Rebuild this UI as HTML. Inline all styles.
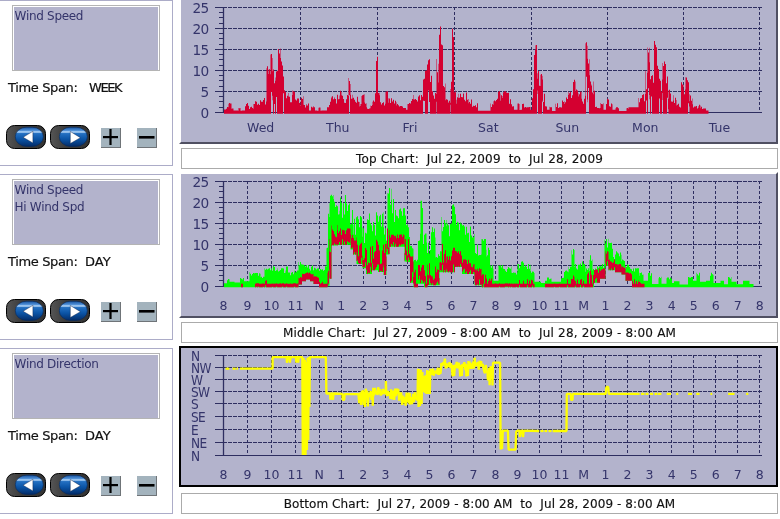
<!DOCTYPE html><html><head><meta charset="utf-8"><style>
html,body{margin:0;padding:0;background:#fff;}
body{width:780px;height:519px;position:relative;overflow:hidden;font-family:'DejaVu Sans', 'Liberation Sans', sans-serif;}
.bt{position:absolute;left:14.6px;font-size:12px;letter-spacing:-0.3px;color:#34346a;line-height:14px;white-space:pre;}
.ts{position:absolute;left:8px;font-size:13px;letter-spacing:-0.35px;color:#111;-webkit-text-stroke:0.2px #111;line-height:16px;white-space:pre;}
.tt{position:absolute;left:181px;width:595px;height:19px;border:1px solid #ababab;background:#fff;text-align:center;font-size:12px;line-height:20px;color:#111;white-space:pre;letter-spacing:0.18px;-webkit-text-stroke:0.15px #111;}
svg text{font-family:'DejaVu Sans', 'Liberation Sans', sans-serif;}
</style></head><body>
<div style="position:absolute;left:0;top:0px;width:172px;height:164px;border-top:1px solid #acacc8;border-right:1px solid #acacc8;border-bottom:1px solid #acacc8;"></div>
<div style="position:absolute;left:12px;top:5px;width:146px;height:64px;border:1px solid #b4b4b4;background:#b3b3cc;box-shadow:inset 1px 1px 0 #fff, inset -1px 0 0 #fff;"></div>
<div class="bt" style="top:9.2px">Wind Speed</div>
<div class="ts" style="top:80.3px">Time Span:</div>
<div class="ts" style="top:80.3px;left:89px;letter-spacing:-1.4px">WEEK</div>
<svg style="position:absolute;left:6px;top:125px" width="40" height="24" viewBox="0 0 40 24"><defs><linearGradient id="bg6125" x1="0" y1="0" x2="0" y2="1"><stop offset="0" stop-color="#1552a0"/><stop offset="0.17" stop-color="#4f8fd6"/><stop offset="0.25" stop-color="#bcdcfb"/><stop offset="0.33" stop-color="#2470c2"/><stop offset="0.62" stop-color="#0b54a6"/><stop offset="1" stop-color="#032c68"/></linearGradient><linearGradient id="obg6125" x1="0" y1="0" x2="1" y2="0"><stop offset="0" stop-color="#555"/><stop offset="0.4" stop-color="#3a3a3a"/><stop offset="1" stop-color="#333"/></linearGradient></defs><rect x="0.5" y="0.5" width="39" height="23" rx="8" ry="8" fill="url(#obg6125)" stroke="#000" stroke-width="1"/><rect x="9.3" y="2.2" width="28" height="19.2" rx="11" ry="9.6" fill="url(#bg6125)" stroke="#06285a" stroke-width="0.6"/><polygon points="17.1,12.3 26.9,6.3 26.9,17.9" fill="#fff" stroke="#0a1a40" stroke-width="0.4"/></svg>
<svg style="position:absolute;left:50px;top:125px" width="40" height="24" viewBox="0 0 40 24"><defs><linearGradient id="bg50125" x1="0" y1="0" x2="0" y2="1"><stop offset="0" stop-color="#1552a0"/><stop offset="0.17" stop-color="#4f8fd6"/><stop offset="0.25" stop-color="#bcdcfb"/><stop offset="0.33" stop-color="#2470c2"/><stop offset="0.62" stop-color="#0b54a6"/><stop offset="1" stop-color="#032c68"/></linearGradient><linearGradient id="obg50125" x1="0" y1="0" x2="1" y2="0"><stop offset="0" stop-color="#555"/><stop offset="0.4" stop-color="#3a3a3a"/><stop offset="1" stop-color="#333"/></linearGradient></defs><rect x="0.5" y="0.5" width="39" height="23" rx="8" ry="8" fill="url(#obg50125)" stroke="#000" stroke-width="1"/><rect x="9.3" y="2.2" width="28" height="19.2" rx="11" ry="9.6" fill="url(#bg50125)" stroke="#06285a" stroke-width="0.6"/><polygon points="20.3,6.5 20.3,18.5 30.4,12.7" fill="#fff" stroke="#0a1a40" stroke-width="0.4"/></svg>
<svg style="position:absolute;left:101px;top:128px" width="21" height="21" viewBox="0 0 21 21"><rect x="0" y="0" width="20" height="20" fill="#6f7478"/><rect x="0" y="0" width="19" height="19" fill="#a3b3bd"/><rect x="2" y="8" width="15" height="2.2" fill="#000"/><rect x="8.4" y="1" width="2.2" height="16" fill="#000"/></svg>
<svg style="position:absolute;left:137px;top:128px" width="21" height="21" viewBox="0 0 21 21"><rect x="0" y="0" width="20" height="20" fill="#6f7478"/><rect x="0" y="0" width="19" height="19" fill="#a3b3bd"/><rect x="2" y="8" width="15.5" height="2.6" fill="#000"/></svg>
<div style="position:absolute;left:0;top:174px;width:172px;height:164px;border-top:1px solid #acacc8;border-right:1px solid #acacc8;border-bottom:1px solid #acacc8;"></div>
<div style="position:absolute;left:12px;top:179px;width:146px;height:64px;border:1px solid #b4b4b4;background:#b3b3cc;box-shadow:inset 1px 1px 0 #fff, inset -1px 0 0 #fff;"></div>
<div class="bt" style="top:183.2px">Wind Speed</div>
<div class="bt" style="top:200.2px">Hi Wind Spd</div>
<div class="ts" style="top:254.3px">Time Span:</div>
<div class="ts" style="top:254.3px;left:85px;letter-spacing:0px">DAY</div>
<svg style="position:absolute;left:6px;top:299px" width="40" height="24" viewBox="0 0 40 24"><defs><linearGradient id="bg6299" x1="0" y1="0" x2="0" y2="1"><stop offset="0" stop-color="#1552a0"/><stop offset="0.17" stop-color="#4f8fd6"/><stop offset="0.25" stop-color="#bcdcfb"/><stop offset="0.33" stop-color="#2470c2"/><stop offset="0.62" stop-color="#0b54a6"/><stop offset="1" stop-color="#032c68"/></linearGradient><linearGradient id="obg6299" x1="0" y1="0" x2="1" y2="0"><stop offset="0" stop-color="#555"/><stop offset="0.4" stop-color="#3a3a3a"/><stop offset="1" stop-color="#333"/></linearGradient></defs><rect x="0.5" y="0.5" width="39" height="23" rx="8" ry="8" fill="url(#obg6299)" stroke="#000" stroke-width="1"/><rect x="9.3" y="2.2" width="28" height="19.2" rx="11" ry="9.6" fill="url(#bg6299)" stroke="#06285a" stroke-width="0.6"/><polygon points="17.1,12.3 26.9,6.3 26.9,17.9" fill="#fff" stroke="#0a1a40" stroke-width="0.4"/></svg>
<svg style="position:absolute;left:50px;top:299px" width="40" height="24" viewBox="0 0 40 24"><defs><linearGradient id="bg50299" x1="0" y1="0" x2="0" y2="1"><stop offset="0" stop-color="#1552a0"/><stop offset="0.17" stop-color="#4f8fd6"/><stop offset="0.25" stop-color="#bcdcfb"/><stop offset="0.33" stop-color="#2470c2"/><stop offset="0.62" stop-color="#0b54a6"/><stop offset="1" stop-color="#032c68"/></linearGradient><linearGradient id="obg50299" x1="0" y1="0" x2="1" y2="0"><stop offset="0" stop-color="#555"/><stop offset="0.4" stop-color="#3a3a3a"/><stop offset="1" stop-color="#333"/></linearGradient></defs><rect x="0.5" y="0.5" width="39" height="23" rx="8" ry="8" fill="url(#obg50299)" stroke="#000" stroke-width="1"/><rect x="9.3" y="2.2" width="28" height="19.2" rx="11" ry="9.6" fill="url(#bg50299)" stroke="#06285a" stroke-width="0.6"/><polygon points="20.3,6.5 20.3,18.5 30.4,12.7" fill="#fff" stroke="#0a1a40" stroke-width="0.4"/></svg>
<svg style="position:absolute;left:101px;top:302px" width="21" height="21" viewBox="0 0 21 21"><rect x="0" y="0" width="20" height="20" fill="#6f7478"/><rect x="0" y="0" width="19" height="19" fill="#a3b3bd"/><rect x="2" y="8" width="15" height="2.2" fill="#000"/><rect x="8.4" y="1" width="2.2" height="16" fill="#000"/></svg>
<svg style="position:absolute;left:137px;top:302px" width="21" height="21" viewBox="0 0 21 21"><rect x="0" y="0" width="20" height="20" fill="#6f7478"/><rect x="0" y="0" width="19" height="19" fill="#a3b3bd"/><rect x="2" y="8" width="15.5" height="2.6" fill="#000"/></svg>
<div style="position:absolute;left:0;top:348px;width:172px;height:164px;border-top:1px solid #acacc8;border-right:1px solid #acacc8;border-bottom:1px solid #acacc8;"></div>
<div style="position:absolute;left:12px;top:353px;width:146px;height:64px;border:1px solid #b4b4b4;background:#b3b3cc;box-shadow:inset 1px 1px 0 #fff, inset -1px 0 0 #fff;"></div>
<div class="bt" style="top:357.2px">Wind Direction</div>
<div class="ts" style="top:428.3px">Time Span:</div>
<div class="ts" style="top:428.3px;left:85px;letter-spacing:0px">DAY</div>
<svg style="position:absolute;left:6px;top:473px" width="40" height="24" viewBox="0 0 40 24"><defs><linearGradient id="bg6473" x1="0" y1="0" x2="0" y2="1"><stop offset="0" stop-color="#1552a0"/><stop offset="0.17" stop-color="#4f8fd6"/><stop offset="0.25" stop-color="#bcdcfb"/><stop offset="0.33" stop-color="#2470c2"/><stop offset="0.62" stop-color="#0b54a6"/><stop offset="1" stop-color="#032c68"/></linearGradient><linearGradient id="obg6473" x1="0" y1="0" x2="1" y2="0"><stop offset="0" stop-color="#555"/><stop offset="0.4" stop-color="#3a3a3a"/><stop offset="1" stop-color="#333"/></linearGradient></defs><rect x="0.5" y="0.5" width="39" height="23" rx="8" ry="8" fill="url(#obg6473)" stroke="#000" stroke-width="1"/><rect x="9.3" y="2.2" width="28" height="19.2" rx="11" ry="9.6" fill="url(#bg6473)" stroke="#06285a" stroke-width="0.6"/><polygon points="17.1,12.3 26.9,6.3 26.9,17.9" fill="#fff" stroke="#0a1a40" stroke-width="0.4"/></svg>
<svg style="position:absolute;left:50px;top:473px" width="40" height="24" viewBox="0 0 40 24"><defs><linearGradient id="bg50473" x1="0" y1="0" x2="0" y2="1"><stop offset="0" stop-color="#1552a0"/><stop offset="0.17" stop-color="#4f8fd6"/><stop offset="0.25" stop-color="#bcdcfb"/><stop offset="0.33" stop-color="#2470c2"/><stop offset="0.62" stop-color="#0b54a6"/><stop offset="1" stop-color="#032c68"/></linearGradient><linearGradient id="obg50473" x1="0" y1="0" x2="1" y2="0"><stop offset="0" stop-color="#555"/><stop offset="0.4" stop-color="#3a3a3a"/><stop offset="1" stop-color="#333"/></linearGradient></defs><rect x="0.5" y="0.5" width="39" height="23" rx="8" ry="8" fill="url(#obg50473)" stroke="#000" stroke-width="1"/><rect x="9.3" y="2.2" width="28" height="19.2" rx="11" ry="9.6" fill="url(#bg50473)" stroke="#06285a" stroke-width="0.6"/><polygon points="20.3,6.5 20.3,18.5 30.4,12.7" fill="#fff" stroke="#0a1a40" stroke-width="0.4"/></svg>
<svg style="position:absolute;left:101px;top:476px" width="21" height="21" viewBox="0 0 21 21"><rect x="0" y="0" width="20" height="20" fill="#6f7478"/><rect x="0" y="0" width="19" height="19" fill="#a3b3bd"/><rect x="2" y="8" width="15" height="2.2" fill="#000"/><rect x="8.4" y="1" width="2.2" height="16" fill="#000"/></svg>
<svg style="position:absolute;left:137px;top:476px" width="21" height="21" viewBox="0 0 21 21"><rect x="0" y="0" width="20" height="20" fill="#6f7478"/><rect x="0" y="0" width="19" height="19" fill="#a3b3bd"/><rect x="2" y="8" width="15.5" height="2.6" fill="#000"/></svg>
<svg style="position:absolute;left:0;top:0" width="780" height="519" viewBox="0 0 780 519">
<polygon points="181,142 776,142 776,0 778,-2 778,144 179,144" fill="#505062"/>
<rect x="181" y="0" width="595" height="142" fill="#b3b3cc"/>
<line x1="223" y1="91.5" x2="762" y2="91.5" stroke="#2e2e60" stroke-width="1" stroke-dasharray="4 1"/>
<line x1="223" y1="70.5" x2="762" y2="70.5" stroke="#2e2e60" stroke-width="1" stroke-dasharray="4 1"/>
<line x1="223" y1="49.5" x2="762" y2="49.5" stroke="#2e2e60" stroke-width="1" stroke-dasharray="4 1"/>
<line x1="223" y1="28.5" x2="762" y2="28.5" stroke="#2e2e60" stroke-width="1" stroke-dasharray="4 1"/>
<line x1="223" y1="7.5" x2="762" y2="7.5" stroke="#2e2e60" stroke-width="1" stroke-dasharray="4 1"/>
<line x1="300.5" y1="7" x2="300.5" y2="112.4" stroke="#2e2e60" stroke-width="1" stroke-dasharray="3 2"/>
<line x1="377.5" y1="7" x2="377.5" y2="112.4" stroke="#2e2e60" stroke-width="1" stroke-dasharray="3 2"/>
<line x1="454.5" y1="7" x2="454.5" y2="112.4" stroke="#2e2e60" stroke-width="1" stroke-dasharray="3 2"/>
<line x1="531.5" y1="7" x2="531.5" y2="112.4" stroke="#2e2e60" stroke-width="1" stroke-dasharray="3 2"/>
<line x1="607.5" y1="7" x2="607.5" y2="112.4" stroke="#2e2e60" stroke-width="1" stroke-dasharray="3 2"/>
<line x1="683.5" y1="7" x2="683.5" y2="112.4" stroke="#2e2e60" stroke-width="1" stroke-dasharray="3 2"/>
<line x1="759.5" y1="7" x2="759.5" y2="112.4" stroke="#2e2e60" stroke-width="1" stroke-dasharray="3 2"/>
<line x1="223" y1="112.5" x2="762" y2="112.5" stroke="#2e2e60" stroke-width="1.2"/>
<line x1="223.5" y1="7" x2="223.5" y2="113" stroke="#2e2e60" stroke-width="1.3"/>
<polygon points="224,109.51 224.5,109.51 224.5,109.51 225,109.51 225,109.51 225.5,109.51 225.5,109.51 226,109.51 226,108.65 226.5,108.65 226.5,108.65 227,108.65 227,107.02 227.5,107.02 227.5,106.89 228,106.89 228,107.15 228.5,107.15 228.5,103.67 229,103.67 229,103.09 229.5,103.09 229.5,103.09 230,103.09 230,103.39 230.5,103.39 230.5,103.39 231,103.39 231,103.6 231.5,103.6 231.5,108.67 232,108.67 232,108.46 232.5,108.46 232.5,108.46 233,108.46 233,108.46 233.5,108.46 233.5,110.56 234,110.56 234,110.56 234.5,110.56 234.5,110.56 235,110.56 235,110.56 235.5,110.56 235.5,110.56 236,110.56 236,110.56 236.5,110.56 236.5,110.56 237,110.56 237,110.56 237.5,110.56 237.5,110.61 238,110.61 238,110.63 238.5,110.63 238.5,107.95 239,107.95 239,108.15 239.5,108.15 239.5,108.15 240,108.15 240,108 240.5,108 240.5,110.65 241,110.65 241,110.68 241.5,110.68 241.5,110.68 242,110.68 242,110.56 242.5,110.56 242.5,110.56 243,110.56 243,110.56 243.5,110.56 243.5,110.56 244,110.56 244,110.56 244.5,110.56 244.5,110.56 245,110.56 245,106.22 245.5,106.22 245.5,106.22 246,106.22 246,103.97 246.5,103.97 246.5,103.97 247,103.97 247,103.11 247.5,103.11 247.5,103.11 248,103.11 248,105.83 248.5,105.83 248.5,105.83 249,105.83 249,109.04 249.5,109.04 249.5,109.04 250,109.04 250,107.35 250.5,107.35 250.5,107.35 251,107.35 251,106.82 251.5,106.82 251.5,106.82 252,106.82 252,108.06 252.5,108.06 252.5,108.06 253,108.06 253,108.73 253.5,108.73 253.5,103.88 254,103.88 254,104.1 254.5,104.1 254.5,104.1 255,104.1 255,101.36 255.5,101.36 255.5,101.36 256,101.36 256,101.63 256.5,101.63 256.5,101.63 257,101.63 257,104.87 257.5,104.87 257.5,104.87 258,104.87 258,103.76 258.5,103.76 258.5,103.76 259,103.76 259,104.93 259.5,104.93 259.5,104.93 260,104.93 260,100.31 260.5,100.31 260.5,100.31 261,100.31 261,101.72 261.5,101.72 261.5,101.72 262,101.72 262,101.81 262.5,101.81 262.5,101.81 263,101.81 263,99.89 263.5,99.89 263.5,99.89 264,99.89 264,98.04 264.5,98.04 264.5,98.04 265,98.04 265,104.39 265.5,104.39 265.5,104.39 266,104.39 266,101.56 266.5,101.56 266.5,68.2 267,68.2 267,66.21 267.5,66.21 267.5,66.21 268,66.21 268,69.58 268.5,69.58 268.5,74.03 269,74.03 269,69.3 269.5,69.3 269.5,69.3 270,69.3 270,74.22 270.5,74.22 270.5,54.59 271,54.59 271,53.95 271.5,53.95 271.5,53.95 272,53.95 272,58.06 272.5,58.06 272.5,71.17 273,71.17 273,69.61 273.5,69.61 273.5,69.61 274,69.61 274,83.15 274.5,83.15 274.5,83.15 275,83.15 275,77.54 275.5,77.54 275.5,80.78 276,80.78 276,71.41 276.5,71.41 276.5,71.41 277,71.41 277,70.75 277.5,70.75 277.5,70.75 278,70.75 278,48.97 278.5,48.97 278.5,48.97 279,48.97 279,53.38 279.5,53.38 279.5,53.38 280,53.38 280,48.45 280.5,48.45 280.5,58 281,58 281,61.42 281.5,61.42 281.5,61.42 282,61.42 282,65.44 282.5,65.44 282.5,65.44 283,65.44 283,76.46 283.5,76.46 283.5,76.46 284,76.46 284,90.31 284.5,90.31 284.5,90.31 285,90.31 285,91.84 285.5,91.84 285.5,91.84 286,91.84 286,98.34 286.5,98.34 286.5,98.34 287,98.34 287,95.84 287.5,95.84 287.5,95.84 288,95.84 288,92.96 288.5,92.96 288.5,96.42 289,96.42 289,96.87 289.5,96.87 289.5,96.87 290,96.87 290,102.28 290.5,102.28 290.5,102.28 291,102.28 291,102.21 291.5,102.21 291.5,102.21 292,102.21 292,95.07 292.5,95.07 292.5,90.46 293,90.46 293,91.36 293.5,91.36 293.5,91.36 294,91.36 294,91.72 294.5,91.72 294.5,91.72 295,91.72 295,99.46 295.5,99.46 295.5,99.46 296,99.46 296,100.4 296.5,100.4 296.5,100.4 297,100.4 297,98.54 297.5,98.54 297.5,98.54 298,98.54 298,98.39 298.5,98.39 298.5,98.39 299,98.39 299,102.9 299.5,102.9 299.5,102.9 300,102.9 300,101.52 300.5,101.52 300.5,105.41 301,105.41 301,97.87 301.5,97.87 301.5,97.87 302,97.87 302,98.98 302.5,98.98 302.5,98.98 303,98.98 303,96.3 303.5,96.3 303.5,104.69 304,104.69 304,104.96 304.5,104.96 304.5,104.96 305,104.96 305,107.47 305.5,107.47 305.5,107.47 306,107.47 306,105.53 306.5,105.53 306.5,104.06 307,104.06 307,105.5 307.5,105.5 307.5,105.5 308,105.5 308,103.58 308.5,103.58 308.5,103.58 309,103.58 309,110.56 309.5,110.56 309.5,110.56 310,110.56 310,110.56 310.5,110.56 310.5,110.56 311,110.56 311,106.83 311.5,106.83 311.5,106.83 312,106.83 312,107.52 312.5,107.52 312.5,107.52 313,107.52 313,106.07 313.5,106.07 313.5,107.13 314,107.13 314,107.26 314.5,107.26 314.5,107.26 315,107.26 315,110.56 315.5,110.56 315.5,110.56 316,110.56 316,110.56 316.5,110.56 316.5,110.56 317,110.56 317,110.67 317.5,110.67 317.5,110.67 318,110.67 318,110.67 318.5,110.67 318.5,107.77 319,107.77 319,107.5 319.5,107.5 319.5,107.5 320,107.5 320,107.62 320.5,107.62 320.5,110.64 321,110.64 321,110.64 321.5,110.64 321.5,110.56 322,110.56 322,110.56 322.5,110.56 322.5,110.56 323,110.56 323,110.56 323.5,110.56 323.5,110.56 324,110.56 324,110.56 324.5,110.56 324.5,110.56 325,110.56 325,110.56 325.5,110.56 325.5,110.56 326,110.56 326,110.56 326.5,110.56 326.5,110.56 327,110.56 327,107.2 327.5,107.2 327.5,107.2 328,107.2 328,107.2 328.5,107.2 328.5,107.2 329,107.2 329,104.88 329.5,104.88 329.5,104.88 330,104.88 330,101.63 330.5,101.63 330.5,101.63 331,101.63 331,98.25 331.5,98.25 331.5,96.79 332,96.79 332,96.15 332.5,96.15 332.5,96.15 333,96.15 333,99.31 333.5,99.31 333.5,99.31 334,99.31 334,97.14 334.5,97.14 334.5,98.57 335,98.57 335,98.95 335.5,98.95 335.5,98.95 336,98.95 336,103.6 336.5,103.6 336.5,103.6 337,103.6 337,94.76 337.5,94.76 337.5,94.76 338,94.76 338,99.26 338.5,99.26 338.5,99.26 339,99.26 339,98.96 339.5,98.96 339.5,95.48 340,95.48 340,90.72 340.5,90.72 340.5,90.72 341,90.72 341,92.05 341.5,92.05 341.5,95.18 342,95.18 342,95.73 342.5,95.73 342.5,95.73 343,95.73 343,99.03 343.5,99.03 343.5,99.03 344,99.03 344,102.85 344.5,102.85 344.5,102.85 345,102.85 345,102.95 345.5,102.95 345.5,102.95 346,102.95 346,99.33 346.5,99.33 346.5,99.33 347,99.33 347,95.12 347.5,95.12 347.5,95.12 348,95.12 348,96.03 348.5,96.03 348.5,77.88 349,77.88 349,80.99 349.5,80.99 349.5,80.99 350,80.99 350,84.12 350.5,84.12 350.5,94.76 351,94.76 351,98.86 351.5,98.86 351.5,98.86 352,98.86 352,94.78 352.5,94.78 352.5,98.44 353,98.44 353,97.76 353.5,97.76 353.5,97.76 354,97.76 354,99.66 354.5,99.66 354.5,99.66 355,99.66 355,101.65 355.5,101.65 355.5,101.65 356,101.65 356,102.79 356.5,102.79 356.5,102.79 357,102.79 357,96.65 357.5,96.65 357.5,96.65 358,96.65 358,101.85 358.5,101.85 358.5,101.85 359,101.85 359,101.91 359.5,101.91 359.5,106.53 360,106.53 360,105.88 360.5,105.88 360.5,103.93 361,103.93 361,104.06 361.5,104.06 361.5,95.98 362,95.98 362,95.31 362.5,95.31 362.5,95.31 363,95.31 363,94.66 363.5,94.66 363.5,94.66 364,94.66 364,94.33 364.5,94.33 364.5,102.46 365,102.46 365,103.66 365.5,103.66 365.5,103.66 366,103.66 366,103.15 366.5,103.15 366.5,107.27 367,107.27 367,108.78 367.5,108.78 367.5,108.78 368,108.78 368,108.93 368.5,108.93 368.5,108.93 369,108.93 369,108.44 369.5,108.44 369.5,108.44 370,108.44 370,108.17 370.5,108.17 370.5,105.53 371,105.53 371,106 371.5,106 371.5,106 372,106 372,104.99 372.5,104.99 372.5,101.63 373,101.63 373,100.43 373.5,100.43 373.5,100.43 374,100.43 374,101.84 374.5,101.84 374.5,101.84 375,101.84 375,93.17 375.5,93.17 375.5,93.17 376,93.17 376,61.08 376.5,61.08 376.5,61.08 377,61.08 377,56.78 377.5,56.78 377.5,56.78 378,56.78 378,93.06 378.5,93.06 378.5,93.06 379,93.06 379,92.64 379.5,92.64 379.5,95.2 380,95.2 380,102.35 380.5,102.35 380.5,102.35 381,102.35 381,104.39 381.5,104.39 381.5,104.39 382,104.39 382,103.11 382.5,103.11 382.5,103.11 383,103.11 383,102.27 383.5,102.27 383.5,102.27 384,102.27 384,105.54 384.5,105.54 384.5,105.54 385,105.54 385,103.72 385.5,103.72 385.5,91.69 386,91.69 386,91.53 386.5,91.53 386.5,91.53 387,91.53 387,91.27 387.5,91.27 387.5,91.27 388,91.27 388,98.19 388.5,98.19 388.5,102.68 389,102.68 389,98.49 389.5,98.49 389.5,98.49 390,98.49 390,102.98 390.5,102.98 390.5,102.98 391,102.98 391,98.24 391.5,98.24 391.5,98.24 392,98.24 392,101.57 392.5,101.57 392.5,101.57 393,101.57 393,99.82 393.5,99.82 393.5,99.82 394,99.82 394,103.52 394.5,103.52 394.5,103.52 395,103.52 395,100.63 395.5,100.63 395.5,100.63 396,100.63 396,102.3 396.5,102.3 396.5,105.43 397,105.43 397,104 397.5,104 397.5,104 398,104 398,105.29 398.5,105.29 398.5,105.29 399,105.29 399,106.08 399.5,106.08 399.5,106.88 400,106.88 400,105.91 400.5,105.91 400.5,105.91 401,105.91 401,105.93 401.5,105.93 401.5,105.93 402,105.93 402,106.38 402.5,106.38 402.5,106.38 403,106.38 403,108.04 403.5,108.04 403.5,108.04 404,108.04 404,108.04 404.5,108.04 404.5,108.04 405,108.04 405,108.04 405.5,108.04 405.5,108.04 406,108.04 406,109.72 406.5,109.72 406.5,109.72 407,109.72 407,109.72 407.5,109.72 407.5,104.02 408,104.02 408,103.93 408.5,103.93 408.5,103.93 409,103.93 409,102.89 409.5,102.89 409.5,102.89 410,102.89 410,103.55 410.5,103.55 410.5,103.55 411,103.55 411,100.97 411.5,100.97 411.5,100.97 412,100.97 412,99.05 412.5,99.05 412.5,99.05 413,99.05 413,99.53 413.5,99.53 413.5,95.06 414,95.06 414,99.51 414.5,99.51 414.5,99.51 415,99.51 415,99.02 415.5,99.02 415.5,99.02 416,99.02 416,100.09 416.5,100.09 416.5,100.09 417,100.09 417,101.54 417.5,101.54 417.5,101.54 418,101.54 418,96.46 418.5,96.46 418.5,96.46 419,96.46 419,95.24 419.5,95.24 419.5,95.24 420,95.24 420,100.35 420.5,100.35 420.5,100.35 421,100.35 421,95.02 421.5,95.02 421.5,95.02 422,95.02 422,96.74 422.5,96.74 422.5,96.74 423,96.74 423,79.42 423.5,79.42 423.5,79.42 424,79.42 424,78.81 424.5,78.81 424.5,78.81 425,78.81 425,70.67 425.5,70.67 425.5,70.67 426,70.67 426,70.56 426.5,70.56 426.5,70.56 427,70.56 427,64.39 427.5,64.39 427.5,64.39 428,64.39 428,60.35 428.5,60.35 428.5,60.35 429,60.35 429,59.29 429.5,59.29 429.5,59.29 430,59.29 430,82.11 430.5,82.11 430.5,82.11 431,82.11 431,75.8 431.5,75.8 431.5,75.8 432,75.8 432,91.27 432.5,91.27 432.5,91.27 433,91.27 433,95.54 433.5,95.54 433.5,95.54 434,95.54 434,98.77 434.5,98.77 434.5,98.77 435,98.77 435,92.95 435.5,92.95 435.5,92.95 436,92.95 436,94.04 436.5,94.04 436.5,58.93 437,58.93 437,72.37 437.5,72.37 437.5,72.37 438,72.37 438,82.62 438.5,82.62 438.5,63.75 439,63.75 439,34.69 439.5,34.69 439.5,34.69 440,34.69 440,26.51 440.5,26.51 440.5,26.51 441,26.51 441,44.44 441.5,44.44 441.5,44.44 442,44.44 442,45.14 442.5,45.14 442.5,45.14 443,45.14 443,86.1 443.5,86.1 443.5,86.1 444,86.1 444,87.33 444.5,87.33 444.5,87.33 445,87.33 445,83.55 445.5,83.55 445.5,100.32 446,100.32 446,99.27 446.5,99.27 446.5,99.27 447,99.27 447,99.76 447.5,99.76 447.5,99.76 448,99.76 448,101.67 448.5,101.67 448.5,102.92 449,102.92 449,100.65 449.5,100.65 449.5,100.65 450,100.65 450,102.85 450.5,102.85 450.5,88.97 451,88.97 451,81.65 451.5,81.65 451.5,81.65 452,81.65 452,28.85 452.5,28.85 452.5,28.85 453,28.85 453,37.08 453.5,37.08 453.5,37.08 454,37.08 454,92.15 454.5,92.15 454.5,92.15 455,92.15 455,90.4 455.5,90.4 455.5,92.53 456,92.53 456,99.69 456.5,99.69 456.5,103.67 457,103.67 457,97.23 457.5,97.23 457.5,97.23 458,97.23 458,98.04 458.5,98.04 458.5,93.85 459,93.85 459,97.8 459.5,97.8 459.5,97.8 460,97.8 460,93.75 460.5,93.75 460.5,93.75 461,93.75 461,96.94 461.5,96.94 461.5,96.94 462,96.94 462,97.37 462.5,97.37 462.5,97.37 463,97.37 463,93.4 463.5,93.4 463.5,93.4 464,93.4 464,99.77 464.5,99.77 464.5,99.77 465,99.77 465,101.36 465.5,101.36 465.5,101.36 466,101.36 466,92.6 466.5,92.6 466.5,92.6 467,92.6 467,99.81 467.5,99.81 467.5,99.81 468,99.81 468,99.06 468.5,99.06 468.5,103.22 469,103.22 469,102.09 469.5,102.09 469.5,102.09 470,102.09 470,103.76 470.5,103.76 470.5,103.76 471,103.76 471,99.56 471.5,99.56 471.5,99.56 472,99.56 472,106.7 472.5,106.7 472.5,106.7 473,106.7 473,105.76 473.5,105.76 473.5,105.76 474,105.76 474,105.91 474.5,105.91 474.5,105.91 475,105.91 475,105.31 475.5,105.31 475.5,105.31 476,105.31 476,107.18 476.5,107.18 476.5,107.18 477,107.18 477,103.22 477.5,103.22 477.5,103.22 478,103.22 478,110.77 478.5,110.77 478.5,110.77 479,110.77 479,110.77 479.5,110.77 479.5,110.77 480,110.77 480,110.77 480.5,110.77 480.5,110.77 481,110.77 481,110.77 481.5,110.77 481.5,110.77 482,110.77 482,110.77 482.5,110.77 482.5,110.77 483,110.77 483,110.77 483.5,110.77 483.5,110.77 484,110.77 484,110.77 484.5,110.77 484.5,110.77 485,110.77 485,110.77 485.5,110.77 485.5,110.77 486,110.77 486,110.77 486.5,110.77 486.5,110.77 487,110.77 487,110.77 487.5,110.77 487.5,110.77 488,110.77 488,110.77 488.5,110.77 488.5,110.77 489,110.77 489,110.77 489.5,110.77 489.5,110.77 490,110.77 490,110.77 490.5,110.77 490.5,103.45 491,103.45 491,107.09 491.5,107.09 491.5,107.09 492,107.09 492,104.29 492.5,104.29 492.5,104.29 493,104.29 493,104.67 493.5,104.67 493.5,101.14 494,101.14 494,100.48 494.5,100.48 494.5,100.48 495,100.48 495,101.14 495.5,101.14 495.5,101.14 496,101.14 496,100.1 496.5,100.1 496.5,100.1 497,100.1 497,98.63 497.5,98.63 497.5,98.63 498,98.63 498,92.11 498.5,92.11 498.5,92.11 499,92.11 499,91.06 499.5,91.06 499.5,91.06 500,91.06 500,93.5 500.5,93.5 500.5,100.65 501,100.65 501,95.18 501.5,95.18 501.5,95.18 502,95.18 502,98.03 502.5,98.03 502.5,96.1 503,96.1 503,92.14 503.5,92.14 503.5,92.14 504,92.14 504,91.2 504.5,91.2 504.5,91.2 505,91.2 505,91.24 505.5,91.24 505.5,91.24 506,91.24 506,92.39 506.5,92.39 506.5,92.39 507,92.39 507,92.96 507.5,92.96 507.5,92.96 508,92.96 508,92.81 508.5,92.81 508.5,92.81 509,92.81 509,103.73 509.5,103.73 509.5,103.73 510,103.73 510,99.36 510.5,99.36 510.5,99.36 511,99.36 511,104.22 511.5,104.22 511.5,104.22 512,104.22 512,106.45 512.5,106.45 512.5,106.45 513,106.45 513,106.21 513.5,106.21 513.5,106.21 514,106.21 514,109.72 514.5,109.72 514.5,109.72 515,109.72 515,109.72 515.5,109.72 515.5,109.72 516,109.72 516,109.81 516.5,109.81 516.5,109.81 517,109.81 517,109.84 517.5,109.84 517.5,103.58 518,103.58 518,103.4 518.5,103.4 518.5,103.4 519,103.4 519,104.08 519.5,104.08 519.5,109.94 520,109.94 520,109.88 520.5,109.88 520.5,109.72 521,109.72 521,109.86 521.5,109.86 521.5,109.86 522,109.86 522,103.9 522.5,103.9 522.5,103.9 523,103.9 523,103.85 523.5,103.85 523.5,103.85 524,103.85 524,107.4 524.5,107.4 524.5,107.4 525,107.4 525,106.92 525.5,106.92 525.5,107.11 526,107.11 526,107.51 526.5,107.51 526.5,107.51 527,107.51 527,107.27 527.5,107.27 527.5,107.27 528,107.27 528,107.37 528.5,107.37 528.5,107.37 529,107.37 529,106.99 529.5,106.99 529.5,106.99 530,106.99 530,106.89 530.5,106.89 530.5,109.72 531,109.72 531,109.72 531.5,109.72 531.5,109.72 532,109.72 532,98.16 532.5,98.16 532.5,98.16 533,98.16 533,89.18 533.5,89.18 533.5,89.18 534,89.18 534,55.08 534.5,55.08 534.5,55.08 535,55.08 535,49.67 535.5,49.67 535.5,45.35 536,45.35 536,45.02 536.5,45.02 536.5,45.02 537,45.02 537,73.13 537.5,73.13 537.5,78.73 538,78.73 538,70.97 538.5,70.97 538.5,70.97 539,70.97 539,85.78 539.5,85.78 539.5,85.78 540,85.78 540,86.12 540.5,86.12 540.5,74.71 541,74.71 541,73.91 541.5,73.91 541.5,73.91 542,73.91 542,75.8 542.5,75.8 542.5,79.59 543,79.59 543,102.03 543.5,102.03 543.5,102.03 544,102.03 544,93.85 544.5,93.85 544.5,93.85 545,93.85 545,106.32 545.5,106.32 545.5,106.32 546,106.32 546,106.45 546.5,106.45 546.5,106.45 547,106.45 547,109.72 547.5,109.72 547.5,109.72 548,109.72 548,109.72 548.5,109.72 548.5,109.84 549,109.84 549,109.73 549.5,109.73 549.5,106.8 550,106.8 550,107.33 550.5,107.33 550.5,107.33 551,107.33 551,107.16 551.5,107.16 551.5,107.16 552,107.16 552,111.03 552.5,111.03 552.5,111.03 553,111.03 553,110.98 553.5,110.98 553.5,110.98 554,110.98 554,110.98 554.5,110.98 554.5,110.98 555,110.98 555,110.98 555.5,110.98 555.5,103.86 556,103.86 556,107.1 556.5,107.1 556.5,107.1 557,107.1 557,103.32 557.5,103.32 557.5,103.32 558,103.32 558,108.01 558.5,108.01 558.5,108.01 559,108.01 559,107.2 559.5,107.2 559.5,107.2 560,107.2 560,107.25 560.5,107.25 560.5,107.25 561,107.25 561,107.42 561.5,107.42 561.5,107.42 562,107.42 562,100.56 562.5,100.56 562.5,100.56 563,100.56 563,102.08 563.5,102.08 563.5,102.08 564,102.08 564,103.96 564.5,103.96 564.5,101.15 565,101.15 565,102.34 565.5,102.34 565.5,102.34 566,102.34 566,97.62 566.5,97.62 566.5,97.62 567,97.62 567,98.99 567.5,98.99 567.5,98.99 568,98.99 568,94.97 568.5,94.97 568.5,91.85 569,91.85 569,93.17 569.5,93.17 569.5,93.17 570,93.17 570,91.81 570.5,91.81 570.5,91.81 571,91.81 571,97.97 571.5,97.97 571.5,97.97 572,97.97 572,95.31 572.5,95.31 572.5,95.31 573,95.31 573,82.06 573.5,82.06 573.5,82.06 574,82.06 574,79.82 574.5,79.82 574.5,79.82 575,79.82 575,81.47 575.5,81.47 575.5,91.5 576,91.5 576,89.57 576.5,89.57 576.5,89.57 577,89.57 577,90.43 577.5,90.43 577.5,90.43 578,90.43 578,93.14 578.5,93.14 578.5,96.55 579,96.55 579,94.32 579.5,94.32 579.5,94.32 580,94.32 580,91.76 580.5,91.76 580.5,91.76 581,91.76 581,91.41 581.5,91.41 581.5,98.7 582,98.7 582,101.62 582.5,101.62 582.5,101.62 583,101.62 583,103.78 583.5,103.78 583.5,103.78 584,103.78 584,98.77 584.5,98.77 584.5,98.77 585,98.77 585,95.81 585.5,95.81 585.5,43.32 586,43.32 586,42.33 586.5,42.33 586.5,42.33 587,42.33 587,45.71 587.5,45.71 587.5,58.73 588,58.73 588,63.54 588.5,63.54 588.5,63.54 589,63.54 589,59.24 589.5,59.24 589.5,75.32 590,75.32 590,81.44 590.5,81.44 590.5,81.44 591,81.44 591,84.52 591.5,84.52 591.5,85.69 592,85.69 592,92.48 592.5,92.48 592.5,92.48 593,92.48 593,81.4 593.5,81.4 593.5,94.35 594,94.35 594,90.82 594.5,90.82 594.5,90.82 595,90.82 595,106.91 595.5,106.91 595.5,106.91 596,106.91 596,106.67 596.5,106.67 596.5,106.67 597,106.67 597,108.04 597.5,108.04 597.5,108.04 598,108.04 598,108.04 598.5,108.04 598.5,108.04 599,108.04 599,108.04 599.5,108.04 599.5,108.51 600,108.51 600,108.09 600.5,108.09 600.5,103.12 601,103.12 601,104.09 601.5,104.09 601.5,104.09 602,104.09 602,104.24 602.5,104.24 602.5,104.24 603,104.24 603,103.26 603.5,103.26 603.5,109.77 604,109.77 604,109.72 604.5,109.72 604.5,109.72 605,109.72 605,109.72 605.5,109.72 605.5,109.72 606,109.72 606,103.92 606.5,103.92 606.5,103.92 607,103.92 607,98.82 607.5,98.82 607.5,98.82 608,98.82 608,99.5 608.5,99.5 608.5,99.5 609,99.5 609,106.33 609.5,106.33 609.5,106.33 610,106.33 610,106.77 610.5,106.77 610.5,106.77 611,106.77 611,103.57 611.5,103.57 611.5,103.57 612,103.57 612,104.34 612.5,104.34 612.5,109.72 613,109.72 613,109.72 613.5,109.72 613.5,109.72 614,109.72 614,109.72 614.5,109.72 614.5,109.72 615,109.72 615,109.72 615.5,109.72 615.5,108.27 616,108.27 616,107.16 616.5,107.16 616.5,107.16 617,107.16 617,107.21 617.5,107.21 617.5,107.21 618,107.21 618,108.21 618.5,108.21 618.5,108.21 619,108.21 619,110.98 619.5,110.98 619.5,110.98 620,110.98 620,110.98 620.5,110.98 620.5,110.98 621,110.98 621,110.98 621.5,110.98 621.5,110.98 622,110.98 622,110.98 622.5,110.98 622.5,110.98 623,110.98 623,110.98 623.5,110.98 623.5,110.98 624,110.98 624,110.98 624.5,110.98 624.5,110.98 625,110.98 625,110.98 625.5,110.98 625.5,110.98 626,110.98 626,110.98 626.5,110.98 626.5,108.33 627,108.33 627,107.99 627.5,107.99 627.5,107.99 628,107.99 628,108.69 628.5,108.69 628.5,107.2 629,107.2 629,107.2 629.5,107.2 629.5,107.2 630,107.2 630,107.2 630.5,107.2 630.5,107.2 631,107.2 631,107.2 631.5,107.2 631.5,107.2 632,107.2 632,107.2 632.5,107.2 632.5,107.2 633,107.2 633,107.2 633.5,107.2 633.5,107.2 634,107.2 634,107.2 634.5,107.2 634.5,107.2 635,107.2 635,107.2 635.5,107.2 635.5,107.2 636,107.2 636,107.2 636.5,107.2 636.5,107.2 637,107.2 637,107.2 637.5,107.2 637.5,107.2 638,107.2 638,107.2 638.5,107.2 638.5,98.04 639,98.04 639,102.26 639.5,102.26 639.5,102.26 640,102.26 640,98.53 640.5,98.53 640.5,98.53 641,98.53 641,98.03 641.5,98.03 641.5,98.03 642,98.03 642,95.07 642.5,95.07 642.5,95.07 643,95.07 643,94.34 643.5,94.34 643.5,94.34 644,94.34 644,101.22 644.5,101.22 644.5,101.22 645,101.22 645,94.11 645.5,94.11 645.5,70.66 646,70.66 646,89.18 646.5,89.18 646.5,89.18 647,89.18 647,72.83 647.5,72.83 647.5,47.51 648,47.51 648,52.52 648.5,52.52 648.5,52.52 649,52.52 649,47.86 649.5,47.86 649.5,62.19 650,62.19 650,79.17 650.5,79.17 650.5,79.17 651,79.17 651,76.07 651.5,76.07 651.5,76.07 652,76.07 652,75.37 652.5,75.37 652.5,75.37 653,75.37 653,82.64 653.5,82.64 653.5,82.64 654,82.64 654,41.02 654.5,41.02 654.5,41.02 655,41.02 655,44.74 655.5,44.74 655.5,44.74 656,44.74 656,47.29 656.5,47.29 656.5,47.29 657,47.29 657,65.66 657.5,65.66 657.5,65.66 658,65.66 658,69.04 658.5,69.04 658.5,69.04 659,69.04 659,78.67 659.5,78.67 659.5,78.67 660,78.67 660,80.82 660.5,80.82 660.5,80.82 661,80.82 661,91.46 661.5,91.46 661.5,91.46 662,91.46 662,79.41 662.5,79.41 662.5,63.07 663,63.07 663,65.93 663.5,65.93 663.5,65.93 664,65.93 664,61.43 664.5,61.43 664.5,61.43 665,61.43 665,63.93 665.5,63.93 665.5,63.93 666,63.93 666,83.37 666.5,83.37 666.5,83.37 667,83.37 667,76.54 667.5,76.54 667.5,76.54 668,76.54 668,90.41 668.5,90.41 668.5,98.76 669,98.76 669,89.72 669.5,89.72 669.5,89.72 670,89.72 670,93.49 670.5,93.49 670.5,93.49 671,93.49 671,101.59 671.5,101.59 671.5,101.59 672,101.59 672,101.68 672.5,101.68 672.5,101.68 673,101.68 673,100.58 673.5,100.58 673.5,95.17 674,95.17 674,102.94 674.5,102.94 674.5,102.94 675,102.94 675,97.67 675.5,97.67 675.5,97.67 676,97.67 676,100.07 676.5,100.07 676.5,105.59 677,105.59 677,104.63 677.5,104.63 677.5,104.63 678,104.63 678,103.73 678.5,103.73 678.5,103.73 679,103.73 679,106.63 679.5,106.63 679.5,106.63 680,106.63 680,107.42 680.5,107.42 680.5,107.42 681,107.42 681,82.14 681.5,82.14 681.5,82.14 682,82.14 682,84.53 682.5,84.53 682.5,84.53 683,84.53 683,84.68 683.5,84.68 683.5,90.01 684,90.01 684,94.25 684.5,94.25 684.5,94.25 685,94.25 685,89.56 685.5,89.56 685.5,77.32 686,77.32 686,77.51 686.5,77.51 686.5,77.51 687,77.51 687,80.21 687.5,80.21 687.5,80.21 688,80.21 688,82.15 688.5,82.15 688.5,82.15 689,82.15 689,94.18 689.5,94.18 689.5,101.32 690,101.32 690,95.43 690.5,95.43 690.5,95.43 691,95.43 691,100.82 691.5,100.82 691.5,100.82 692,100.82 692,98.61 692.5,98.61 692.5,104.27 693,104.27 693,107.43 693.5,107.43 693.5,107.43 694,107.43 694,106.6 694.5,106.6 694.5,106.6 695,106.6 695,106.6 695.5,106.6 695.5,106.6 696,106.6 696,106.09 696.5,106.09 696.5,106.09 697,106.09 697,108.56 697.5,108.56 697.5,108.56 698,108.56 698,107.86 698.5,107.86 698.5,105.95 699,105.95 699,104.87 699.5,104.87 699.5,104.87 700,104.87 700,105.62 700.5,105.62 700.5,108.22 701,108.22 701,106.79 701.5,106.79 701.5,106.79 702,106.79 702,108.89 702.5,108.89 702.5,108.89 703,108.89 703,108.46 703.5,108.46 703.5,108.46 704,108.46 704,108.46 704.5,108.46 704.5,108.46 705,108.46 705,108.46 705.5,108.46 705.5,108.46 706,108.46 706,110.56 706.5,110.56 706.5,110.56 707,110.56 707,110.56 707.5,110.56 707.5,110.56 708,110.56 708,110.56 708.5,110.56 708.5,113.7 708,113.7 708,113.7 707.5,113.7 707.5,113.7 707,113.7 707,113.7 706.5,113.7 706.5,113.7 706,113.7 706,113.7 705.5,113.7 705.5,113.7 705,113.7 705,113.7 704.5,113.7 704.5,113.7 704,113.7 704,113.7 703.5,113.7 703.5,113.7 703,113.7 703,113.7 702.5,113.7 702.5,113.7 702,113.7 702,113.7 701.5,113.7 701.5,113.7 701,113.7 701,113.7 700.5,113.7 700.5,113.7 700,113.7 700,113.7 699.5,113.7 699.5,113.7 699,113.7 699,113.7 698.5,113.7 698.5,113.7 698,113.7 698,113.7 697.5,113.7 697.5,113.7 697,113.7 697,113.7 696.5,113.7 696.5,113.7 696,113.7 696,113.7 695.5,113.7 695.5,113.7 695,113.7 695,113.7 694.5,113.7 694.5,113.7 694,113.7 694,113.7 693.5,113.7 693.5,113.7 693,113.7 693,113.7 692.5,113.7 692.5,113.7 692,113.7 692,113.7 691.5,113.7 691.5,113.7 691,113.7 691,113.7 690.5,113.7 690.5,113.7 690,113.7 690,113.7 689.5,113.7 689.5,106.52 689,106.52 689,103.27 688.5,103.27 688.5,103.27 688,103.27 688,113.7 687.5,113.7 687.5,113.7 687,113.7 687,113.7 686.5,113.7 686.5,113.7 686,113.7 686,113.7 685.5,113.7 685.5,113.7 685,113.7 685,113.7 684.5,113.7 684.5,113.7 684,113.7 684,113.7 683.5,113.7 683.5,113.7 683,113.7 683,113.7 682.5,113.7 682.5,113.7 682,113.7 682,113.7 681.5,113.7 681.5,113.7 681,113.7 681,113.7 680.5,113.7 680.5,113.7 680,113.7 680,113.7 679.5,113.7 679.5,113.7 679,113.7 679,113.7 678.5,113.7 678.5,113.7 678,113.7 678,113.7 677.5,113.7 677.5,113.7 677,113.7 677,113.7 676.5,113.7 676.5,113.7 676,113.7 676,113.7 675.5,113.7 675.5,113.7 675,113.7 675,113.7 674.5,113.7 674.5,113.7 674,113.7 674,113.7 673.5,113.7 673.5,113.7 673,113.7 673,113.7 672.5,113.7 672.5,113.7 672,113.7 672,113.7 671.5,113.7 671.5,113.7 671,113.7 671,113.7 670.5,113.7 670.5,113.7 670,113.7 670,113.7 669.5,113.7 669.5,113.7 669,113.7 669,113.7 668.5,113.7 668.5,109.14 668,109.14 668,97.72 667.5,97.72 667.5,97.72 667,97.72 667,113.7 666.5,113.7 666.5,113.7 666,113.7 666,113.7 665.5,113.7 665.5,113.7 665,113.7 665,113.7 664.5,113.7 664.5,113.7 664,113.7 664,113.7 663.5,113.7 663.5,113.7 663,113.7 663,92.97 662.5,92.97 662.5,99.88 662,99.88 662,113.7 661.5,113.7 661.5,113.7 661,113.7 661,113.7 660.5,113.7 660.5,113.7 660,113.7 660,98.47 659.5,98.47 659.5,98.47 659,98.47 659,113.7 658.5,113.7 658.5,113.7 658,113.7 658,113.7 657.5,113.7 657.5,113.7 657,113.7 657,113.7 656.5,113.7 656.5,113.7 656,113.7 656,113.7 655.5,113.7 655.5,113.7 655,113.7 655,113.7 654.5,113.7 654.5,113.7 654,113.7 654,113.7 653.5,113.7 653.5,113.7 653,113.7 653,113.7 652.5,113.7 652.5,113.7 652,113.7 652,96.39 651.5,96.39 651.5,96.39 651,96.39 651,113.7 650.5,113.7 650.5,113.7 650,113.7 650,99.17 649.5,99.17 649.5,95.02 649,95.02 649,88.17 648.5,88.17 648.5,88.17 648,88.17 648,113.7 647.5,113.7 647.5,113.7 647,113.7 647,100.53 646.5,100.53 646.5,100.53 646,100.53 646,113.7 645.5,113.7 645.5,113.7 645,113.7 645,113.7 644.5,113.7 644.5,113.7 644,113.7 644,113.7 643.5,113.7 643.5,113.7 643,113.7 643,113.7 642.5,113.7 642.5,113.7 642,113.7 642,113.7 641.5,113.7 641.5,113.7 641,113.7 641,113.7 640.5,113.7 640.5,113.7 640,113.7 640,113.7 639.5,113.7 639.5,113.7 639,113.7 639,113.7 638.5,113.7 638.5,113.7 638,113.7 638,113.7 637.5,113.7 637.5,113.7 637,113.7 637,113.7 636.5,113.7 636.5,113.7 636,113.7 636,113.7 635.5,113.7 635.5,113.7 635,113.7 635,113.7 634.5,113.7 634.5,113.7 634,113.7 634,113.7 633.5,113.7 633.5,113.7 633,113.7 633,113.7 632.5,113.7 632.5,113.7 632,113.7 632,113.7 631.5,113.7 631.5,113.7 631,113.7 631,113.7 630.5,113.7 630.5,113.7 630,113.7 630,113.7 629.5,113.7 629.5,113.7 629,113.7 629,113.7 628.5,113.7 628.5,113.7 628,113.7 628,113.7 627.5,113.7 627.5,113.7 627,113.7 627,113.7 626.5,113.7 626.5,113.7 626,113.7 626,113.7 625.5,113.7 625.5,113.7 625,113.7 625,113.7 624.5,113.7 624.5,113.7 624,113.7 624,113.7 623.5,113.7 623.5,113.7 623,113.7 623,113.7 622.5,113.7 622.5,113.7 622,113.7 622,113.7 621.5,113.7 621.5,113.7 621,113.7 621,113.7 620.5,113.7 620.5,113.7 620,113.7 620,113.7 619.5,113.7 619.5,113.7 619,113.7 619,113.7 618.5,113.7 618.5,113.7 618,113.7 618,113.7 617.5,113.7 617.5,113.7 617,113.7 617,113.7 616.5,113.7 616.5,113.7 616,113.7 616,113.7 615.5,113.7 615.5,113.7 615,113.7 615,113.7 614.5,113.7 614.5,113.7 614,113.7 614,113.7 613.5,113.7 613.5,113.7 613,113.7 613,113.7 612.5,113.7 612.5,113.7 612,113.7 612,113.7 611.5,113.7 611.5,113.7 611,113.7 611,113.7 610.5,113.7 610.5,113.7 610,113.7 610,113.7 609.5,113.7 609.5,113.7 609,113.7 609,113.7 608.5,113.7 608.5,113.7 608,113.7 608,113.7 607.5,113.7 607.5,113.7 607,113.7 607,113.7 606.5,113.7 606.5,113.7 606,113.7 606,113.7 605.5,113.7 605.5,113.7 605,113.7 605,113.7 604.5,113.7 604.5,113.7 604,113.7 604,113.7 603.5,113.7 603.5,113.7 603,113.7 603,113.7 602.5,113.7 602.5,113.7 602,113.7 602,113.7 601.5,113.7 601.5,113.7 601,113.7 601,113.7 600.5,113.7 600.5,113.7 600,113.7 600,113.7 599.5,113.7 599.5,113.7 599,113.7 599,113.7 598.5,113.7 598.5,113.7 598,113.7 598,113.7 597.5,113.7 597.5,113.7 597,113.7 597,113.7 596.5,113.7 596.5,113.7 596,113.7 596,113.7 595.5,113.7 595.5,113.7 595,113.7 595,113.7 594.5,113.7 594.5,113.7 594,113.7 594,113.7 593.5,113.7 593.5,113.7 593,113.7 593,113.7 592.5,113.7 592.5,113.7 592,113.7 592,113.7 591.5,113.7 591.5,113.7 591,113.7 591,113.7 590.5,113.7 590.5,113.7 590,113.7 590,113.7 589.5,113.7 589.5,113.7 589,113.7 589,87.89 588.5,87.89 588.5,87.89 588,87.89 588,102.28 587.5,102.28 587.5,99.53 587,99.53 587,76.83 586.5,76.83 586.5,76.83 586,76.83 586,113.7 585.5,113.7 585.5,113.7 585,113.7 585,113.7 584.5,113.7 584.5,113.7 584,113.7 584,113.7 583.5,113.7 583.5,113.7 583,113.7 583,113.7 582.5,113.7 582.5,113.7 582,113.7 582,113.7 581.5,113.7 581.5,113.7 581,113.7 581,113.7 580.5,113.7 580.5,113.7 580,113.7 580,113.7 579.5,113.7 579.5,113.7 579,113.7 579,113.7 578.5,113.7 578.5,113.7 578,113.7 578,113.7 577.5,113.7 577.5,113.7 577,113.7 577,113.7 576.5,113.7 576.5,113.7 576,113.7 576,113.7 575.5,113.7 575.5,113.7 575,113.7 575,113.7 574.5,113.7 574.5,113.7 574,113.7 574,113.7 573.5,113.7 573.5,113.7 573,113.7 573,113.7 572.5,113.7 572.5,113.7 572,113.7 572,113.7 571.5,113.7 571.5,113.7 571,113.7 571,113.7 570.5,113.7 570.5,113.7 570,113.7 570,113.7 569.5,113.7 569.5,113.7 569,113.7 569,113.7 568.5,113.7 568.5,113.7 568,113.7 568,113.7 567.5,113.7 567.5,113.7 567,113.7 567,113.7 566.5,113.7 566.5,113.7 566,113.7 566,113.7 565.5,113.7 565.5,113.7 565,113.7 565,113.7 564.5,113.7 564.5,113.7 564,113.7 564,113.7 563.5,113.7 563.5,113.7 563,113.7 563,113.7 562.5,113.7 562.5,113.7 562,113.7 562,113.7 561.5,113.7 561.5,113.7 561,113.7 561,113.7 560.5,113.7 560.5,113.7 560,113.7 560,113.7 559.5,113.7 559.5,113.7 559,113.7 559,113.7 558.5,113.7 558.5,113.7 558,113.7 558,113.7 557.5,113.7 557.5,113.7 557,113.7 557,113.7 556.5,113.7 556.5,113.7 556,113.7 556,113.7 555.5,113.7 555.5,113.7 555,113.7 555,113.7 554.5,113.7 554.5,113.7 554,113.7 554,113.7 553.5,113.7 553.5,113.7 553,113.7 553,113.7 552.5,113.7 552.5,113.7 552,113.7 552,113.7 551.5,113.7 551.5,113.7 551,113.7 551,113.7 550.5,113.7 550.5,113.7 550,113.7 550,113.7 549.5,113.7 549.5,113.7 549,113.7 549,113.7 548.5,113.7 548.5,113.7 548,113.7 548,113.7 547.5,113.7 547.5,113.7 547,113.7 547,113.7 546.5,113.7 546.5,113.7 546,113.7 546,113.7 545.5,113.7 545.5,113.7 545,113.7 545,113.7 544.5,113.7 544.5,113.7 544,113.7 544,113.7 543.5,113.7 543.5,113.7 543,113.7 543,102.08 542.5,102.08 542.5,100.73 542,100.73 542,113.7 541.5,113.7 541.5,113.7 541,113.7 541,113.7 540.5,113.7 540.5,113.7 540,113.7 540,113.7 539.5,113.7 539.5,113.7 539,113.7 539,113.7 538.5,113.7 538.5,113.7 538,113.7 538,93.89 537.5,93.89 537.5,90.55 537,90.55 537,113.7 536.5,113.7 536.5,113.7 536,113.7 536,113.7 535.5,113.7 535.5,113.7 535,113.7 535,113.7 534.5,113.7 534.5,113.7 534,113.7 534,113.7 533.5,113.7 533.5,113.7 533,113.7 533,113.7 532.5,113.7 532.5,113.7 532,113.7 532,113.7 531.5,113.7 531.5,113.7 531,113.7 531,113.7 530.5,113.7 530.5,113.7 530,113.7 530,113.7 529.5,113.7 529.5,113.7 529,113.7 529,113.7 528.5,113.7 528.5,113.7 528,113.7 528,113.7 527.5,113.7 527.5,113.7 527,113.7 527,113.7 526.5,113.7 526.5,113.7 526,113.7 526,113.7 525.5,113.7 525.5,113.7 525,113.7 525,113.7 524.5,113.7 524.5,113.7 524,113.7 524,113.7 523.5,113.7 523.5,113.7 523,113.7 523,113.7 522.5,113.7 522.5,113.7 522,113.7 522,113.7 521.5,113.7 521.5,113.7 521,113.7 521,113.7 520.5,113.7 520.5,113.7 520,113.7 520,113.7 519.5,113.7 519.5,113.7 519,113.7 519,113.7 518.5,113.7 518.5,113.7 518,113.7 518,113.7 517.5,113.7 517.5,113.7 517,113.7 517,113.7 516.5,113.7 516.5,113.7 516,113.7 516,113.7 515.5,113.7 515.5,113.7 515,113.7 515,113.7 514.5,113.7 514.5,113.7 514,113.7 514,113.7 513.5,113.7 513.5,113.7 513,113.7 513,113.7 512.5,113.7 512.5,113.7 512,113.7 512,113.7 511.5,113.7 511.5,113.7 511,113.7 511,113.7 510.5,113.7 510.5,113.7 510,113.7 510,113.7 509.5,113.7 509.5,113.7 509,113.7 509,113.7 508.5,113.7 508.5,113.7 508,113.7 508,113.7 507.5,113.7 507.5,113.7 507,113.7 507,113.7 506.5,113.7 506.5,113.7 506,113.7 506,113.7 505.5,113.7 505.5,113.7 505,113.7 505,113.7 504.5,113.7 504.5,113.7 504,113.7 504,113.7 503.5,113.7 503.5,113.7 503,113.7 503,113.7 502.5,113.7 502.5,113.7 502,113.7 502,113.7 501.5,113.7 501.5,113.7 501,113.7 501,113.7 500.5,113.7 500.5,113.7 500,113.7 500,113.7 499.5,113.7 499.5,113.7 499,113.7 499,113.7 498.5,113.7 498.5,113.7 498,113.7 498,113.7 497.5,113.7 497.5,113.7 497,113.7 497,113.7 496.5,113.7 496.5,113.7 496,113.7 496,113.7 495.5,113.7 495.5,113.7 495,113.7 495,113.7 494.5,113.7 494.5,113.7 494,113.7 494,113.7 493.5,113.7 493.5,113.7 493,113.7 493,113.7 492.5,113.7 492.5,113.7 492,113.7 492,113.7 491.5,113.7 491.5,113.7 491,113.7 491,113.7 490.5,113.7 490.5,113.7 490,113.7 490,113.7 489.5,113.7 489.5,113.7 489,113.7 489,113.7 488.5,113.7 488.5,113.7 488,113.7 488,113.7 487.5,113.7 487.5,113.7 487,113.7 487,113.7 486.5,113.7 486.5,113.7 486,113.7 486,113.7 485.5,113.7 485.5,113.7 485,113.7 485,113.7 484.5,113.7 484.5,113.7 484,113.7 484,113.7 483.5,113.7 483.5,113.7 483,113.7 483,113.7 482.5,113.7 482.5,113.7 482,113.7 482,113.7 481.5,113.7 481.5,113.7 481,113.7 481,113.7 480.5,113.7 480.5,113.7 480,113.7 480,113.7 479.5,113.7 479.5,113.7 479,113.7 479,113.7 478.5,113.7 478.5,113.7 478,113.7 478,113.7 477.5,113.7 477.5,113.7 477,113.7 477,113.7 476.5,113.7 476.5,113.7 476,113.7 476,113.7 475.5,113.7 475.5,113.7 475,113.7 475,113.7 474.5,113.7 474.5,113.7 474,113.7 474,113.7 473.5,113.7 473.5,113.7 473,113.7 473,113.7 472.5,113.7 472.5,113.7 472,113.7 472,113.7 471.5,113.7 471.5,113.7 471,113.7 471,113.7 470.5,113.7 470.5,113.7 470,113.7 470,113.7 469.5,113.7 469.5,113.7 469,113.7 469,113.7 468.5,113.7 468.5,113.7 468,113.7 468,113.7 467.5,113.7 467.5,113.7 467,113.7 467,113.7 466.5,113.7 466.5,113.7 466,113.7 466,113.7 465.5,113.7 465.5,113.7 465,113.7 465,113.7 464.5,113.7 464.5,113.7 464,113.7 464,113.7 463.5,113.7 463.5,113.7 463,113.7 463,113.7 462.5,113.7 462.5,113.7 462,113.7 462,113.7 461.5,113.7 461.5,113.7 461,113.7 461,113.7 460.5,113.7 460.5,113.7 460,113.7 460,113.7 459.5,113.7 459.5,113.7 459,113.7 459,113.7 458.5,113.7 458.5,113.7 458,113.7 458,113.7 457.5,113.7 457.5,113.7 457,113.7 457,113.7 456.5,113.7 456.5,113.7 456,113.7 456,113.7 455.5,113.7 455.5,113.7 455,113.7 455,113.7 454.5,113.7 454.5,113.7 454,113.7 454,113.7 453.5,113.7 453.5,113.7 453,113.7 453,113.7 452.5,113.7 452.5,113.7 452,113.7 452,113.7 451.5,113.7 451.5,113.7 451,113.7 451,104.73 450.5,104.73 450.5,113.7 450,113.7 450,113.7 449.5,113.7 449.5,113.7 449,113.7 449,113.7 448.5,113.7 448.5,113.7 448,113.7 448,113.7 447.5,113.7 447.5,113.7 447,113.7 447,113.7 446.5,113.7 446.5,113.7 446,113.7 446,113.7 445.5,113.7 445.5,113.7 445,113.7 445,113.7 444.5,113.7 444.5,113.7 444,113.7 444,113.7 443.5,113.7 443.5,113.7 443,113.7 443,113.7 442.5,113.7 442.5,113.7 442,113.7 442,113.7 441.5,113.7 441.5,113.7 441,113.7 441,113.7 440.5,113.7 440.5,113.7 440,113.7 440,113.7 439.5,113.7 439.5,113.7 439,113.7 439,113.7 438.5,113.7 438.5,113.7 438,113.7 438,113.7 437.5,113.7 437.5,113.7 437,113.7 437,101.77 436.5,101.77 436.5,113.7 436,113.7 436,113.7 435.5,113.7 435.5,113.7 435,113.7 435,113.7 434.5,113.7 434.5,113.7 434,113.7 434,113.7 433.5,113.7 433.5,113.7 433,113.7 433,113.7 432.5,113.7 432.5,113.7 432,113.7 432,113.7 431.5,113.7 431.5,113.7 431,113.7 431,113.7 430.5,113.7 430.5,113.7 430,113.7 430,101.9 429.5,101.9 429.5,101.9 429,101.9 429,90.48 428.5,90.48 428.5,90.48 428,90.48 428,113.7 427.5,113.7 427.5,113.7 427,113.7 427,113.7 426.5,113.7 426.5,113.7 426,113.7 426,113.7 425.5,113.7 425.5,113.7 425,113.7 425,101.04 424.5,101.04 424.5,101.04 424,101.04 424,100.73 423.5,100.73 423.5,100.73 423,100.73 423,113.7 422.5,113.7 422.5,113.7 422,113.7 422,113.7 421.5,113.7 421.5,113.7 421,113.7 421,113.7 420.5,113.7 420.5,113.7 420,113.7 420,113.7 419.5,113.7 419.5,113.7 419,113.7 419,113.7 418.5,113.7 418.5,113.7 418,113.7 418,113.7 417.5,113.7 417.5,113.7 417,113.7 417,113.7 416.5,113.7 416.5,113.7 416,113.7 416,113.7 415.5,113.7 415.5,113.7 415,113.7 415,113.7 414.5,113.7 414.5,113.7 414,113.7 414,113.7 413.5,113.7 413.5,113.7 413,113.7 413,113.7 412.5,113.7 412.5,113.7 412,113.7 412,113.7 411.5,113.7 411.5,113.7 411,113.7 411,113.7 410.5,113.7 410.5,113.7 410,113.7 410,113.7 409.5,113.7 409.5,113.7 409,113.7 409,113.7 408.5,113.7 408.5,113.7 408,113.7 408,113.7 407.5,113.7 407.5,113.7 407,113.7 407,113.7 406.5,113.7 406.5,113.7 406,113.7 406,113.7 405.5,113.7 405.5,113.7 405,113.7 405,113.7 404.5,113.7 404.5,113.7 404,113.7 404,113.7 403.5,113.7 403.5,113.7 403,113.7 403,113.7 402.5,113.7 402.5,113.7 402,113.7 402,113.7 401.5,113.7 401.5,113.7 401,113.7 401,113.7 400.5,113.7 400.5,113.7 400,113.7 400,113.7 399.5,113.7 399.5,113.7 399,113.7 399,113.7 398.5,113.7 398.5,113.7 398,113.7 398,113.7 397.5,113.7 397.5,113.7 397,113.7 397,113.7 396.5,113.7 396.5,113.7 396,113.7 396,113.7 395.5,113.7 395.5,113.7 395,113.7 395,113.7 394.5,113.7 394.5,113.7 394,113.7 394,113.7 393.5,113.7 393.5,113.7 393,113.7 393,113.7 392.5,113.7 392.5,113.7 392,113.7 392,113.7 391.5,113.7 391.5,113.7 391,113.7 391,113.7 390.5,113.7 390.5,113.7 390,113.7 390,113.7 389.5,113.7 389.5,113.7 389,113.7 389,113.7 388.5,113.7 388.5,113.7 388,113.7 388,113.7 387.5,113.7 387.5,113.7 387,113.7 387,113.7 386.5,113.7 386.5,113.7 386,113.7 386,113.7 385.5,113.7 385.5,113.7 385,113.7 385,113.7 384.5,113.7 384.5,113.7 384,113.7 384,113.7 383.5,113.7 383.5,113.7 383,113.7 383,113.7 382.5,113.7 382.5,113.7 382,113.7 382,113.7 381.5,113.7 381.5,113.7 381,113.7 381,113.7 380.5,113.7 380.5,113.7 380,113.7 380,113.7 379.5,113.7 379.5,113.7 379,113.7 379,113.7 378.5,113.7 378.5,113.7 378,113.7 378,113.7 377.5,113.7 377.5,113.7 377,113.7 377,113.7 376.5,113.7 376.5,113.7 376,113.7 376,113.7 375.5,113.7 375.5,113.7 375,113.7 375,113.7 374.5,113.7 374.5,113.7 374,113.7 374,113.7 373.5,113.7 373.5,113.7 373,113.7 373,113.7 372.5,113.7 372.5,113.7 372,113.7 372,113.7 371.5,113.7 371.5,113.7 371,113.7 371,113.7 370.5,113.7 370.5,113.7 370,113.7 370,113.7 369.5,113.7 369.5,113.7 369,113.7 369,113.7 368.5,113.7 368.5,113.7 368,113.7 368,113.7 367.5,113.7 367.5,113.7 367,113.7 367,113.7 366.5,113.7 366.5,113.7 366,113.7 366,113.7 365.5,113.7 365.5,113.7 365,113.7 365,113.7 364.5,113.7 364.5,113.7 364,113.7 364,113.7 363.5,113.7 363.5,113.7 363,113.7 363,113.7 362.5,113.7 362.5,113.7 362,113.7 362,113.7 361.5,113.7 361.5,113.7 361,113.7 361,113.7 360.5,113.7 360.5,113.7 360,113.7 360,113.7 359.5,113.7 359.5,113.7 359,113.7 359,113.7 358.5,113.7 358.5,113.7 358,113.7 358,113.7 357.5,113.7 357.5,113.7 357,113.7 357,113.7 356.5,113.7 356.5,113.7 356,113.7 356,113.7 355.5,113.7 355.5,113.7 355,113.7 355,113.7 354.5,113.7 354.5,113.7 354,113.7 354,113.7 353.5,113.7 353.5,113.7 353,113.7 353,113.7 352.5,113.7 352.5,113.7 352,113.7 352,113.7 351.5,113.7 351.5,113.7 351,113.7 351,113.7 350.5,113.7 350.5,113.7 350,113.7 350,95.26 349.5,95.26 349.5,95.26 349,95.26 349,113.7 348.5,113.7 348.5,113.7 348,113.7 348,113.7 347.5,113.7 347.5,113.7 347,113.7 347,113.7 346.5,113.7 346.5,113.7 346,113.7 346,113.7 345.5,113.7 345.5,113.7 345,113.7 345,113.7 344.5,113.7 344.5,113.7 344,113.7 344,113.7 343.5,113.7 343.5,113.7 343,113.7 343,113.7 342.5,113.7 342.5,113.7 342,113.7 342,113.7 341.5,113.7 341.5,113.7 341,113.7 341,113.7 340.5,113.7 340.5,113.7 340,113.7 340,113.7 339.5,113.7 339.5,113.7 339,113.7 339,113.7 338.5,113.7 338.5,113.7 338,113.7 338,113.7 337.5,113.7 337.5,113.7 337,113.7 337,113.7 336.5,113.7 336.5,113.7 336,113.7 336,113.7 335.5,113.7 335.5,113.7 335,113.7 335,113.7 334.5,113.7 334.5,113.7 334,113.7 334,113.7 333.5,113.7 333.5,113.7 333,113.7 333,113.7 332.5,113.7 332.5,113.7 332,113.7 332,113.7 331.5,113.7 331.5,113.7 331,113.7 331,113.7 330.5,113.7 330.5,113.7 330,113.7 330,113.7 329.5,113.7 329.5,113.7 329,113.7 329,113.7 328.5,113.7 328.5,113.7 328,113.7 328,113.7 327.5,113.7 327.5,113.7 327,113.7 327,113.7 326.5,113.7 326.5,113.7 326,113.7 326,113.7 325.5,113.7 325.5,113.7 325,113.7 325,113.7 324.5,113.7 324.5,113.7 324,113.7 324,113.7 323.5,113.7 323.5,113.7 323,113.7 323,113.7 322.5,113.7 322.5,113.7 322,113.7 322,113.7 321.5,113.7 321.5,113.7 321,113.7 321,113.7 320.5,113.7 320.5,113.7 320,113.7 320,113.7 319.5,113.7 319.5,113.7 319,113.7 319,113.7 318.5,113.7 318.5,113.7 318,113.7 318,113.7 317.5,113.7 317.5,113.7 317,113.7 317,113.7 316.5,113.7 316.5,113.7 316,113.7 316,113.7 315.5,113.7 315.5,113.7 315,113.7 315,113.7 314.5,113.7 314.5,113.7 314,113.7 314,113.7 313.5,113.7 313.5,113.7 313,113.7 313,113.7 312.5,113.7 312.5,113.7 312,113.7 312,113.7 311.5,113.7 311.5,113.7 311,113.7 311,113.7 310.5,113.7 310.5,113.7 310,113.7 310,113.7 309.5,113.7 309.5,113.7 309,113.7 309,113.7 308.5,113.7 308.5,113.7 308,113.7 308,113.7 307.5,113.7 307.5,113.7 307,113.7 307,113.7 306.5,113.7 306.5,113.7 306,113.7 306,113.7 305.5,113.7 305.5,113.7 305,113.7 305,113.7 304.5,113.7 304.5,113.7 304,113.7 304,113.7 303.5,113.7 303.5,113.7 303,113.7 303,113.7 302.5,113.7 302.5,113.7 302,113.7 302,113.7 301.5,113.7 301.5,113.7 301,113.7 301,113.7 300.5,113.7 300.5,113.7 300,113.7 300,113.7 299.5,113.7 299.5,113.7 299,113.7 299,113.7 298.5,113.7 298.5,113.7 298,113.7 298,113.7 297.5,113.7 297.5,113.7 297,113.7 297,113.7 296.5,113.7 296.5,113.7 296,113.7 296,113.7 295.5,113.7 295.5,113.7 295,113.7 295,113.7 294.5,113.7 294.5,113.7 294,113.7 294,113.7 293.5,113.7 293.5,113.7 293,113.7 293,113.7 292.5,113.7 292.5,113.7 292,113.7 292,113.7 291.5,113.7 291.5,113.7 291,113.7 291,113.7 290.5,113.7 290.5,113.7 290,113.7 290,113.7 289.5,113.7 289.5,113.7 289,113.7 289,113.7 288.5,113.7 288.5,113.7 288,113.7 288,113.7 287.5,113.7 287.5,113.7 287,113.7 287,113.7 286.5,113.7 286.5,113.7 286,113.7 286,113.7 285.5,113.7 285.5,113.7 285,113.7 285,113.7 284.5,113.7 284.5,113.7 284,113.7 284,93.23 283.5,93.23 283.5,93.23 283,93.23 283,113.7 282.5,113.7 282.5,113.7 282,113.7 282,113.7 281.5,113.7 281.5,113.7 281,113.7 281,113.7 280.5,113.7 280.5,113.7 280,113.7 280,113.7 279.5,113.7 279.5,113.7 279,113.7 279,113.7 278.5,113.7 278.5,113.7 278,113.7 278,113.7 277.5,113.7 277.5,113.7 277,113.7 277,96.93 276.5,96.93 276.5,96.93 276,96.93 276,113.7 275.5,113.7 275.5,113.7 275,113.7 275,103.95 274.5,103.95 274.5,103.95 274,103.95 274,113.7 273.5,113.7 273.5,113.7 273,113.7 273,100.17 272.5,100.17 272.5,95.86 272,95.86 272,91.91 271.5,91.91 271.5,91.91 271,91.91 271,113.7 270.5,113.7 270.5,113.7 270,113.7 270,113.7 269.5,113.7 269.5,113.7 269,113.7 269,113.7 268.5,113.7 268.5,113.7 268,113.7 268,113.7 267.5,113.7 267.5,113.7 267,113.7 267,113.7 266.5,113.7 266.5,113.7 266,113.7 266,113.7 265.5,113.7 265.5,113.7 265,113.7 265,113.7 264.5,113.7 264.5,113.7 264,113.7 264,113.7 263.5,113.7 263.5,113.7 263,113.7 263,113.7 262.5,113.7 262.5,113.7 262,113.7 262,113.7 261.5,113.7 261.5,113.7 261,113.7 261,113.7 260.5,113.7 260.5,113.7 260,113.7 260,113.7 259.5,113.7 259.5,113.7 259,113.7 259,113.7 258.5,113.7 258.5,113.7 258,113.7 258,113.7 257.5,113.7 257.5,113.7 257,113.7 257,113.7 256.5,113.7 256.5,113.7 256,113.7 256,113.7 255.5,113.7 255.5,113.7 255,113.7 255,113.7 254.5,113.7 254.5,113.7 254,113.7 254,113.7 253.5,113.7 253.5,113.7 253,113.7 253,113.7 252.5,113.7 252.5,113.7 252,113.7 252,113.7 251.5,113.7 251.5,113.7 251,113.7 251,113.7 250.5,113.7 250.5,113.7 250,113.7 250,113.7 249.5,113.7 249.5,113.7 249,113.7 249,113.7 248.5,113.7 248.5,113.7 248,113.7 248,113.7 247.5,113.7 247.5,113.7 247,113.7 247,113.7 246.5,113.7 246.5,113.7 246,113.7 246,113.7 245.5,113.7 245.5,113.7 245,113.7 245,113.7 244.5,113.7 244.5,113.7 244,113.7 244,113.7 243.5,113.7 243.5,113.7 243,113.7 243,113.7 242.5,113.7 242.5,113.7 242,113.7 242,113.7 241.5,113.7 241.5,113.7 241,113.7 241,113.7 240.5,113.7 240.5,113.7 240,113.7 240,113.7 239.5,113.7 239.5,113.7 239,113.7 239,113.7 238.5,113.7 238.5,113.7 238,113.7 238,113.7 237.5,113.7 237.5,113.7 237,113.7 237,113.7 236.5,113.7 236.5,113.7 236,113.7 236,113.7 235.5,113.7 235.5,113.7 235,113.7 235,113.7 234.5,113.7 234.5,113.7 234,113.7 234,113.7 233.5,113.7 233.5,113.7 233,113.7 233,113.7 232.5,113.7 232.5,113.7 232,113.7 232,113.7 231.5,113.7 231.5,113.7 231,113.7 231,113.7 230.5,113.7 230.5,113.7 230,113.7 230,113.7 229.5,113.7 229.5,113.7 229,113.7 229,113.7 228.5,113.7 228.5,113.7 228,113.7 228,113.7 227.5,113.7 227.5,113.7 227,113.7 227,113.7 226.5,113.7 226.5,113.7 226,113.7 226,113.7 225.5,113.7 225.5,113.7 225,113.7 225,113.7 224.5,113.7 224.5,113.7 224,113.7" fill="#d40030"/>
<line x1="215" y1="112.5" x2="223.5" y2="112.5" stroke="#2e2e60" stroke-width="1"/>
<line x1="219" y1="107.5" x2="223.5" y2="107.5" stroke="#2e2e60" stroke-width="1"/>
<line x1="219" y1="101.5" x2="223.5" y2="101.5" stroke="#2e2e60" stroke-width="1"/>
<line x1="219" y1="96.5" x2="223.5" y2="96.5" stroke="#2e2e60" stroke-width="1"/>
<text x="208.5" y="117.7" text-anchor="end" font-size="13.7" fill="#34346a" letter-spacing="-0.75">0</text>
<line x1="215" y1="91.5" x2="223.5" y2="91.5" stroke="#2e2e60" stroke-width="1"/>
<line x1="219" y1="86.5" x2="223.5" y2="86.5" stroke="#2e2e60" stroke-width="1"/>
<line x1="219" y1="80.5" x2="223.5" y2="80.5" stroke="#2e2e60" stroke-width="1"/>
<line x1="219" y1="75.5" x2="223.5" y2="75.5" stroke="#2e2e60" stroke-width="1"/>
<text x="208.5" y="96.7" text-anchor="end" font-size="13.7" fill="#34346a" letter-spacing="-0.75">5</text>
<line x1="215" y1="70.5" x2="223.5" y2="70.5" stroke="#2e2e60" stroke-width="1"/>
<line x1="219" y1="65.5" x2="223.5" y2="65.5" stroke="#2e2e60" stroke-width="1"/>
<line x1="219" y1="59.5" x2="223.5" y2="59.5" stroke="#2e2e60" stroke-width="1"/>
<line x1="219" y1="54.5" x2="223.5" y2="54.5" stroke="#2e2e60" stroke-width="1"/>
<text x="208.5" y="75.7" text-anchor="end" font-size="13.7" fill="#34346a" letter-spacing="-0.75">10</text>
<line x1="215" y1="49.5" x2="223.5" y2="49.5" stroke="#2e2e60" stroke-width="1"/>
<line x1="219" y1="44.5" x2="223.5" y2="44.5" stroke="#2e2e60" stroke-width="1"/>
<line x1="219" y1="38.5" x2="223.5" y2="38.5" stroke="#2e2e60" stroke-width="1"/>
<line x1="219" y1="33.5" x2="223.5" y2="33.5" stroke="#2e2e60" stroke-width="1"/>
<text x="208.5" y="54.7" text-anchor="end" font-size="13.7" fill="#34346a" letter-spacing="-0.75">15</text>
<line x1="215" y1="28.5" x2="223.5" y2="28.5" stroke="#2e2e60" stroke-width="1"/>
<line x1="219" y1="23.5" x2="223.5" y2="23.5" stroke="#2e2e60" stroke-width="1"/>
<line x1="219" y1="17.5" x2="223.5" y2="17.5" stroke="#2e2e60" stroke-width="1"/>
<line x1="219" y1="12.5" x2="223.5" y2="12.5" stroke="#2e2e60" stroke-width="1"/>
<text x="208.5" y="33.7" text-anchor="end" font-size="13.7" fill="#34346a" letter-spacing="-0.75">20</text>
<line x1="215" y1="7.5" x2="223.5" y2="7.5" stroke="#2e2e60" stroke-width="1"/>
<text x="208.5" y="12.7" text-anchor="end" font-size="13.7" fill="#34346a" letter-spacing="-0.75">25</text>
<text x="260.65" y="132" text-anchor="middle" font-size="12.5" fill="#34346a">Wed</text>
<text x="337.75" y="132" text-anchor="middle" font-size="12.5" fill="#34346a">Thu</text>
<text x="410" y="132" text-anchor="middle" font-size="12.5" fill="#34346a">Fri</text>
<text x="488.3" y="132" text-anchor="middle" font-size="12.5" fill="#34346a">Sat</text>
<text x="567.3" y="132" text-anchor="middle" font-size="12.5" fill="#34346a">Sun</text>
<text x="645.3" y="132" text-anchor="middle" font-size="12.5" fill="#34346a">Mon</text>
<text x="719.5" y="132" text-anchor="middle" font-size="12.5" fill="#34346a">Tue</text>
<polygon points="181,316 776,316 776,174 778,172 778,318 179,318" fill="#505062"/>
<rect x="181" y="174" width="595" height="142" fill="#b3b3cc"/>
<line x1="223" y1="265.5" x2="762" y2="265.5" stroke="#2e2e60" stroke-width="1" stroke-dasharray="4 1"/>
<line x1="223" y1="244.5" x2="762" y2="244.5" stroke="#2e2e60" stroke-width="1" stroke-dasharray="4 1"/>
<line x1="223" y1="223.5" x2="762" y2="223.5" stroke="#2e2e60" stroke-width="1" stroke-dasharray="4 1"/>
<line x1="223" y1="202.5" x2="762" y2="202.5" stroke="#2e2e60" stroke-width="1" stroke-dasharray="4 1"/>
<line x1="223" y1="181.5" x2="762" y2="181.5" stroke="#2e2e60" stroke-width="1" stroke-dasharray="4 1"/>
<line x1="247.5" y1="181" x2="247.5" y2="286" stroke="#2e2e60" stroke-width="1" stroke-dasharray="3 2"/>
<line x1="271.5" y1="181" x2="271.5" y2="286" stroke="#2e2e60" stroke-width="1" stroke-dasharray="3 2"/>
<line x1="295.5" y1="181" x2="295.5" y2="286" stroke="#2e2e60" stroke-width="1" stroke-dasharray="3 2"/>
<line x1="319.5" y1="181" x2="319.5" y2="286" stroke="#2e2e60" stroke-width="1" stroke-dasharray="3 2"/>
<line x1="341.5" y1="181" x2="341.5" y2="286" stroke="#2e2e60" stroke-width="1" stroke-dasharray="3 2"/>
<line x1="363.5" y1="181" x2="363.5" y2="286" stroke="#2e2e60" stroke-width="1" stroke-dasharray="3 2"/>
<line x1="385.5" y1="181" x2="385.5" y2="286" stroke="#2e2e60" stroke-width="1" stroke-dasharray="3 2"/>
<line x1="407.5" y1="181" x2="407.5" y2="286" stroke="#2e2e60" stroke-width="1" stroke-dasharray="3 2"/>
<line x1="429.5" y1="181" x2="429.5" y2="286" stroke="#2e2e60" stroke-width="1" stroke-dasharray="3 2"/>
<line x1="451.5" y1="181" x2="451.5" y2="286" stroke="#2e2e60" stroke-width="1" stroke-dasharray="3 2"/>
<line x1="473.5" y1="181" x2="473.5" y2="286" stroke="#2e2e60" stroke-width="1" stroke-dasharray="3 2"/>
<line x1="495.5" y1="181" x2="495.5" y2="286" stroke="#2e2e60" stroke-width="1" stroke-dasharray="3 2"/>
<line x1="517.5" y1="181" x2="517.5" y2="286" stroke="#2e2e60" stroke-width="1" stroke-dasharray="3 2"/>
<line x1="539.5" y1="181" x2="539.5" y2="286" stroke="#2e2e60" stroke-width="1" stroke-dasharray="3 2"/>
<line x1="561.5" y1="181" x2="561.5" y2="286" stroke="#2e2e60" stroke-width="1" stroke-dasharray="3 2"/>
<line x1="583.5" y1="181" x2="583.5" y2="286" stroke="#2e2e60" stroke-width="1" stroke-dasharray="3 2"/>
<line x1="605.5" y1="181" x2="605.5" y2="286" stroke="#2e2e60" stroke-width="1" stroke-dasharray="3 2"/>
<line x1="627.5" y1="181" x2="627.5" y2="286" stroke="#2e2e60" stroke-width="1" stroke-dasharray="3 2"/>
<line x1="649.5" y1="181" x2="649.5" y2="286" stroke="#2e2e60" stroke-width="1" stroke-dasharray="3 2"/>
<line x1="671.5" y1="181" x2="671.5" y2="286" stroke="#2e2e60" stroke-width="1" stroke-dasharray="3 2"/>
<line x1="693.5" y1="181" x2="693.5" y2="286" stroke="#2e2e60" stroke-width="1" stroke-dasharray="3 2"/>
<line x1="715.5" y1="181" x2="715.5" y2="286" stroke="#2e2e60" stroke-width="1" stroke-dasharray="3 2"/>
<line x1="737.5" y1="181" x2="737.5" y2="286" stroke="#2e2e60" stroke-width="1" stroke-dasharray="3 2"/>
<line x1="759.5" y1="181" x2="759.5" y2="286" stroke="#2e2e60" stroke-width="1" stroke-dasharray="3 2"/>
<line x1="223" y1="286.5" x2="762" y2="286.5" stroke="#2e2e60" stroke-width="1.2"/>
<line x1="223.5" y1="181" x2="223.5" y2="287" stroke="#2e2e60" stroke-width="1.3"/>
<polygon points="224,283.33 224.5,283.33 224.5,283.33 225,283.33 225,283.33 225.5,283.33 225.5,283.33 226,283.33 226,283.33 226.5,283.33 226.5,283.33 227,283.33 227,280.13 227.5,280.13 227.5,280.13 228,280.13 228,279.06 228.5,279.06 228.5,279.06 229,279.06 229,279.19 229.5,279.19 229.5,281.66 230,281.66 230,281.66 230.5,281.66 230.5,281.66 231,281.66 231,281.66 231.5,281.66 231.5,281.66 232,281.66 232,281.66 232.5,281.66 232.5,281.66 233,281.66 233,281.66 233.5,281.66 233.5,281.66 234,281.66 234,281.66 234.5,281.66 234.5,282.49 235,282.49 235,282.49 235.5,282.49 235.5,282.49 236,282.49 236,282.49 236.5,282.49 236.5,282.49 237,282.49 237,282.49 237.5,282.49 237.5,282.49 238,282.49 238,282.49 238.5,282.49 238.5,282.49 239,282.49 239,282.49 239.5,282.49 239.5,282.49 240,282.49 240,277.95 240.5,277.95 240.5,277.95 241,277.95 241,278.78 241.5,278.78 241.5,278.78 242,278.78 242,279.45 242.5,279.45 242.5,279.45 243,279.45 243,278.11 243.5,278.11 243.5,278.11 244,278.11 244,281.24 244.5,281.24 244.5,281.24 245,281.24 245,281.24 245.5,281.24 245.5,281.24 246,281.24 246,281.24 246.5,281.24 246.5,281.24 247,281.24 247,281.24 247.5,281.24 247.5,281.24 248,281.24 248,281.24 248.5,281.24 248.5,281.24 249,281.24 249,281.24 249.5,281.24 249.5,272.33 250,272.33 250,273.72 250.5,273.72 250.5,273.72 251,273.72 251,275.47 251.5,275.47 251.5,275.47 252,275.47 252,273.97 252.5,273.97 252.5,273.97 253,273.97 253,272.88 253.5,272.88 253.5,272.88 254,272.88 254,273.25 254.5,273.25 254.5,273.25 255,273.25 255,272.88 255.5,272.88 255.5,272.88 256,272.88 256,272.96 256.5,272.96 256.5,272.96 257,272.96 257,272.97 257.5,272.97 257.5,272.97 258,272.97 258,275.77 258.5,275.77 258.5,275.77 259,275.77 259,273.2 259.5,273.2 259.5,273.2 260,273.2 260,273.7 260.5,273.7 260.5,277.21 261,277.21 261,276.66 261.5,276.66 261.5,276.66 262,276.66 262,278.06 262.5,278.06 262.5,278.06 263,278.06 263,276.64 263.5,276.64 263.5,276.64 264,276.64 264,276.65 264.5,276.65 264.5,268.3 265,268.3 265,269.86 265.5,269.86 265.5,269.86 266,269.86 266,268.72 266.5,268.72 266.5,268.72 267,268.72 267,269.51 267.5,269.51 267.5,269.51 268,269.51 268,268.65 268.5,268.65 268.5,268.65 269,268.65 269,268.3 269.5,268.3 269.5,268.3 270,268.3 270,270.34 270.5,270.34 270.5,270.34 271,270.34 271,268.36 271.5,268.36 271.5,268.36 272,268.36 272,270.7 272.5,270.7 272.5,270.7 273,270.7 273,266.11 273.5,266.11 273.5,266.11 274,266.11 274,267.1 274.5,267.1 274.5,267.1 275,267.1 275,270.9 275.5,270.9 275.5,270.9 276,270.9 276,270.17 276.5,270.17 276.5,270.17 277,270.17 277,270.16 277.5,270.16 277.5,268.28 278,268.28 278,271.46 278.5,271.46 278.5,271.46 279,271.46 279,270.63 279.5,270.63 279.5,270.63 280,270.63 280,269.98 280.5,269.98 280.5,269.98 281,269.98 281,268.31 281.5,268.31 281.5,268.31 282,268.31 282,268.35 282.5,268.35 282.5,268.35 283,268.35 283,268.6 283.5,268.6 283.5,268.6 284,268.6 284,272.95 284.5,272.95 284.5,272.95 285,272.95 285,272.72 285.5,272.72 285.5,270.57 286,270.57 286,266.49 286.5,266.49 286.5,266.49 287,266.49 287,266.44 287.5,266.44 287.5,266.44 288,266.44 288,272.54 288.5,272.54 288.5,272.54 289,272.54 289,272.47 289.5,272.47 289.5,272.47 290,272.47 290,275.36 290.5,275.36 290.5,275.36 291,275.36 291,272.83 291.5,272.83 291.5,272.83 292,272.83 292,272.06 292.5,272.06 292.5,272.06 293,272.06 293,274.15 293.5,274.15 293.5,274.15 294,274.15 294,272.43 294.5,272.43 294.5,270.6 295,270.6 295,272.53 295.5,272.53 295.5,272.53 296,272.53 296,271.85 296.5,271.85 296.5,271.85 297,271.85 297,270.61 297.5,270.61 297.5,270.61 298,270.61 298,270.42 298.5,270.42 298.5,261.99 299,261.99 299,265.28 299.5,265.28 299.5,265.28 300,265.28 300,262.04 300.5,262.04 300.5,262.04 301,262.04 301,264.13 301.5,264.13 301.5,264.13 302,264.13 302,264.52 302.5,264.52 302.5,264.52 303,264.52 303,264.79 303.5,264.79 303.5,264.79 304,264.79 304,265.57 304.5,265.57 304.5,265.57 305,265.57 305,266.72 305.5,266.72 305.5,266.72 306,266.72 306,265.08 306.5,265.08 306.5,265.08 307,265.08 307,267.46 307.5,267.46 307.5,267.46 308,267.46 308,265.09 308.5,265.09 308.5,265.09 309,265.09 309,268.74 309.5,268.74 309.5,268.74 310,268.74 310,270.57 310.5,270.57 310.5,270.57 311,270.57 311,266.65 311.5,266.65 311.5,266.65 312,266.65 312,265.46 312.5,265.46 312.5,265.46 313,265.46 313,270.13 313.5,270.13 313.5,270.13 314,270.13 314,267.8 314.5,267.8 314.5,267.8 315,267.8 315,268.11 315.5,268.11 315.5,268.97 316,268.97 316,269.38 316.5,269.38 316.5,269.38 317,269.38 317,268.49 317.5,268.49 317.5,268.49 318,268.49 318,268.21 318.5,268.21 318.5,268.21 319,268.21 319,270.76 319.5,270.76 319.5,270.76 320,270.76 320,269.12 320.5,269.12 320.5,269.12 321,269.12 321,269.85 321.5,269.85 321.5,269.85 322,269.85 322,269.27 322.5,269.27 322.5,269.27 323,269.27 323,270.73 323.5,270.73 323.5,270.73 324,270.73 324,269.97 324.5,269.97 324.5,269.97 325,269.97 325,266.37 325.5,266.37 325.5,266.37 326,266.37 326,266.78 326.5,266.78 326.5,248.22 327,248.22 327,247.66 327.5,247.66 327.5,247.66 328,247.66 328,213.67 328.5,213.67 328.5,213.67 329,213.67 329,216.91 329.5,216.91 329.5,203.29 330,203.29 330,195.79 330.5,195.79 330.5,195.79 331,195.79 331,194.71 331.5,194.71 331.5,194.71 332,194.71 332,196.23 332.5,196.23 332.5,196.23 333,196.23 333,194.93 333.5,194.93 333.5,199.1 334,199.1 334,201.66 334.5,201.66 334.5,201.66 335,201.66 335,207.12 335.5,207.12 335.5,207.12 336,207.12 336,205.24 336.5,205.24 336.5,205.24 337,205.24 337,206.19 337.5,206.19 337.5,206.19 338,206.19 338,214.41 338.5,214.41 338.5,214.41 339,214.41 339,214.18 339.5,214.18 339.5,210.74 340,210.74 340,197.54 340.5,197.54 340.5,197.54 341,197.54 341,202.81 341.5,202.81 341.5,202.81 342,202.81 342,217.67 342.5,217.67 342.5,217.67 343,217.67 343,203.19 343.5,203.19 343.5,203.19 344,203.19 344,214.44 344.5,214.44 344.5,214.44 345,214.44 345,194.9 345.5,194.9 345.5,194.9 346,194.9 346,203.39 346.5,203.39 346.5,203.39 347,203.39 347,210.98 347.5,210.98 347.5,210.98 348,210.98 348,205.33 348.5,205.33 348.5,205.33 349,205.33 349,203.53 349.5,203.53 349.5,203.53 350,203.53 350,224.34 350.5,224.34 350.5,224.34 351,224.34 351,223.79 351.5,223.79 351.5,223.79 352,223.79 352,210.03 352.5,210.03 352.5,210.03 353,210.03 353,224.76 353.5,224.76 353.5,234.54 354,234.54 354,218.83 354.5,218.83 354.5,218.83 355,218.83 355,234.68 355.5,234.68 355.5,234.68 356,234.68 356,217.26 356.5,217.26 356.5,217.26 357,217.26 357,216.22 357.5,216.22 357.5,216.22 358,216.22 358,219.26 358.5,219.26 358.5,219.26 359,219.26 359,227.26 359.5,227.26 359.5,227.26 360,227.26 360,216.03 360.5,216.03 360.5,216.03 361,216.03 361,217.15 361.5,217.15 361.5,217.15 362,217.15 362,227.27 362.5,227.27 362.5,236.72 363,236.72 363,228.21 363.5,228.21 363.5,228.21 364,228.21 364,243.07 364.5,243.07 364.5,243.07 365,243.07 365,232.72 365.5,232.72 365.5,232.72 366,232.72 366,233.47 366.5,233.47 366.5,233.47 367,233.47 367,219.31 367.5,219.31 367.5,219.31 368,219.31 368,219.88 368.5,219.88 368.5,219.88 369,219.88 369,213.49 369.5,213.49 369.5,213.49 370,213.49 370,223.1 370.5,223.1 370.5,223.1 371,223.1 371,225.15 371.5,225.15 371.5,225.15 372,225.15 372,231.13 372.5,231.13 372.5,231.13 373,231.13 373,221.89 373.5,221.89 373.5,221.89 374,221.89 374,225.02 374.5,225.02 374.5,225.02 375,225.02 375,235.49 375.5,235.49 375.5,235.49 376,235.49 376,212.27 376.5,212.27 376.5,212.27 377,212.27 377,215.41 377.5,215.41 377.5,215.41 378,215.41 378,221.8 378.5,221.8 378.5,221.8 379,221.8 379,216.35 379.5,216.35 379.5,216.35 380,216.35 380,214.77 380.5,214.77 380.5,214.77 381,214.77 381,226.58 381.5,226.58 381.5,226.58 382,226.58 382,213.67 382.5,213.67 382.5,213.67 383,213.67 383,212.32 383.5,212.32 383.5,227.36 384,227.36 384,234.56 384.5,234.56 384.5,234.56 385,234.56 385,228.35 385.5,228.35 385.5,228.35 386,228.35 386,240.46 386.5,240.46 386.5,240.46 387,240.46 387,230.51 387.5,230.51 387.5,192.99 388,192.99 388,193.48 388.5,193.48 388.5,193.48 389,193.48 389,188.05 389.5,188.05 389.5,188.05 390,188.05 390,204.84 390.5,204.84 390.5,204.84 391,204.84 391,188.68 391.5,188.68 391.5,199.84 392,199.84 392,213.32 392.5,213.32 392.5,213.32 393,213.32 393,198.9 393.5,198.9 393.5,198.9 394,198.9 394,221.89 394.5,221.89 394.5,221.89 395,221.89 395,209.94 395.5,209.94 395.5,209.94 396,209.94 396,215.41 396.5,215.41 396.5,215.41 397,215.41 397,216.32 397.5,216.32 397.5,216.32 398,216.32 398,218.3 398.5,218.3 398.5,218.3 399,218.3 399,209.53 399.5,209.53 399.5,209.53 400,209.53 400,208.42 400.5,208.42 400.5,208.42 401,208.42 401,211.18 401.5,211.18 401.5,211.18 402,211.18 402,215.68 402.5,215.68 402.5,215.68 403,215.68 403,208.25 403.5,208.25 403.5,208.25 404,208.25 404,208.15 404.5,208.15 404.5,208.15 405,208.15 405,215.62 405.5,215.62 405.5,215.62 406,215.62 406,225.27 406.5,225.27 406.5,225.27 407,225.27 407,224.27 407.5,224.27 407.5,224.27 408,224.27 408,227.25 408.5,227.25 408.5,227.25 409,227.25 409,236.94 409.5,236.94 409.5,236.94 410,236.94 410,245.73 410.5,245.73 410.5,245.73 411,245.73 411,245.88 411.5,245.88 411.5,245.88 412,245.88 412,248.16 412.5,248.16 412.5,248.16 413,248.16 413,248.72 413.5,248.72 413.5,261.46 414,261.46 414,259.88 414.5,259.88 414.5,259.88 415,259.88 415,259.85 415.5,259.85 415.5,259.85 416,259.85 416,261.17 416.5,261.17 416.5,261.17 417,261.17 417,259.8 417.5,259.8 417.5,259.8 418,259.8 418,240.94 418.5,240.94 418.5,240.94 419,240.94 419,240.43 419.5,240.43 419.5,240.43 420,240.43 420,233.65 420.5,233.65 420.5,200.67 421,200.67 421,200.69 421.5,200.69 421.5,200.69 422,200.69 422,208.08 422.5,208.08 422.5,208.08 423,208.08 423,244.37 423.5,244.37 423.5,244.37 424,244.37 424,234.79 424.5,234.79 424.5,234.79 425,234.79 425,233.59 425.5,233.59 425.5,233.59 426,233.59 426,233.61 426.5,233.61 426.5,242.38 427,242.38 427,253.08 427.5,253.08 427.5,253.08 428,253.08 428,242.8 428.5,242.8 428.5,242.8 429,242.8 429,253.6 429.5,253.6 429.5,253.6 430,253.6 430,250.09 430.5,250.09 430.5,250.09 431,250.09 431,232.3 431.5,232.3 431.5,232.3 432,232.3 432,227.16 432.5,227.16 432.5,227.16 433,227.16 433,232.08 433.5,232.08 433.5,232.08 434,232.08 434,228.5 434.5,228.5 434.5,228.5 435,228.5 435,237.39 435.5,237.39 435.5,257.45 436,257.45 436,257.02 436.5,257.02 436.5,257.02 437,257.02 437,257.8 437.5,257.8 437.5,257.8 438,257.8 438,254.14 438.5,254.14 438.5,254.14 439,254.14 439,256.03 439.5,256.03 439.5,256.03 440,256.03 440,251.2 440.5,251.2 440.5,251.2 441,251.2 441,251.42 441.5,251.42 441.5,217.02 442,217.02 442,231.27 442.5,231.27 442.5,231.27 443,231.27 443,226.95 443.5,226.95 443.5,226.95 444,226.95 444,220.1 444.5,220.1 444.5,220.1 445,220.1 445,223.14 445.5,223.14 445.5,223.14 446,223.14 446,220.02 446.5,220.02 446.5,226.36 447,226.36 447,223.42 447.5,223.42 447.5,223.42 448,223.42 448,225.13 448.5,225.13 448.5,225.13 449,225.13 449,236.22 449.5,236.22 449.5,236.22 450,236.22 450,223.99 450.5,223.99 450.5,223.99 451,223.99 451,223.45 451.5,223.45 451.5,223.45 452,223.45 452,205.26 452.5,205.26 452.5,205.26 453,205.26 453,204.34 453.5,204.34 453.5,204.34 454,204.34 454,206.85 454.5,206.85 454.5,206.85 455,206.85 455,214.24 455.5,214.24 455.5,214.24 456,214.24 456,224.87 456.5,224.87 456.5,224.87 457,224.87 457,221.63 457.5,221.63 457.5,221.63 458,221.63 458,222.64 458.5,222.64 458.5,222.64 459,222.64 459,230.35 459.5,230.35 459.5,230.35 460,230.35 460,221.99 460.5,221.99 460.5,223.64 461,223.64 461,223.82 461.5,223.82 461.5,223.82 462,223.82 462,225.46 462.5,225.46 462.5,225.46 463,225.46 463,225.01 463.5,225.01 463.5,225.01 464,225.01 464,226.4 464.5,226.4 464.5,226.4 465,226.4 465,234.74 465.5,234.74 465.5,234.74 466,234.74 466,226.78 466.5,226.78 466.5,226.78 467,226.78 467,233.32 467.5,233.32 467.5,233.32 468,233.32 468,232.74 468.5,232.74 468.5,232.74 469,232.74 469,241.99 469.5,241.99 469.5,241.99 470,241.99 470,226.51 470.5,226.51 470.5,226.51 471,226.51 471,235.61 471.5,235.61 471.5,235.61 472,235.61 472,237.43 472.5,237.43 472.5,237.43 473,237.43 473,236.99 473.5,236.99 473.5,236.99 474,236.99 474,233.66 474.5,233.66 474.5,244.1 475,244.1 475,253.11 475.5,253.11 475.5,253.11 476,253.11 476,253.95 476.5,253.95 476.5,253.95 477,253.95 477,244.55 477.5,244.55 477.5,244.55 478,244.55 478,255.61 478.5,255.61 478.5,255.61 479,255.61 479,254.91 479.5,254.91 479.5,254.91 480,254.91 480,255.12 480.5,255.12 480.5,255.12 481,255.12 481,254.49 481.5,254.49 481.5,239.03 482,239.03 482,239.31 482.5,239.31 482.5,239.31 483,239.31 483,240.76 483.5,240.76 483.5,240.76 484,240.76 484,239.08 484.5,239.08 484.5,239.08 485,239.08 485,239.12 485.5,239.12 485.5,239.12 486,239.12 486,249.77 486.5,249.77 486.5,256.5 487,256.5 487,255.21 487.5,255.21 487.5,255.21 488,255.21 488,247.8 488.5,247.8 488.5,247.8 489,247.8 489,249.93 489.5,249.93 489.5,249.93 490,249.93 490,265.59 490.5,265.59 490.5,265.59 491,265.59 491,267.71 491.5,267.71 491.5,267.71 492,267.71 492,265.36 492.5,265.36 492.5,265.36 493,265.36 493,268.63 493.5,268.63 493.5,280.82 494,280.82 494,280.82 494.5,280.82 494.5,280.82 495,280.82 495,280.82 495.5,280.82 495.5,280.82 496,280.82 496,280.82 496.5,280.82 496.5,280.82 497,280.82 497,280.82 497.5,280.82 497.5,280.82 498,280.82 498,280.82 498.5,280.82 498.5,265.19 499,265.19 499,265.81 499.5,265.81 499.5,265.81 500,265.81 500,265.19 500.5,265.19 500.5,265.19 501,265.19 501,267.5 501.5,267.5 501.5,267.5 502,267.5 502,265.1 502.5,265.1 502.5,265.1 503,265.1 503,268.82 503.5,268.82 503.5,268.82 504,268.82 504,268.98 504.5,268.98 504.5,268.98 505,268.98 505,270.78 505.5,270.78 505.5,270.78 506,270.78 506,271.96 506.5,271.96 506.5,271.96 507,271.96 507,269.07 507.5,269.07 507.5,269.07 508,269.07 508,267.06 508.5,267.06 508.5,267.06 509,267.06 509,268.27 509.5,268.27 509.5,268.27 510,268.27 510,268.81 510.5,268.81 510.5,268.81 511,268.81 511,266.48 511.5,266.48 511.5,272.65 512,272.65 512,272.88 512.5,272.88 512.5,272.88 513,272.88 513,272.47 513.5,272.47 513.5,272.47 514,272.47 514,272.65 514.5,272.65 514.5,272.65 515,272.65 515,272.68 515.5,272.68 515.5,272.68 516,272.68 516,274.4 516.5,274.4 516.5,274.4 517,274.4 517,272.46 517.5,272.46 517.5,263.89 518,263.89 518,263.96 518.5,263.96 518.5,263.96 519,263.96 519,268.13 519.5,268.13 519.5,268.13 520,268.13 520,265.9 520.5,265.9 520.5,265.9 521,265.9 521,261.81 521.5,261.81 521.5,261.81 522,261.81 522,261.35 522.5,261.35 522.5,261.35 523,261.35 523,262.84 523.5,262.84 523.5,262.84 524,262.84 524,266.82 524.5,266.82 524.5,266.82 525,266.82 525,265.36 525.5,265.36 525.5,265.36 526,265.36 526,266.67 526.5,266.67 526.5,266.67 527,266.67 527,269.03 527.5,269.03 527.5,269.03 528,269.03 528,263.94 528.5,263.94 528.5,263.94 529,263.94 529,268.75 529.5,268.75 529.5,268.75 530,268.75 530,264.83 530.5,264.83 530.5,271.02 531,271.02 531,272.66 531.5,272.66 531.5,272.66 532,272.66 532,271.39 532.5,271.39 532.5,271.39 533,271.39 533,271.68 533.5,271.68 533.5,271.68 534,271.68 534,272.98 534.5,272.98 534.5,281.87 535,281.87 535,281.87 535.5,281.87 535.5,281.87 536,281.87 536,281.87 536.5,281.87 536.5,281.87 537,281.87 537,281.87 537.5,281.87 537.5,281.87 538,281.87 538,281.87 538.5,281.87 538.5,281.87 539,281.87 539,281.87 539.5,281.87 539.5,281.87 540,281.87 540,281.87 540.5,281.87 540.5,281.87 541,281.87 541,282.91 541.5,282.91 541.5,282.91 542,282.91 542,282.91 542.5,282.91 542.5,282.91 543,282.91 543,282.91 543.5,282.91 543.5,282.91 544,282.91 544,282.91 544.5,282.91 544.5,282.91 545,282.91 545,280.82 545.5,280.82 545.5,280.82 546,280.82 546,280.82 546.5,280.82 546.5,280.82 547,280.82 547,277.48 547.5,277.48 547.5,277.48 548,277.48 548,277.49 548.5,277.49 548.5,277.49 549,277.49 549,279.15 549.5,279.15 549.5,279.15 550,279.15 550,278.75 550.5,278.75 550.5,278.75 551,278.75 551,278.39 551.5,278.39 551.5,281.87 552,281.87 552,281.87 552.5,281.87 552.5,281.87 553,281.87 553,281.87 553.5,281.87 553.5,281.87 554,281.87 554,281.87 554.5,281.87 554.5,281.87 555,281.87 555,281.87 555.5,281.87 555.5,281.87 556,281.87 556,281.87 556.5,281.87 556.5,281.87 557,281.87 557,281.87 557.5,281.87 557.5,281.87 558,281.87 558,281.87 558.5,281.87 558.5,281.87 559,281.87 559,281.87 559.5,281.87 559.5,281.87 560,281.87 560,281.87 560.5,281.87 560.5,281.87 561,281.87 561,278.42 561.5,278.42 561.5,278.42 562,278.42 562,278.01 562.5,278.01 562.5,278.01 563,278.01 563,277.7 563.5,277.7 563.5,277.7 564,277.7 564,272.12 564.5,272.12 564.5,272.12 565,272.12 565,270.63 565.5,270.63 565.5,270.63 566,270.63 566,270.39 566.5,270.39 566.5,270.39 567,270.39 567,271.61 567.5,271.61 567.5,271.61 568,271.61 568,272.33 568.5,272.33 568.5,266.71 569,266.71 569,268.92 569.5,268.92 569.5,268.92 570,268.92 570,266.73 570.5,266.73 570.5,266.73 571,266.73 571,267.06 571.5,267.06 571.5,250.19 572,250.19 572,254.45 572.5,254.45 572.5,254.45 573,254.45 573,249.07 573.5,249.07 573.5,249.07 574,249.07 574,249.93 574.5,249.93 574.5,266.93 575,266.93 575,264.08 575.5,264.08 575.5,264.08 576,264.08 576,268.53 576.5,268.53 576.5,268.53 577,268.53 577,269.48 577.5,269.48 577.5,269.48 578,269.48 578,264.65 578.5,264.65 578.5,264.65 579,264.65 579,264.64 579.5,264.64 579.5,264.64 580,264.64 580,263.41 580.5,263.41 580.5,263.41 581,263.41 581,266.27 581.5,266.27 581.5,266.27 582,266.27 582,261.6 582.5,261.6 582.5,261.6 583,261.6 583,263.75 583.5,263.75 583.5,263.75 584,263.75 584,264 584.5,264 584.5,264 585,264 585,265.97 585.5,265.97 585.5,271.87 586,271.87 586,268.62 586.5,268.62 586.5,268.62 587,268.62 587,269.93 587.5,269.93 587.5,269.93 588,269.93 588,268.37 588.5,268.37 588.5,268.37 589,268.37 589,270.89 589.5,270.89 589.5,259.95 590,259.95 590,255.34 590.5,255.34 590.5,255.34 591,255.34 591,260.84 591.5,260.84 591.5,260.84 592,260.84 592,259.46 592.5,259.46 592.5,270.61 593,270.61 593,268.99 593.5,268.99 593.5,268.99 594,268.99 594,272.04 594.5,272.04 594.5,272.04 595,272.04 595,268.57 595.5,268.57 595.5,268.57 596,268.57 596,271.08 596.5,271.08 596.5,271.08 597,271.08 597,266.19 597.5,266.19 597.5,266.19 598,266.19 598,267.68 598.5,267.68 598.5,267.68 599,267.68 599,266.32 599.5,266.32 599.5,266.32 600,266.32 600,265.77 600.5,265.77 600.5,265.77 601,265.77 601,266.51 601.5,266.51 601.5,266.51 602,266.51 602,263.9 602.5,263.9 602.5,263.9 603,263.9 603,267.86 603.5,267.86 603.5,267.86 604,267.86 604,264.37 604.5,264.37 604.5,239.65 605,239.65 605,243.56 605.5,243.56 605.5,243.56 606,243.56 606,239.11 606.5,239.11 606.5,239.11 607,239.11 607,247.47 607.5,247.47 607.5,247.47 608,247.47 608,238.69 608.5,238.69 608.5,242.86 609,242.86 609,242.98 609.5,242.98 609.5,242.98 610,242.98 610,242.97 610.5,242.97 610.5,242.97 611,242.97 611,242.86 611.5,242.86 611.5,242.86 612,242.86 612,248.81 612.5,248.81 612.5,248.81 613,248.81 613,257 613.5,257 613.5,257 614,257 614,259.11 614.5,259.11 614.5,259.11 615,259.11 615,254.51 615.5,254.51 615.5,254.51 616,254.51 616,251.21 616.5,251.21 616.5,251.21 617,251.21 617,252.42 617.5,252.42 617.5,252.42 618,252.42 618,253.45 618.5,253.45 618.5,253.45 619,253.45 619,256.31 619.5,256.31 619.5,256.31 620,256.31 620,252.44 620.5,252.44 620.5,252.44 621,252.44 621,254.78 621.5,254.78 621.5,261.37 622,261.37 622,259.57 622.5,259.57 622.5,259.57 623,259.57 623,260.32 623.5,260.32 623.5,260.32 624,260.32 624,261.03 624.5,261.03 624.5,261.03 625,261.03 625,265.81 625.5,265.81 625.5,269.11 626,269.11 626,267.12 626.5,267.12 626.5,267.12 627,267.12 627,264.3 627.5,264.3 627.5,264.3 628,264.3 628,265.06 628.5,265.06 628.5,265.06 629,265.06 629,266.91 629.5,266.91 629.5,266.91 630,266.91 630,268.84 630.5,268.84 630.5,268.84 631,268.84 631,269.29 631.5,269.29 631.5,269.29 632,269.29 632,271.06 632.5,271.06 632.5,271.06 633,271.06 633,268.6 633.5,268.6 633.5,268.6 634,268.6 634,271.54 634.5,271.54 634.5,271.54 635,271.54 635,268.29 635.5,268.29 635.5,268.29 636,268.29 636,268.48 636.5,268.48 636.5,268.48 637,268.48 637,268.29 637.5,268.29 637.5,268.29 638,268.29 638,268.31 638.5,268.31 638.5,268.31 639,268.31 639,272.8 639.5,272.8 639.5,275.85 640,275.85 640,272.89 640.5,272.89 640.5,272.89 641,272.89 641,272.48 641.5,272.48 641.5,272.48 642,272.48 642,274.67 642.5,274.67 642.5,274.67 643,274.67 643,274.41 643.5,274.41 643.5,280.82 644,280.82 644,280.82 644.5,280.82 644.5,280.82 645,280.82 645,280.82 645.5,280.82 645.5,280.82 646,280.82 646,280.82 646.5,280.82 646.5,280.82 647,280.82 647,280.82 647.5,280.82 647.5,280.82 648,280.82 648,273.04 648.5,273.04 648.5,273.04 649,273.04 649,272.48 649.5,272.48 649.5,272.48 650,272.48 650,275.63 650.5,275.63 650.5,275.63 651,275.63 651,273.25 651.5,273.25 651.5,273.25 652,273.25 652,283.95 652.5,283.95 652.5,283.95 653,283.95 653,283.95 653.5,283.95 653.5,283.95 654,283.95 654,283.95 654.5,283.95 654.5,283.95 655,283.95 655,283.95 655.5,283.95 655.5,283.95 656,283.95 656,283.95 656.5,283.95 656.5,283.95 657,283.95 657,283.95 657.5,283.95 657.5,283.95 658,283.95 658,283.95 658.5,283.95 658.5,278.18 659,278.18 659,276.92 659.5,276.92 659.5,276.92 660,276.92 660,277.91 660.5,277.91 660.5,277.91 661,277.91 661,276.68 661.5,276.68 661.5,283.75 662,283.75 662,283.75 662.5,283.75 662.5,283.75 663,283.75 663,283.75 663.5,283.75 663.5,283.75 664,283.75 664,283.75 664.5,283.75 664.5,283.75 665,283.75 665,283.75 665.5,283.75 665.5,283.75 666,283.75 666,283.75 666.5,283.75 666.5,278.34 667,278.34 667,277.52 667.5,277.52 667.5,277.52 668,277.52 668,277.48 668.5,277.48 668.5,277.48 669,277.48 669,279.14 669.5,279.14 669.5,279.14 670,279.14 670,277.53 670.5,277.53 670.5,277.53 671,277.53 671,278.87 671.5,278.87 671.5,278.87 672,278.87 672,282.91 672.5,282.91 672.5,282.91 673,282.91 673,282.91 673.5,282.91 673.5,282.91 674,282.91 674,281.24 674.5,281.24 674.5,281.24 675,281.24 675,281.24 675.5,281.24 675.5,281.24 676,281.24 676,281.24 676.5,281.24 676.5,281.24 677,281.24 677,281.24 677.5,281.24 677.5,281.24 678,281.24 678,281.24 678.5,281.24 678.5,281.24 679,281.24 679,281.24 679.5,281.24 679.5,284.58 680,284.58 680,284.58 680.5,284.58 680.5,284.58 681,284.58 681,284.58 681.5,284.58 681.5,284.58 682,284.58 682,284.58 682.5,284.58 682.5,284.58 683,284.58 683,284.58 683.5,284.58 683.5,284.58 684,284.58 684,284.58 684.5,284.58 684.5,284.58 685,284.58 685,284.58 685.5,284.58 685.5,284.58 686,284.58 686,284.58 686.5,284.58 686.5,284.58 687,284.58 687,284.58 687.5,284.58 687.5,284.58 688,284.58 688,277.06 688.5,277.06 688.5,277.06 689,277.06 689,277.39 689.5,277.39 689.5,277.39 690,277.39 690,277.81 690.5,277.81 690.5,277.81 691,277.81 691,277.06 691.5,277.06 691.5,277.06 692,277.06 692,277.06 692.5,277.06 692.5,277.06 693,277.06 693,280.82 693.5,280.82 693.5,280.82 694,280.82 694,280.82 694.5,280.82 694.5,280.82 695,280.82 695,280.82 695.5,280.82 695.5,280.82 696,280.82 696,280.82 696.5,280.82 696.5,272.86 697,272.86 697,274.13 697.5,274.13 697.5,274.13 698,274.13 698,275.59 698.5,275.59 698.5,275.59 699,275.59 699,272.71 699.5,272.71 699.5,272.71 700,272.71 700,281.87 700.5,281.87 700.5,281.87 701,281.87 701,281.87 701.5,281.87 701.5,281.87 702,281.87 702,281.87 702.5,281.87 702.5,281.87 703,281.87 703,281.87 703.5,281.87 703.5,281.87 704,281.87 704,281.87 704.5,281.87 704.5,281.87 705,281.87 705,281.87 705.5,281.87 705.5,281.87 706,281.87 706,280.82 706.5,280.82 706.5,280.82 707,280.82 707,280.82 707.5,280.82 707.5,280.82 708,280.82 708,280.82 708.5,280.82 708.5,280.82 709,280.82 709,280.82 709.5,280.82 709.5,280.82 710,280.82 710,275.73 710.5,275.73 710.5,275.73 711,275.73 711,272.67 711.5,272.67 711.5,272.67 712,272.67 712,274.28 712.5,274.28 712.5,274.28 713,274.28 713,274.79 713.5,274.79 713.5,282.91 714,282.91 714,282.91 714.5,282.91 714.5,282.91 715,282.91 715,282.91 715.5,282.91 715.5,282.91 716,282.91 716,282.91 716.5,282.91 716.5,282.91 717,282.91 717,282.91 717.5,282.91 717.5,282.91 718,282.91 718,282.91 718.5,282.91 718.5,282.91 719,282.91 719,282.91 719.5,282.91 719.5,282.91 720,282.91 720,282.91 720.5,282.91 720.5,280.82 721,280.82 721,280.82 721.5,280.82 721.5,280.82 722,280.82 722,280.82 722.5,280.82 722.5,280.82 723,280.82 723,280.82 723.5,280.82 723.5,280.82 724,280.82 724,284.16 724.5,284.16 724.5,284.16 725,284.16 725,284.16 725.5,284.16 725.5,284.16 726,284.16 726,284.16 726.5,284.16 726.5,284.16 727,284.16 727,284.16 727.5,284.16 727.5,284.16 728,284.16 728,277.07 728.5,277.07 728.5,277.07 729,277.07 729,277.46 729.5,277.46 729.5,277.46 730,277.46 730,278.79 730.5,278.79 730.5,278.79 731,278.79 731,277.06 731.5,277.06 731.5,281.87 732,281.87 732,281.87 732.5,281.87 732.5,281.87 733,281.87 733,281.87 733.5,281.87 733.5,281.87 734,281.87 734,281.87 734.5,281.87 734.5,281.87 735,281.87 735,281.87 735.5,281.87 735.5,281.87 736,281.87 736,281.87 736.5,281.87 736.5,284.37 737,284.37 737,284.37 737.5,284.37 737.5,284.37 738,284.37 738,284.37 738.5,284.37 738.5,284.37 739,284.37 739,284.37 739.5,284.37 739.5,284.37 740,284.37 740,284.37 740.5,284.37 740.5,284.37 741,284.37 741,284.37 741.5,284.37 741.5,284.37 742,284.37 742,284.37 742.5,284.37 742.5,284.37 743,284.37 743,280.82 743.5,280.82 743.5,280.82 744,280.82 744,280.82 744.5,280.82 744.5,280.82 745,280.82 745,280.82 745.5,280.82 745.5,280.82 746,280.82 746,280.82 746.5,280.82 746.5,280.82 747,280.82 747,280.82 747.5,280.82 747.5,280.82 748,280.82 748,280.82 748.5,280.82 748.5,280.82 749,280.82 749,280.82 749.5,280.82 749.5,283.95 750,283.95 750,283.95 750.5,283.95 750.5,283.95 751,283.95 751,283.95 751.5,283.95 751.5,283.95 752,283.95 752,283.95 752.5,283.95 752.5,283.95 753,283.95 753,283.95 753.5,283.95 753.5,287.3 753,287.3 753,287.3 752.5,287.3 752.5,287.3 752,287.3 752,287.3 751.5,287.3 751.5,287.3 751,287.3 751,287.3 750.5,287.3 750.5,287.3 750,287.3 750,287.3 749.5,287.3 749.5,287.3 749,287.3 749,287.3 748.5,287.3 748.5,287.3 748,287.3 748,287.3 747.5,287.3 747.5,287.3 747,287.3 747,287.3 746.5,287.3 746.5,287.3 746,287.3 746,287.3 745.5,287.3 745.5,287.3 745,287.3 745,287.3 744.5,287.3 744.5,287.3 744,287.3 744,287.3 743.5,287.3 743.5,287.3 743,287.3 743,287.3 742.5,287.3 742.5,287.3 742,287.3 742,287.3 741.5,287.3 741.5,287.3 741,287.3 741,287.3 740.5,287.3 740.5,287.3 740,287.3 740,287.3 739.5,287.3 739.5,287.3 739,287.3 739,287.3 738.5,287.3 738.5,287.3 738,287.3 738,287.3 737.5,287.3 737.5,287.3 737,287.3 737,287.3 736.5,287.3 736.5,287.3 736,287.3 736,287.3 735.5,287.3 735.5,287.3 735,287.3 735,287.3 734.5,287.3 734.5,287.3 734,287.3 734,287.3 733.5,287.3 733.5,287.3 733,287.3 733,287.3 732.5,287.3 732.5,287.3 732,287.3 732,287.3 731.5,287.3 731.5,287.3 731,287.3 731,287.3 730.5,287.3 730.5,287.3 730,287.3 730,287.3 729.5,287.3 729.5,287.3 729,287.3 729,287.3 728.5,287.3 728.5,287.3 728,287.3 728,287.3 727.5,287.3 727.5,287.3 727,287.3 727,287.3 726.5,287.3 726.5,287.3 726,287.3 726,287.3 725.5,287.3 725.5,287.3 725,287.3 725,287.3 724.5,287.3 724.5,287.3 724,287.3 724,287.3 723.5,287.3 723.5,287.3 723,287.3 723,287.3 722.5,287.3 722.5,287.3 722,287.3 722,287.3 721.5,287.3 721.5,287.3 721,287.3 721,287.3 720.5,287.3 720.5,287.3 720,287.3 720,287.3 719.5,287.3 719.5,287.3 719,287.3 719,287.3 718.5,287.3 718.5,287.3 718,287.3 718,287.3 717.5,287.3 717.5,287.3 717,287.3 717,287.3 716.5,287.3 716.5,287.3 716,287.3 716,287.3 715.5,287.3 715.5,287.3 715,287.3 715,287.3 714.5,287.3 714.5,287.3 714,287.3 714,287.3 713.5,287.3 713.5,287.3 713,287.3 713,287.3 712.5,287.3 712.5,287.3 712,287.3 712,287.3 711.5,287.3 711.5,287.3 711,287.3 711,287.3 710.5,287.3 710.5,287.3 710,287.3 710,287.3 709.5,287.3 709.5,287.3 709,287.3 709,287.3 708.5,287.3 708.5,287.3 708,287.3 708,287.3 707.5,287.3 707.5,287.3 707,287.3 707,287.3 706.5,287.3 706.5,287.3 706,287.3 706,287.3 705.5,287.3 705.5,287.3 705,287.3 705,287.3 704.5,287.3 704.5,287.3 704,287.3 704,287.3 703.5,287.3 703.5,287.3 703,287.3 703,287.3 702.5,287.3 702.5,287.3 702,287.3 702,287.3 701.5,287.3 701.5,287.3 701,287.3 701,287.3 700.5,287.3 700.5,287.3 700,287.3 700,287.3 699.5,287.3 699.5,287.3 699,287.3 699,287.3 698.5,287.3 698.5,287.3 698,287.3 698,287.3 697.5,287.3 697.5,287.3 697,287.3 697,287.3 696.5,287.3 696.5,287.3 696,287.3 696,287.3 695.5,287.3 695.5,287.3 695,287.3 695,287.3 694.5,287.3 694.5,287.3 694,287.3 694,287.3 693.5,287.3 693.5,287.3 693,287.3 693,287.3 692.5,287.3 692.5,287.3 692,287.3 692,287.3 691.5,287.3 691.5,287.3 691,287.3 691,287.3 690.5,287.3 690.5,287.3 690,287.3 690,287.3 689.5,287.3 689.5,287.3 689,287.3 689,287.3 688.5,287.3 688.5,287.3 688,287.3 688,287.3 687.5,287.3 687.5,287.3 687,287.3 687,287.3 686.5,287.3 686.5,287.3 686,287.3 686,287.3 685.5,287.3 685.5,287.3 685,287.3 685,287.3 684.5,287.3 684.5,287.3 684,287.3 684,287.3 683.5,287.3 683.5,287.3 683,287.3 683,287.3 682.5,287.3 682.5,287.3 682,287.3 682,287.3 681.5,287.3 681.5,287.3 681,287.3 681,287.3 680.5,287.3 680.5,287.3 680,287.3 680,287.3 679.5,287.3 679.5,287.3 679,287.3 679,287.3 678.5,287.3 678.5,287.3 678,287.3 678,287.3 677.5,287.3 677.5,287.3 677,287.3 677,287.3 676.5,287.3 676.5,287.3 676,287.3 676,287.3 675.5,287.3 675.5,287.3 675,287.3 675,287.3 674.5,287.3 674.5,287.3 674,287.3 674,287.3 673.5,287.3 673.5,287.3 673,287.3 673,287.3 672.5,287.3 672.5,287.3 672,287.3 672,287.3 671.5,287.3 671.5,287.3 671,287.3 671,287.3 670.5,287.3 670.5,287.3 670,287.3 670,287.3 669.5,287.3 669.5,287.3 669,287.3 669,287.3 668.5,287.3 668.5,287.3 668,287.3 668,287.3 667.5,287.3 667.5,287.3 667,287.3 667,287.3 666.5,287.3 666.5,287.3 666,287.3 666,287.3 665.5,287.3 665.5,287.3 665,287.3 665,287.3 664.5,287.3 664.5,287.3 664,287.3 664,287.3 663.5,287.3 663.5,287.3 663,287.3 663,287.3 662.5,287.3 662.5,287.3 662,287.3 662,287.3 661.5,287.3 661.5,287.3 661,287.3 661,287.3 660.5,287.3 660.5,287.3 660,287.3 660,287.3 659.5,287.3 659.5,287.3 659,287.3 659,287.3 658.5,287.3 658.5,287.3 658,287.3 658,287.3 657.5,287.3 657.5,287.3 657,287.3 657,287.3 656.5,287.3 656.5,287.3 656,287.3 656,287.3 655.5,287.3 655.5,287.3 655,287.3 655,287.3 654.5,287.3 654.5,287.3 654,287.3 654,287.3 653.5,287.3 653.5,287.3 653,287.3 653,287.3 652.5,287.3 652.5,287.3 652,287.3 652,287.3 651.5,287.3 651.5,287.3 651,287.3 651,287.3 650.5,287.3 650.5,287.3 650,287.3 650,287.3 649.5,287.3 649.5,287.3 649,287.3 649,287.3 648.5,287.3 648.5,287.3 648,287.3 648,287.3 647.5,287.3 647.5,287.3 647,287.3 647,287.3 646.5,287.3 646.5,287.3 646,287.3 646,287.3 645.5,287.3 645.5,287.3 645,287.3 645,287.3 644.5,287.3 644.5,287.3 644,287.3 644,287.3 643.5,287.3 643.5,287.3 643,287.3 643,287.3 642.5,287.3 642.5,287.3 642,287.3 642,287.3 641.5,287.3 641.5,287.3 641,287.3 641,287.3 640.5,287.3 640.5,287.3 640,287.3 640,287.3 639.5,287.3 639.5,287.3 639,287.3 639,287.3 638.5,287.3 638.5,287.3 638,287.3 638,287.3 637.5,287.3 637.5,287.3 637,287.3 637,287.3 636.5,287.3 636.5,287.3 636,287.3 636,287.3 635.5,287.3 635.5,287.3 635,287.3 635,287.3 634.5,287.3 634.5,287.3 634,287.3 634,287.3 633.5,287.3 633.5,287.3 633,287.3 633,287.3 632.5,287.3 632.5,287.3 632,287.3 632,280.73 631.5,280.73 631.5,280.73 631,280.73 631,280.73 630.5,280.73 630.5,280.73 630,280.73 630,280.73 629.5,280.73 629.5,280.73 629,280.73 629,280.73 628.5,280.73 628.5,280.73 628,280.73 628,280.73 627.5,280.73 627.5,280.73 627,280.73 627,280.73 626.5,280.73 626.5,280.73 626,280.73 626,280.73 625.5,280.73 625.5,274.46 625,274.46 625,274.46 624.5,274.46 624.5,274.46 624,274.46 624,274.46 623.5,274.46 623.5,274.46 623,274.46 623,274.46 622.5,274.46 622.5,274.46 622,274.46 622,274.46 621.5,274.46 621.5,272.37 621,272.37 621,272.37 620.5,272.37 620.5,272.37 620,272.37 620,272.37 619.5,272.37 619.5,272.37 619,272.37 619,272.37 618.5,272.37 618.5,272.37 618,272.37 618,272.37 617.5,272.37 617.5,272.37 617,272.37 617,272.37 616.5,272.37 616.5,272.37 616,272.37 616,272.37 615.5,272.37 615.5,272.37 615,272.37 615,270.28 614.5,270.28 614.5,270.28 614,270.28 614,270.28 613.5,270.28 613.5,270.28 613,270.28 613,270.28 612.5,270.28 612.5,270.28 612,270.28 612,270.28 611.5,270.28 611.5,270.28 611,270.28 611,270.28 610.5,270.28 610.5,270.28 610,270.28 610,270.28 609.5,270.28 609.5,270.28 609,270.28 609,270.28 608.5,270.28 608.5,266.1 608,266.1 608,266.1 607.5,266.1 607.5,266.1 607,266.1 607,266.1 606.5,266.1 606.5,266.1 606,266.1 606,266.1 605.5,266.1 605.5,278.64 605,278.64 605,278.64 604.5,278.64 604.5,278.64 604,278.64 604,278.64 603.5,278.64 603.5,278.64 603,278.64 603,278.64 602.5,278.64 602.5,278.64 602,278.64 602,278.64 601.5,278.64 601.5,278.64 601,278.64 601,278.64 600.5,278.64 600.5,278.64 600,278.64 600,282.82 599.5,282.82 599.5,282.82 599,282.82 599,282.82 598.5,282.82 598.5,282.82 598,282.82 598,282.82 597.5,282.82 597.5,282.82 597,282.82 597,282.82 596.5,282.82 596.5,282.82 596,282.82 596,282.82 595.5,282.82 595.5,282.82 595,282.82 595,282.82 594.5,282.82 594.5,282.82 594,282.82 594,287.3 593.5,287.3 593.5,287.3 593,287.3 593,287.3 592.5,287.3 592.5,287.3 592,287.3 592,287.3 591.5,287.3 591.5,287.3 591,287.3 591,287.3 590.5,287.3 590.5,287.3 590,287.3 590,287.3 589.5,287.3 589.5,287.3 589,287.3 589,287.3 588.5,287.3 588.5,287.3 588,287.3 588,287.3 587.5,287.3 587.5,287.3 587,287.3 587,287.3 586.5,287.3 586.5,287.3 586,287.3 586,287.3 585.5,287.3 585.5,287.3 585,287.3 585,287.3 584.5,287.3 584.5,287.3 584,287.3 584,287.3 583.5,287.3 583.5,287.3 583,287.3 583,287.3 582.5,287.3 582.5,287.3 582,287.3 582,287.3 581.5,287.3 581.5,287.3 581,287.3 581,287.3 580.5,287.3 580.5,287.3 580,287.3 580,287.3 579.5,287.3 579.5,287.3 579,287.3 579,287.3 578.5,287.3 578.5,287.3 578,287.3 578,287.3 577.5,287.3 577.5,287.3 577,287.3 577,287.3 576.5,287.3 576.5,287.3 576,287.3 576,287.3 575.5,287.3 575.5,287.3 575,287.3 575,287.3 574.5,287.3 574.5,287.3 574,287.3 574,287.3 573.5,287.3 573.5,287.3 573,287.3 573,287.3 572.5,287.3 572.5,287.3 572,287.3 572,287.3 571.5,287.3 571.5,287.3 571,287.3 571,287.3 570.5,287.3 570.5,287.3 570,287.3 570,287.3 569.5,287.3 569.5,287.3 569,287.3 569,287.3 568.5,287.3 568.5,287.3 568,287.3 568,287.3 567.5,287.3 567.5,287.3 567,287.3 567,287.3 566.5,287.3 566.5,287.3 566,287.3 566,287.3 565.5,287.3 565.5,287.3 565,287.3 565,287.3 564.5,287.3 564.5,287.3 564,287.3 564,287.3 563.5,287.3 563.5,287.3 563,287.3 563,287.3 562.5,287.3 562.5,287.3 562,287.3 562,287.3 561.5,287.3 561.5,287.3 561,287.3 561,287.3 560.5,287.3 560.5,287.3 560,287.3 560,287.3 559.5,287.3 559.5,287.3 559,287.3 559,287.3 558.5,287.3 558.5,287.3 558,287.3 558,287.3 557.5,287.3 557.5,287.3 557,287.3 557,287.3 556.5,287.3 556.5,287.3 556,287.3 556,287.3 555.5,287.3 555.5,287.3 555,287.3 555,287.3 554.5,287.3 554.5,287.3 554,287.3 554,287.3 553.5,287.3 553.5,287.3 553,287.3 553,287.3 552.5,287.3 552.5,287.3 552,287.3 552,287.3 551.5,287.3 551.5,287.3 551,287.3 551,287.3 550.5,287.3 550.5,287.3 550,287.3 550,287.3 549.5,287.3 549.5,287.3 549,287.3 549,287.3 548.5,287.3 548.5,287.3 548,287.3 548,287.3 547.5,287.3 547.5,287.3 547,287.3 547,287.3 546.5,287.3 546.5,287.3 546,287.3 546,287.3 545.5,287.3 545.5,287.3 545,287.3 545,287.3 544.5,287.3 544.5,287.3 544,287.3 544,287.3 543.5,287.3 543.5,287.3 543,287.3 543,287.3 542.5,287.3 542.5,287.3 542,287.3 542,287.3 541.5,287.3 541.5,287.3 541,287.3 541,287.3 540.5,287.3 540.5,287.3 540,287.3 540,287.3 539.5,287.3 539.5,287.3 539,287.3 539,287.3 538.5,287.3 538.5,287.3 538,287.3 538,287.3 537.5,287.3 537.5,287.3 537,287.3 537,287.3 536.5,287.3 536.5,287.3 536,287.3 536,287.3 535.5,287.3 535.5,287.3 535,287.3 535,287.3 534.5,287.3 534.5,287.3 534,287.3 534,287.3 533.5,287.3 533.5,287.3 533,287.3 533,287.3 532.5,287.3 532.5,287.3 532,287.3 532,287.3 531.5,287.3 531.5,287.3 531,287.3 531,287.3 530.5,287.3 530.5,287.3 530,287.3 530,287.3 529.5,287.3 529.5,287.3 529,287.3 529,287.3 528.5,287.3 528.5,287.3 528,287.3 528,287.3 527.5,287.3 527.5,287.3 527,287.3 527,287.3 526.5,287.3 526.5,287.3 526,287.3 526,287.3 525.5,287.3 525.5,287.3 525,287.3 525,287.3 524.5,287.3 524.5,287.3 524,287.3 524,287.3 523.5,287.3 523.5,287.3 523,287.3 523,287.3 522.5,287.3 522.5,287.3 522,287.3 522,287.3 521.5,287.3 521.5,287.3 521,287.3 521,287.3 520.5,287.3 520.5,287.3 520,287.3 520,287.3 519.5,287.3 519.5,287.3 519,287.3 519,287.3 518.5,287.3 518.5,287.3 518,287.3 518,287.3 517.5,287.3 517.5,287.3 517,287.3 517,287.3 516.5,287.3 516.5,287.3 516,287.3 516,287.3 515.5,287.3 515.5,287.3 515,287.3 515,287.3 514.5,287.3 514.5,287.3 514,287.3 514,287.3 513.5,287.3 513.5,287.3 513,287.3 513,287.3 512.5,287.3 512.5,287.3 512,287.3 512,287.3 511.5,287.3 511.5,287.3 511,287.3 511,287.3 510.5,287.3 510.5,287.3 510,287.3 510,287.3 509.5,287.3 509.5,287.3 509,287.3 509,287.3 508.5,287.3 508.5,287.3 508,287.3 508,287.3 507.5,287.3 507.5,287.3 507,287.3 507,287.3 506.5,287.3 506.5,287.3 506,287.3 506,287.3 505.5,287.3 505.5,287.3 505,287.3 505,287.3 504.5,287.3 504.5,287.3 504,287.3 504,287.3 503.5,287.3 503.5,287.3 503,287.3 503,287.3 502.5,287.3 502.5,287.3 502,287.3 502,287.3 501.5,287.3 501.5,287.3 501,287.3 501,287.3 500.5,287.3 500.5,287.3 500,287.3 500,287.3 499.5,287.3 499.5,287.3 499,287.3 499,287.3 498.5,287.3 498.5,287.3 498,287.3 498,287.3 497.5,287.3 497.5,287.3 497,287.3 497,287.3 496.5,287.3 496.5,287.3 496,287.3 496,287.3 495.5,287.3 495.5,287.3 495,287.3 495,287.3 494.5,287.3 494.5,287.3 494,287.3 494,287.3 493.5,287.3 493.5,287.3 493,287.3 493,287.3 492.5,287.3 492.5,287.3 492,287.3 492,287.3 491.5,287.3 491.5,287.3 491,287.3 491,287.3 490.5,287.3 490.5,287.3 490,287.3 490,287.3 489.5,287.3 489.5,287.3 489,287.3 489,287.3 488.5,287.3 488.5,287.3 488,287.3 488,287.3 487.5,287.3 487.5,287.3 487,287.3 487,287.3 486.5,287.3 486.5,287.3 486,287.3 486,287.3 485.5,287.3 485.5,287.3 485,287.3 485,287.3 484.5,287.3 484.5,287.3 484,287.3 484,287.3 483.5,287.3 483.5,287.3 483,287.3 483,287.3 482.5,287.3 482.5,287.3 482,287.3 482,287.3 481.5,287.3 481.5,285.33 481,285.33 481,285.33 480.5,285.33 480.5,285.33 480,285.33 480,285.33 479.5,285.33 479.5,285.33 479,285.33 479,285.33 478.5,285.33 478.5,285.33 478,285.33 478,285.33 477.5,285.33 477.5,285.33 477,285.33 477,285.33 476.5,285.33 476.5,285.33 476,285.33 476,285.33 475.5,285.33 475.5,285.33 475,285.33 475,285.33 474.5,285.33 474.5,274.04 474,274.04 474,274.04 473.5,274.04 473.5,274.04 473,274.04 473,274.04 472.5,274.04 472.5,274.04 472,274.04 472,274.04 471.5,274.04 471.5,274.04 471,274.04 471,274.04 470.5,274.04 470.5,274.04 470,274.04 470,274.04 469.5,274.04 469.5,274.04 469,274.04 469,274.04 468.5,274.04 468.5,274.04 468,274.04 468,274.04 467.5,274.04 467.5,274.04 467,274.04 467,274.04 466.5,274.04 466.5,274.04 466,274.04 466,274.04 465.5,274.04 465.5,274.04 465,274.04 465,274.04 464.5,274.04 464.5,274.04 464,274.04 464,274.04 463.5,274.04 463.5,274.04 463,274.04 463,274.04 462.5,274.04 462.5,274.04 462,274.04 462,266.94 461.5,266.94 461.5,266.94 461,266.94 461,266.94 460.5,266.94 460.5,266.94 460,266.94 460,266.94 459.5,266.94 459.5,266.94 459,266.94 459,266.94 458.5,266.94 458.5,266.94 458,266.94 458,266.94 457.5,266.94 457.5,266.94 457,266.94 457,266.94 456.5,266.94 456.5,266.94 456,266.94 456,266.94 455.5,266.94 455.5,266.94 455,266.94 455,272.37 454.5,272.37 454.5,272.37 454,272.37 454,272.37 453.5,272.37 453.5,272.37 453,272.37 453,272.37 452.5,272.37 452.5,272.37 452,272.37 452,272.37 451.5,272.37 451.5,272.37 451,272.37 451,272.37 450.5,272.37 450.5,272.37 450,272.37 450,272.37 449.5,272.37 449.5,272.37 449,272.37 449,272.37 448.5,272.37 448.5,272.37 448,272.37 448,272.37 447.5,272.37 447.5,272.37 447,272.37 447,272.37 446.5,272.37 446.5,272.37 446,272.37 446,272.37 445.5,272.37 445.5,272.37 445,272.37 445,272.37 444.5,272.37 444.5,272.37 444,272.37 444,272.37 443.5,272.37 443.5,272.37 443,272.37 443,272.37 442.5,272.37 442.5,272.37 442,272.37 442,272.37 441.5,272.37 441.5,272.37 441,272.37 441,272.37 440.5,272.37 440.5,272.37 440,272.37 440,272.37 439.5,272.37 439.5,285.33 439,285.33 439,285.33 438.5,285.33 438.5,285.33 438,285.33 438,285.33 437.5,285.33 437.5,285.33 437,285.33 437,285.33 436.5,285.33 436.5,285.33 436,285.33 436,285.33 435.5,285.33 435.5,285.33 435,285.33 435,285.33 434.5,285.33 434.5,285.33 434,285.33 434,285.33 433.5,285.33 433.5,285.33 433,285.33 433,285.33 432.5,285.33 432.5,285.33 432,285.33 432,285.33 431.5,285.33 431.5,285.33 431,285.33 431,285.33 430.5,285.33 430.5,285.33 430,285.33 430,285.33 429.5,285.33 429.5,285.33 429,285.33 429,285.33 428.5,285.33 428.5,285.33 428,285.33 428,285.33 427.5,285.33 427.5,287.3 427,287.3 427,287.3 426.5,287.3 426.5,287.3 426,287.3 426,287.3 425.5,287.3 425.5,287.3 425,287.3 425,287.3 424.5,287.3 424.5,287.3 424,287.3 424,283.66 423.5,283.66 423.5,283.66 423,283.66 423,283.66 422.5,283.66 422.5,283.66 422,283.66 422,283.66 421.5,283.66 421.5,283.66 421,283.66 421,283.66 420.5,283.66 420.5,283.66 420,283.66 420,283.66 419.5,283.66 419.5,283.66 419,283.66 419,283.66 418.5,283.66 418.5,283.66 418,283.66 418,287.3 417.5,287.3 417.5,287.3 417,287.3 417,287.3 416.5,287.3 416.5,287.3 416,287.3 416,287.3 415.5,287.3 415.5,287.3 415,287.3 415,287.3 414.5,287.3 414.5,287.3 414,287.3 414,287.3 413.5,287.3 413.5,282.82 413,282.82 413,282.82 412.5,282.82 412.5,282.82 412,282.82 412,282.82 411.5,282.82 411.5,282.82 411,282.82 411,282.82 410.5,282.82 410.5,282.82 410,282.82 410,261.92 409.5,261.92 409.5,261.92 409,261.92 409,261.92 408.5,261.92 408.5,261.92 408,261.92 408,261.92 407.5,261.92 407.5,261.92 407,261.92 407,261.92 406.5,261.92 406.5,261.5 406,261.5 406,261.5 405.5,261.5 405.5,261.5 405,261.5 405,261.5 404.5,261.5 404.5,246.87 404,246.87 404,246.87 403.5,246.87 403.5,246.87 403,246.87 403,246.87 402.5,246.87 402.5,246.87 402,246.87 402,246.87 401.5,246.87 401.5,246.87 401,246.87 401,246.87 400.5,246.87 400.5,246.87 400,246.87 400,246.87 399.5,246.87 399.5,246.87 399,246.87 399,246.87 398.5,246.87 398.5,246.87 398,246.87 398,246.87 397.5,246.87 397.5,246.87 397,246.87 397,246.87 396.5,246.87 396.5,246.87 396,246.87 396,246.87 395.5,246.87 395.5,246.87 395,246.87 395,246.87 394.5,246.87 394.5,246.87 394,246.87 394,246.87 393.5,246.87 393.5,246.87 393,246.87 393,246.87 392.5,246.87 392.5,246.87 392,246.87 392,246.87 391.5,246.87 391.5,246.87 391,246.87 391,246.87 390.5,246.87 390.5,246.87 390,246.87 390,246.87 389.5,246.87 389.5,254.4 389,254.4 389,254.4 388.5,254.4 388.5,254.4 388,254.4 388,254.4 387.5,254.4 387.5,254.4 387,254.4 387,254.4 386.5,254.4 386.5,274.88 386,274.88 386,274.88 385.5,274.88 385.5,274.88 385,274.88 385,274.88 384.5,274.88 384.5,274.88 384,274.88 384,274.88 383.5,274.88 383.5,271.95 383,271.95 383,271.95 382.5,271.95 382.5,271.95 382,271.95 382,271.95 381.5,271.95 381.5,271.95 381,271.95 381,271.95 380.5,271.95 380.5,271.95 380,271.95 380,271.95 379.5,271.95 379.5,271.95 379,271.95 379,271.95 378.5,271.95 378.5,271.95 378,271.95 378,270.28 377.5,270.28 377.5,270.28 377,270.28 377,270.28 376.5,270.28 376.5,270.28 376,270.28 376,270.28 375.5,270.28 375.5,270.28 375,270.28 375,270.28 374.5,270.28 374.5,270.28 374,270.28 374,270.28 373.5,270.28 373.5,270.28 373,270.28 373,270.28 372.5,270.28 372.5,270.28 372,270.28 372,274.04 371.5,274.04 371.5,274.04 371,274.04 371,274.04 370.5,274.04 370.5,274.04 370,274.04 370,274.04 369.5,274.04 369.5,274.04 369,274.04 369,274.04 368.5,274.04 368.5,274.04 368,274.04 368,274.04 367.5,274.04 367.5,274.04 367,274.04 367,274.04 366.5,274.04 366.5,274.04 366,274.04 366,268.19 365.5,268.19 365.5,268.19 365,268.19 365,268.19 364.5,268.19 364.5,268.19 364,268.19 364,268.19 363.5,268.19 363.5,268.19 363,268.19 363,268.19 362.5,268.19 362.5,264.01 362,264.01 362,264.01 361.5,264.01 361.5,264.01 361,264.01 361,264.01 360.5,264.01 360.5,264.01 360,264.01 360,264.01 359.5,264.01 359.5,264.01 359,264.01 359,264.01 358.5,264.01 358.5,264.01 358,264.01 358,264.01 357.5,264.01 357.5,264.01 357,264.01 357,264.01 356.5,264.01 356.5,254.4 356,254.4 356,254.4 355.5,254.4 355.5,254.4 355,254.4 355,254.4 354.5,254.4 354.5,254.4 354,254.4 354,254.4 353.5,254.4 353.5,254.4 353,254.4 353,249.38 352.5,249.38 352.5,249.38 352,249.38 352,249.38 351.5,249.38 351.5,249.38 351,249.38 351,249.38 350.5,249.38 350.5,244.78 350,244.78 350,244.78 349.5,244.78 349.5,244.78 349,244.78 349,244.78 348.5,244.78 348.5,244.78 348,244.78 348,244.78 347.5,244.78 347.5,244.78 347,244.78 347,244.78 346.5,244.78 346.5,244.78 346,244.78 346,244.78 345.5,244.78 345.5,244.78 345,244.78 345,244.78 344.5,244.78 344.5,244.78 344,244.78 344,244.78 343.5,244.78 343.5,244.78 343,244.78 343,244.78 342.5,244.78 342.5,244.78 342,244.78 342,244.78 341.5,244.78 341.5,244.78 341,244.78 341,244.78 340.5,244.78 340.5,244.78 340,244.78 340,244.78 339.5,244.78 339.5,244.78 339,244.78 339,244.78 338.5,244.78 338.5,244.78 338,244.78 338,244.78 337.5,244.78 337.5,245.62 337,245.62 337,245.62 336.5,245.62 336.5,245.62 336,245.62 336,245.62 335.5,245.62 335.5,245.62 335,245.62 335,245.62 334.5,245.62 334.5,245.62 334,245.62 334,245.62 333.5,245.62 333.5,245.62 333,245.62 333,245.62 332.5,245.62 332.5,245.62 332,245.62 332,245.62 331.5,245.62 331.5,278.64 331,278.64 331,278.64 330.5,278.64 330.5,278.64 330,278.64 330,278.64 329.5,278.64 329.5,285.75 329,285.75 329,285.75 328.5,285.75 328.5,285.75 328,285.75 328,285.75 327.5,285.75 327.5,287.3 327,287.3 327,287.3 326.5,287.3 326.5,287.3 326,287.3 326,287.3 325.5,287.3 325.5,287.3 325,287.3 325,287.3 324.5,287.3 324.5,287.3 324,287.3 324,287.3 323.5,287.3 323.5,287.3 323,287.3 323,287.3 322.5,287.3 322.5,287.3 322,287.3 322,287.3 321.5,287.3 321.5,287.3 321,287.3 321,287.3 320.5,287.3 320.5,287.3 320,287.3 320,287.3 319.5,287.3 319.5,287.3 319,287.3 319,284.07 318.5,284.07 318.5,284.07 318,284.07 318,284.07 317.5,284.07 317.5,284.07 317,284.07 317,284.07 316.5,284.07 316.5,284.07 316,284.07 316,284.07 315.5,284.07 315.5,284.07 315,284.07 315,284.07 314.5,284.07 314.5,284.07 314,284.07 314,284.07 313.5,284.07 313.5,281.15 313,281.15 313,281.15 312.5,281.15 312.5,281.15 312,281.15 312,281.15 311.5,281.15 311.5,281.15 311,281.15 311,281.15 310.5,281.15 310.5,281.15 310,281.15 310,279.48 309.5,279.48 309.5,279.48 309,279.48 309,279.48 308.5,279.48 308.5,279.48 308,279.48 308,279.48 307.5,279.48 307.5,279.48 307,279.48 307,279.48 306.5,279.48 306.5,279.48 306,279.48 306,281.15 305.5,281.15 305.5,281.15 305,281.15 305,281.15 304.5,281.15 304.5,281.15 304,281.15 304,281.15 303.5,281.15 303.5,281.15 303,281.15 303,281.15 302.5,281.15 302.5,281.15 302,281.15 302,284.49 301.5,284.49 301.5,284.49 301,284.49 301,284.49 300.5,284.49 300.5,284.49 300,284.49 300,284.49 299.5,284.49 299.5,284.49 299,284.49 299,284.49 298.5,284.49 298.5,287.3 298,287.3 298,287.3 297.5,287.3 297.5,287.3 297,287.3 297,287.3 296.5,287.3 296.5,287.3 296,287.3 296,287.3 295.5,287.3 295.5,287.3 295,287.3 295,287.3 294.5,287.3 294.5,287.3 294,287.3 294,287.3 293.5,287.3 293.5,287.3 293,287.3 293,287.3 292.5,287.3 292.5,287.3 292,287.3 292,287.3 291.5,287.3 291.5,287.3 291,287.3 291,287.3 290.5,287.3 290.5,287.3 290,287.3 290,287.3 289.5,287.3 289.5,287.3 289,287.3 289,287.3 288.5,287.3 288.5,287.3 288,287.3 288,287.3 287.5,287.3 287.5,287.3 287,287.3 287,287.3 286.5,287.3 286.5,287.3 286,287.3 286,287.3 285.5,287.3 285.5,287.3 285,287.3 285,287.3 284.5,287.3 284.5,287.3 284,287.3 284,287.3 283.5,287.3 283.5,287.3 283,287.3 283,287.3 282.5,287.3 282.5,287.3 282,287.3 282,287.3 281.5,287.3 281.5,287.3 281,287.3 281,287.3 280.5,287.3 280.5,287.3 280,287.3 280,287.3 279.5,287.3 279.5,287.3 279,287.3 279,287.3 278.5,287.3 278.5,287.3 278,287.3 278,287.3 277.5,287.3 277.5,287.3 277,287.3 277,287.3 276.5,287.3 276.5,287.3 276,287.3 276,287.3 275.5,287.3 275.5,287.3 275,287.3 275,287.3 274.5,287.3 274.5,287.3 274,287.3 274,287.3 273.5,287.3 273.5,287.3 273,287.3 273,287.3 272.5,287.3 272.5,287.3 272,287.3 272,287.3 271.5,287.3 271.5,287.3 271,287.3 271,287.3 270.5,287.3 270.5,287.3 270,287.3 270,287.3 269.5,287.3 269.5,287.3 269,287.3 269,287.3 268.5,287.3 268.5,287.3 268,287.3 268,287.3 267.5,287.3 267.5,287.3 267,287.3 267,287.3 266.5,287.3 266.5,287.3 266,287.3 266,287.3 265.5,287.3 265.5,287.3 265,287.3 265,287.3 264.5,287.3 264.5,287.3 264,287.3 264,287.3 263.5,287.3 263.5,287.3 263,287.3 263,287.3 262.5,287.3 262.5,287.3 262,287.3 262,287.3 261.5,287.3 261.5,287.3 261,287.3 261,287.3 260.5,287.3 260.5,287.3 260,287.3 260,287.3 259.5,287.3 259.5,287.3 259,287.3 259,287.3 258.5,287.3 258.5,287.3 258,287.3 258,287.3 257.5,287.3 257.5,287.3 257,287.3 257,287.3 256.5,287.3 256.5,287.3 256,287.3 256,287.3 255.5,287.3 255.5,287.3 255,287.3 255,287.3 254.5,287.3 254.5,287.3 254,287.3 254,287.3 253.5,287.3 253.5,287.3 253,287.3 253,287.3 252.5,287.3 252.5,287.3 252,287.3 252,287.3 251.5,287.3 251.5,287.3 251,287.3 251,287.3 250.5,287.3 250.5,287.3 250,287.3 250,287.3 249.5,287.3 249.5,287.3 249,287.3 249,287.3 248.5,287.3 248.5,287.3 248,287.3 248,287.3 247.5,287.3 247.5,287.3 247,287.3 247,287.3 246.5,287.3 246.5,287.3 246,287.3 246,287.3 245.5,287.3 245.5,287.3 245,287.3 245,287.3 244.5,287.3 244.5,287.3 244,287.3 244,287.3 243.5,287.3 243.5,287.3 243,287.3 243,287.3 242.5,287.3 242.5,287.3 242,287.3 242,287.3 241.5,287.3 241.5,287.3 241,287.3 241,287.3 240.5,287.3 240.5,287.3 240,287.3 240,287.3 239.5,287.3 239.5,287.3 239,287.3 239,287.3 238.5,287.3 238.5,287.3 238,287.3 238,287.3 237.5,287.3 237.5,287.3 237,287.3 237,287.3 236.5,287.3 236.5,287.3 236,287.3 236,287.3 235.5,287.3 235.5,287.3 235,287.3 235,287.3 234.5,287.3 234.5,287.3 234,287.3 234,287.3 233.5,287.3 233.5,287.3 233,287.3 233,287.3 232.5,287.3 232.5,287.3 232,287.3 232,287.3 231.5,287.3 231.5,287.3 231,287.3 231,287.3 230.5,287.3 230.5,287.3 230,287.3 230,287.3 229.5,287.3 229.5,287.3 229,287.3 229,287.3 228.5,287.3 228.5,287.3 228,287.3 228,287.3 227.5,287.3 227.5,287.3 227,287.3 227,287.3 226.5,287.3 226.5,287.3 226,287.3 226,287.3 225.5,287.3 225.5,287.3 225,287.3 225,287.3 224.5,287.3 224.5,287.3 224,287.3" fill="#00ff00"/>
<polygon points="241,283.75 241.5,283.75 241.5,283.75 242,283.75 242,283.75 242.5,283.75 242.5,283.75 243,283.75 243,287.3 242.5,287.3 242.5,287.3 242,287.3 242,287.3 241.5,287.3 241.5,287.3 241,287.3" fill="#d40030"/>
<polygon points="255,283.75 255.5,283.75 255.5,283.75 256,283.75 256,283.35 256.5,283.35 256.5,283.35 257,283.35 257,283.33 257.5,283.33 257.5,283.33 258,283.33 258,283.21 258.5,283.21 258.5,283.21 259,283.21 259,283.75 259.5,283.75 259.5,283.75 260,283.75 260,283.75 260.5,283.75 260.5,283.75 261,283.75 261,283.63 261.5,283.63 261.5,283.63 262,283.63 262,283.54 262.5,283.54 262.5,283.54 263,283.54 263,283.38 263.5,283.38 263.5,283.38 264,283.38 264,283.75 264.5,283.75 264.5,283.75 265,283.75 265,280.79 265.5,280.79 265.5,280.79 266,280.79 266,280.2 266.5,280.2 266.5,280.2 267,280.2 267,283.75 267.5,283.75 267.5,283.75 268,283.75 268,283.75 268.5,283.75 268.5,283.75 269,283.75 269,283.75 269.5,283.75 269.5,283.75 270,283.75 270,283.75 270.5,283.75 270.5,283.75 271,283.75 271,283.75 271.5,283.75 271.5,283.75 272,283.75 272,283.47 272.5,283.47 272.5,283.47 273,283.47 273,283.75 273.5,283.75 273.5,283.75 274,283.75 274,283.42 274.5,283.42 274.5,283.42 275,283.42 275,283.75 275.5,283.75 275.5,283.75 276,283.75 276,283.33 276.5,283.33 276.5,283.33 277,283.33 277,283.74 277.5,283.74 277.5,283.74 278,283.74 278,283.75 278.5,283.75 278.5,283.75 279,283.75 279,283.46 279.5,283.46 279.5,283.46 280,283.46 280,283.28 280.5,283.28 280.5,283.28 281,283.28 281,283.75 281.5,283.75 281.5,283.75 282,283.75 282,283.36 282.5,283.36 282.5,283.36 283,283.36 283,283.13 283.5,283.13 283.5,283.13 284,283.13 284,283.75 284.5,283.75 284.5,283.75 285,283.75 285,283.75 285.5,283.75 285.5,283.75 286,283.75 286,283.17 286.5,283.17 286.5,283.17 287,283.17 287,283.75 287.5,283.75 287.5,283.75 288,283.75 288,283.75 288.5,283.75 288.5,283.75 289,283.75 289,283.75 289.5,283.75 289.5,283.75 290,283.75 290,283.43 290.5,283.43 290.5,283.43 291,283.43 291,283.75 291.5,283.75 291.5,283.75 292,283.75 292,283.75 292.5,283.75 292.5,283.75 293,283.75 293,283.24 293.5,283.24 293.5,283.24 294,283.24 294,283.26 294.5,283.26 294.5,283.26 295,283.26 295,283.24 295.5,283.24 295.5,283.24 296,283.24 296,283.75 296.5,283.75 296.5,283.75 297,283.75 297,283.61 297.5,283.61 297.5,283.61 298,283.61 298,283.5 298.5,283.5 298.5,277.87 299,277.87 299,278.18 299.5,278.18 299.5,278.18 300,278.18 300,277.06 300.5,277.06 300.5,277.06 301,277.06 301,277.56 301.5,277.56 301.5,277.56 302,277.56 302,273.72 302.5,273.72 302.5,273.72 303,273.72 303,273.88 303.5,273.88 303.5,273.88 304,273.88 304,273.98 304.5,273.98 304.5,273.98 305,273.98 305,273.3 305.5,273.3 305.5,273.3 306,273.3 306,273.1 306.5,273.1 306.5,273.1 307,273.1 307,272.29 307.5,272.29 307.5,272.29 308,272.29 308,273.15 308.5,273.15 308.5,273.15 309,273.15 309,272.53 309.5,272.53 309.5,272.53 310,272.53 310,273.58 310.5,273.58 310.5,273.58 311,273.58 311,274.37 311.5,274.37 311.5,274.37 312,274.37 312,274.32 312.5,274.32 312.5,274.32 313,274.32 313,273.9 313.5,273.9 313.5,276.82 314,276.82 314,276.24 314.5,276.24 314.5,276.24 315,276.24 315,276.62 315.5,276.62 315.5,276.62 316,276.62 316,276.42 316.5,276.42 316.5,276.42 317,276.42 317,277.32 317.5,277.32 317.5,277.32 318,277.32 318,277.66 318.5,277.66 318.5,277.66 319,277.66 319,281.75 319.5,281.75 319.5,281.75 320,281.75 320,283.75 320.5,283.75 320.5,283.75 321,283.75 321,282.96 321.5,282.96 321.5,282.96 322,282.96 322,281.72 322.5,281.72 322.5,281.72 323,281.72 323,283.75 323.5,283.75 323.5,283.75 324,283.75 324,283.75 324.5,283.75 324.5,283.75 325,283.75 325,283.75 325.5,283.75 325.5,283.75 326,283.75 326,283.75 326.5,283.75 326.5,283.75 327,283.75 327,283.75 327.5,283.75 327.5,272.75 328,272.75 328,270.73 328.5,270.73 328.5,270.73 329,270.73 329,251.56 329.5,251.56 329.5,239.02 330,239.02 330,251.9 330.5,251.9 330.5,251.9 331,251.9 331,244.68 331.5,244.68 331.5,225.51 332,225.51 332,229.5 332.5,229.5 332.5,229.5 333,229.5 333,231.01 333.5,231.01 333.5,231.01 334,231.01 334,234.26 334.5,234.26 334.5,234.26 335,234.26 335,236.47 335.5,236.47 335.5,236.47 336,236.47 336,237.2 336.5,237.2 336.5,237.2 337,237.2 337,224.96 337.5,224.96 337.5,230.34 338,230.34 338,232.9 338.5,232.9 338.5,232.9 339,232.9 339,231.15 339.5,231.15 339.5,231.15 340,231.15 340,228.57 340.5,228.57 340.5,228.57 341,228.57 341,235.08 341.5,235.08 341.5,235.08 342,235.08 342,229.74 342.5,229.74 342.5,229.74 343,229.74 343,230.26 343.5,230.26 343.5,230.26 344,230.26 344,230.43 344.5,230.43 344.5,230.43 345,230.43 345,234.09 345.5,234.09 345.5,234.09 346,234.09 346,230.13 346.5,230.13 346.5,230.13 347,230.13 347,228.57 347.5,228.57 347.5,228.57 348,228.57 348,228.57 348.5,228.57 348.5,228.57 349,228.57 349,228.57 349.5,228.57 349.5,228.57 350,228.57 350,228.57 350.5,228.57 350.5,234.42 351,234.42 351,237.88 351.5,237.88 351.5,237.88 352,237.88 352,235.08 352.5,235.08 352.5,235.08 353,235.08 353,238.1 353.5,238.1 353.5,238.1 354,238.1 354,240.61 354.5,240.61 354.5,240.61 355,240.61 355,240.38 355.5,240.38 355.5,240.38 356,240.38 356,237.3 356.5,237.3 356.5,240.39 357,240.39 357,244.82 357.5,244.82 357.5,244.82 358,244.82 358,256.36 358.5,256.36 358.5,256.36 359,256.36 359,245.43 359.5,245.43 359.5,245.43 360,245.43 360,244.11 360.5,244.11 360.5,244.11 361,244.11 361,242.72 361.5,242.72 361.5,242.72 362,242.72 362,255.8 362.5,255.8 362.5,260.69 363,260.69 363,259.98 363.5,259.98 363.5,259.98 364,259.98 364,258.28 364.5,258.28 364.5,258.28 365,258.28 365,247.92 365.5,247.92 365.5,247.92 366,247.92 366,249.82 366.5,249.82 366.5,249.82 367,249.82 367,265.35 367.5,265.35 367.5,265.35 368,265.35 368,262.6 368.5,262.6 368.5,262.6 369,262.6 369,263.14 369.5,263.14 369.5,263.14 370,263.14 370,246.72 370.5,246.72 370.5,246.72 371,246.72 371,263.07 371.5,263.07 371.5,263.07 372,263.07 372,245.88 372.5,245.88 372.5,245.88 373,245.88 373,258.75 373.5,258.75 373.5,258.75 374,258.75 374,252.2 374.5,252.2 374.5,252.2 375,252.2 375,250.93 375.5,250.93 375.5,250.93 376,250.93 376,239.86 376.5,239.86 376.5,239.86 377,239.86 377,241.47 377.5,241.47 377.5,241.47 378,241.47 378,244.87 378.5,244.87 378.5,244.87 379,244.87 379,250.53 379.5,250.53 379.5,250.53 380,250.53 380,263.94 380.5,263.94 380.5,263.94 381,263.94 381,263.45 381.5,263.45 381.5,263.45 382,263.45 382,250.52 382.5,250.52 382.5,250.52 383,250.52 383,244.87 383.5,244.87 383.5,244.87 384,244.87 384,252.99 384.5,252.99 384.5,252.99 385,252.99 385,243.91 385.5,243.91 385.5,243.91 386,243.91 386,256.4 386.5,256.4 386.5,243.53 387,243.53 387,228.57 387.5,228.57 387.5,228.57 388,228.57 388,247.49 388.5,247.49 388.5,247.49 389,247.49 389,230.25 389.5,230.25 389.5,235.16 390,235.16 390,237.4 390.5,237.4 390.5,237.4 391,237.4 391,234.65 391.5,234.65 391.5,234.65 392,234.65 392,234.8 392.5,234.8 392.5,234.8 393,234.8 393,234.71 393.5,234.71 393.5,234.71 394,234.71 394,236.23 394.5,236.23 394.5,236.23 395,236.23 395,235.85 395.5,235.85 395.5,235.85 396,235.85 396,238.28 396.5,238.28 396.5,238.28 397,238.28 397,234.42 397.5,234.42 397.5,234.42 398,234.42 398,237.88 398.5,237.88 398.5,237.88 399,237.88 399,234.74 399.5,234.74 399.5,234.74 400,234.74 400,234.42 400.5,234.42 400.5,234.42 401,234.42 401,234.42 401.5,234.42 401.5,234.42 402,234.42 402,236.86 402.5,236.86 402.5,236.86 403,236.86 403,234.42 403.5,234.42 403.5,234.42 404,234.42 404,235.24 404.5,235.24 404.5,252.89 405,252.89 405,239.02 405.5,239.02 405.5,239.02 406,239.02 406,250.6 406.5,250.6 406.5,250.84 407,250.84 407,255.13 407.5,255.13 407.5,255.13 408,255.13 408,239.02 408.5,239.02 408.5,239.02 409,239.02 409,253.98 409.5,253.98 409.5,253.98 410,253.98 410,256.16 410.5,256.16 410.5,256.16 411,256.16 411,256.87 411.5,256.87 411.5,256.87 412,256.87 412,256.16 412.5,256.16 412.5,256.16 413,256.16 413,261.47 413.5,261.47 413.5,276.96 414,276.96 414,272.13 414.5,272.13 414.5,272.13 415,272.13 415,269.82 415.5,269.82 415.5,269.82 416,269.82 416,283.75 416.5,283.75 416.5,283.75 417,283.75 417,283.75 417.5,283.75 417.5,283.75 418,283.75 418,264.94 418.5,264.94 418.5,264.94 419,264.94 419,265.02 419.5,265.02 419.5,265.02 420,265.02 420,271.13 420.5,271.13 420.5,271.13 421,271.13 421,267.49 421.5,267.49 421.5,267.49 422,267.49 422,265.09 422.5,265.09 422.5,265.09 423,265.09 423,264.94 423.5,264.94 423.5,264.94 424,264.94 424,270.21 424.5,270.21 424.5,270.21 425,270.21 425,276.08 425.5,276.08 425.5,276.08 426,276.08 426,283.75 426.5,283.75 426.5,283.75 427,283.75 427,274.85 427.5,274.85 427.5,264.57 428,264.57 428,275.28 428.5,275.28 428.5,275.28 429,275.28 429,263.16 429.5,263.16 429.5,263.16 430,263.16 430,274.98 430.5,274.98 430.5,274.98 431,274.98 431,276.23 431.5,276.23 431.5,276.23 432,276.23 432,275.84 432.5,275.84 432.5,277.55 433,277.55 433,279.82 433.5,279.82 433.5,279.82 434,279.82 434,278.52 434.5,278.52 434.5,278.52 435,278.52 435,266.57 435.5,266.57 435.5,266.57 436,266.57 436,272.15 436.5,272.15 436.5,272.15 437,272.15 437,269.18 437.5,269.18 437.5,269.18 438,269.18 438,270.03 438.5,270.03 438.5,270.03 439,270.03 439,277.9 439.5,277.9 439.5,262.6 440,262.6 440,262.01 440.5,262.01 440.5,262.01 441,262.01 441,263.04 441.5,263.04 441.5,263.04 442,263.04 442,244.04 442.5,244.04 442.5,244.04 443,244.04 443,262.44 443.5,262.44 443.5,262.44 444,262.44 444,254.07 444.5,254.07 444.5,254.07 445,254.07 445,250.31 445.5,250.31 445.5,250.31 446,250.31 446,262.66 446.5,262.66 446.5,256.69 447,256.69 447,256.29 447.5,256.29 447.5,256.29 448,256.29 448,259.72 448.5,259.72 448.5,259.72 449,259.72 449,256.16 449.5,256.16 449.5,256.16 450,256.16 450,260.4 450.5,260.4 450.5,260.4 451,260.4 451,256.16 451.5,256.16 451.5,256.16 452,256.16 452,250.49 452.5,250.49 452.5,250.49 453,250.49 453,247.8 453.5,247.8 453.5,247.8 454,247.8 454,247.8 454.5,247.8 454.5,247.8 455,247.8 455,251.07 455.5,251.07 455.5,251.07 456,251.07 456,251.33 456.5,251.33 456.5,251.33 457,251.33 457,252.75 457.5,252.75 457.5,252.75 458,252.75 458,251.27 458.5,251.27 458.5,251.27 459,251.27 459,253.68 459.5,253.68 459.5,253.68 460,253.68 460,251.14 460.5,251.14 460.5,251.14 461,251.14 461,255.43 461.5,255.43 461.5,255.43 462,255.43 462,262.69 462.5,262.69 462.5,262.69 463,262.69 463,259.5 463.5,259.5 463.5,259.5 464,259.5 464,259.5 464.5,259.5 464.5,259.5 465,259.5 465,259.5 465.5,259.5 465.5,259.5 466,259.5 466,260.14 466.5,260.14 466.5,260.14 467,260.14 467,264.01 467.5,264.01 467.5,264.01 468,264.01 468,259.77 468.5,259.77 468.5,259.77 469,259.77 469,263.26 469.5,263.26 469.5,263.26 470,263.26 470,263.26 470.5,263.26 470.5,263.26 471,263.26 471,266.75 471.5,266.75 471.5,266.75 472,266.75 472,267.31 472.5,267.31 472.5,267.31 473,267.31 473,264.59 473.5,264.59 473.5,264.59 474,264.59 474,263.97 474.5,263.97 474.5,269.49 475,269.49 475,269.37 475.5,269.37 475.5,269.37 476,269.37 476,270.42 476.5,270.42 476.5,270.42 477,270.42 477,268.85 477.5,268.85 477.5,268.85 478,268.85 478,271.36 478.5,271.36 478.5,271.36 479,271.36 479,268.28 479.5,268.28 479.5,268.28 480,268.28 480,269.3 480.5,269.3 480.5,269.3 481,269.3 481,268.84 481.5,268.84 481.5,275.79 482,275.79 482,274.58 482.5,274.58 482.5,274.58 483,274.58 483,274.31 483.5,274.31 483.5,274.31 484,274.31 484,283.75 484.5,283.75 484.5,283.75 485,283.75 485,274.65 485.5,274.65 485.5,274.65 486,274.65 486,278.54 486.5,278.54 486.5,278.54 487,278.54 487,283.75 487.5,283.75 487.5,283.75 488,283.75 488,281.1 488.5,281.1 488.5,281.1 489,281.1 489,278.86 489.5,278.86 489.5,278.86 490,278.86 490,280.77 490.5,280.77 490.5,280.77 491,280.77 491,278.38 491.5,278.38 491.5,278.38 492,278.38 492,283.75 492.5,283.75 492.5,283.75 493,283.75 493,283.75 493.5,283.75 493.5,283.75 494,283.75 494,283.75 494.5,283.75 494.5,283.75 495,283.75 495,283.36 495.5,283.36 495.5,283.36 496,283.36 496,283.75 496.5,283.75 496.5,283.75 497,283.75 497,283.75 497.5,283.75 497.5,283.75 498,283.75 498,283.75 498.5,283.75 498.5,283.75 499,283.75 499,283.37 499.5,283.37 499.5,283.37 500,283.37 500,283.75 500.5,283.75 500.5,283.75 501,283.75 501,283.75 501.5,283.75 501.5,283.75 502,283.75 502,283.75 502.5,283.75 502.5,283.75 503,283.75 503,283.75 503.5,283.75 503.5,283.75 504,283.75 504,283.75 504.5,283.75 504.5,283.75 505,283.75 505,283.14 505.5,283.14 505.5,283.14 506,283.14 506,283.43 506.5,283.43 506.5,283.43 507,283.43 507,283.32 507.5,283.32 507.5,283.32 508,283.32 508,283.75 508.5,283.75 508.5,283.75 509,283.75 509,283.37 509.5,283.37 509.5,283.37 510,283.37 510,283.75 510.5,283.75 510.5,283.75 511,283.75 511,283.43 511.5,283.43 511.5,283.43 512,283.43 512,283.75 512.5,283.75 512.5,283.75 513,283.75 513,283.75 513.5,283.75 513.5,283.75 514,283.75 514,283.45 514.5,283.45 514.5,283.45 515,283.45 515,283.75 515.5,283.75 515.5,283.75 516,283.75 516,283.51 516.5,283.51 516.5,283.51 517,283.51 517,283.75 517.5,283.75 517.5,283.75 518,283.75 518,283.75 518.5,283.75 518.5,283.75 519,283.75 519,279.92 519.5,279.92 519.5,279.92 520,279.92 520,283.75 520.5,283.75 520.5,283.75 521,283.75 521,283.75 521.5,283.75 521.5,283.75 522,283.75 522,283.75 522.5,283.75 522.5,283.75 523,283.75 523,280.78 523.5,280.78 523.5,280.78 524,280.78 524,283.75 524.5,283.75 524.5,283.75 525,283.75 525,283.75 525.5,283.75 525.5,283.75 526,283.75 526,283.75 526.5,283.75 526.5,283.75 527,283.75 527,279.19 527.5,279.19 527.5,279.19 528,279.19 528,283.75 528.5,283.75 528.5,283.75 529,283.75 529,280.44 529.5,280.44 529.5,280.44 530,280.44 530,283.75 530.5,283.75 530.5,283.75 531,283.75 531,279.76 531.5,279.76 531.5,279.76 532,279.76 532,280.61 532.5,280.61 532.5,280.61 533,280.61 533,283.75 533.5,283.75 533.5,283.75 534,283.75 534,283.75 534.5,283.75 534.5,287.3 534,287.3 534,287.3 533.5,287.3 533.5,287.3 533,287.3 533,285.57 532.5,285.57 532.5,285.57 532,285.57 532,287.3 531.5,287.3 531.5,287.3 531,287.3 531,287.3 530.5,287.3 530.5,287.3 530,287.3 530,287.3 529.5,287.3 529.5,287.3 529,287.3 529,287.3 528.5,287.3 528.5,287.3 528,287.3 528,285.31 527.5,285.31 527.5,285.31 527,285.31 527,287.3 526.5,287.3 526.5,287.3 526,287.3 526,287.3 525.5,287.3 525.5,287.3 525,287.3 525,287.3 524.5,287.3 524.5,287.3 524,287.3 524,287.3 523.5,287.3 523.5,287.3 523,287.3 523,287.3 522.5,287.3 522.5,287.3 522,287.3 522,287.3 521.5,287.3 521.5,287.3 521,287.3 521,287.3 520.5,287.3 520.5,287.3 520,287.3 520,285.34 519.5,285.34 519.5,285.34 519,285.34 519,287.3 518.5,287.3 518.5,287.3 518,287.3 518,287.3 517.5,287.3 517.5,287.3 517,287.3 517,286.76 516.5,286.76 516.5,286.76 516,286.76 516,287.3 515.5,287.3 515.5,287.3 515,287.3 515,287.3 514.5,287.3 514.5,287.3 514,287.3 514,287.3 513.5,287.3 513.5,287.3 513,287.3 513,287.3 512.5,287.3 512.5,287.3 512,287.3 512,286.69 511.5,286.69 511.5,286.69 511,286.69 511,287.3 510.5,287.3 510.5,287.3 510,287.3 510,286.62 509.5,286.62 509.5,286.62 509,286.62 509,287.3 508.5,287.3 508.5,287.3 508,287.3 508,286.58 507.5,286.58 507.5,286.58 507,286.58 507,286.69 506.5,286.69 506.5,286.69 506,286.69 506,286.39 505.5,286.39 505.5,286.39 505,286.39 505,287.3 504.5,287.3 504.5,287.3 504,287.3 504,287.3 503.5,287.3 503.5,287.3 503,287.3 503,287.3 502.5,287.3 502.5,287.3 502,287.3 502,287.3 501.5,287.3 501.5,287.3 501,287.3 501,287.3 500.5,287.3 500.5,287.3 500,287.3 500,286.62 499.5,286.62 499.5,286.62 499,286.62 499,287.3 498.5,287.3 498.5,287.3 498,287.3 498,287.3 497.5,287.3 497.5,287.3 497,287.3 497,287.3 496.5,287.3 496.5,287.3 496,287.3 496,287.3 495.5,287.3 495.5,287.3 495,287.3 495,287.3 494.5,287.3 494.5,287.3 494,287.3 494,287.3 493.5,287.3 493.5,287.3 493,287.3 493,287.3 492.5,287.3 492.5,287.3 492,287.3 492,287.3 491.5,287.3 491.5,287.3 491,287.3 491,287.3 490.5,287.3 490.5,287.3 490,287.3 490,287.3 489.5,287.3 489.5,287.3 489,287.3 489,287.3 488.5,287.3 488.5,287.3 488,287.3 488,287.3 487.5,287.3 487.5,287.3 487,287.3 487,287.3 486.5,287.3 486.5,287.3 486,287.3 486,287.3 485.5,287.3 485.5,287.3 485,287.3 485,287.3 484.5,287.3 484.5,287.3 484,287.3 484,283.7 483.5,283.7 483.5,283.7 483,283.7 483,287.3 482.5,287.3 482.5,287.3 482,287.3 482,284.23 481.5,284.23 481.5,285.15 481,285.15 481,284.72 480.5,284.72 480.5,284.72 480,284.72 480,279.53 479.5,279.53 479.5,279.53 479,279.53 479,285.33 478.5,285.33 478.5,285.33 478,285.33 478,284.36 477.5,284.36 477.5,284.36 477,284.36 477,285.33 476.5,285.33 476.5,285.33 476,285.33 476,285.33 475.5,285.33 475.5,285.33 475,285.33 475,282.45 474.5,282.45 474.5,272.36 474,272.36 474,272.04 473.5,272.04 473.5,272.04 473,272.04 473,274.04 472.5,274.04 472.5,274.04 472,274.04 472,274.04 471.5,274.04 471.5,274.04 471,274.04 471,270.18 470.5,270.18 470.5,270.18 470,270.18 470,272.29 469.5,272.29 469.5,272.29 469,272.29 469,274.04 468.5,274.04 468.5,274.04 468,274.04 468,274.04 467.5,274.04 467.5,274.04 467,274.04 467,271.59 466.5,271.59 466.5,271.59 466,271.59 466,272.98 465.5,272.98 465.5,272.98 465,272.98 465,268.75 464.5,268.75 464.5,268.75 464,268.75 464,269.6 463.5,269.6 463.5,269.6 463,269.6 463,271.45 462.5,271.45 462.5,271.45 462,271.45 462,266.47 461.5,266.47 461.5,266.47 461,266.47 461,264.09 460.5,264.09 460.5,264.09 460,264.09 460,266.94 459.5,266.94 459.5,266.94 459,266.94 459,266.36 458.5,266.36 458.5,266.36 458,266.36 458,266.94 457.5,266.94 457.5,266.94 457,266.94 457,266.61 456.5,266.61 456.5,266.61 456,266.61 456,266.94 455.5,266.94 455.5,266.94 455,266.94 455,272.37 454.5,272.37 454.5,272.37 454,272.37 454,264.61 453.5,264.61 453.5,264.61 453,264.61 453,272.37 452.5,272.37 452.5,272.37 452,272.37 452,272.37 451.5,272.37 451.5,272.37 451,272.37 451,272.37 450.5,272.37 450.5,272.37 450,272.37 450,271.35 449.5,271.35 449.5,271.35 449,271.35 449,272.37 448.5,272.37 448.5,272.37 448,272.37 448,271.42 447.5,271.42 447.5,271.42 447,271.42 447,268.85 446.5,268.85 446.5,270.5 446,270.5 446,272.37 445.5,272.37 445.5,272.37 445,272.37 445,269.98 444.5,269.98 444.5,269.98 444,269.98 444,272.29 443.5,272.29 443.5,272.29 443,272.29 443,264.69 442.5,264.69 442.5,264.69 442,264.69 442,270.69 441.5,270.69 441.5,270.69 441,270.69 441,269.9 440.5,269.9 440.5,269.9 440,269.9 440,271.9 439.5,271.9 439.5,285 439,285 439,283.72 438.5,283.72 438.5,283.72 438,283.72 438,281.74 437.5,281.74 437.5,281.74 437,281.74 437,283.51 436.5,283.51 436.5,283.51 436,283.51 436,285.33 435.5,285.33 435.5,285.33 435,285.33 435,285.22 434.5,285.22 434.5,285.22 434,285.22 434,285.3 433.5,285.3 433.5,285.3 433,285.3 433,283.58 432.5,283.58 432.5,283.07 432,283.07 432,284.72 431.5,284.72 431.5,284.72 431,284.72 431,283.03 430.5,283.03 430.5,283.03 430,283.03 430,278.43 429.5,278.43 429.5,278.43 429,278.43 429,284.9 428.5,284.9 428.5,284.9 428,284.9 428,285.33 427.5,285.33 427.5,287.3 427,287.3 427,287.3 426.5,287.3 426.5,287.3 426,287.3 426,287.3 425.5,287.3 425.5,287.3 425,287.3 425,281.54 424.5,281.54 424.5,281.54 424,281.54 424,283.04 423.5,283.04 423.5,283.04 423,283.04 423,280.7 422.5,280.7 422.5,280.7 422,280.7 422,279.86 421.5,279.86 421.5,279.86 421,279.86 421,282.93 420.5,282.93 420.5,282.93 420,282.93 420,275.8 419.5,275.8 419.5,275.8 419,275.8 419,279.42 418.5,279.42 418.5,279.42 418,279.42 418,287.3 417.5,287.3 417.5,287.3 417,287.3 417,287.3 416.5,287.3 416.5,287.3 416,287.3 416,287.3 415.5,287.3 415.5,287.3 415,287.3 415,287.3 414.5,287.3 414.5,287.3 414,287.3 414,284.25 413.5,284.25 413.5,282.82 413,282.82 413,272.08 412.5,272.08 412.5,272.08 412,272.08 412,281.12 411.5,281.12 411.5,281.12 411,281.12 411,282.82 410.5,282.82 410.5,282.82 410,282.82 410,259.89 409.5,259.89 409.5,259.89 409,259.89 409,257.45 408.5,257.45 408.5,257.45 408,257.45 408,261.74 407.5,261.74 407.5,261.74 407,261.74 407,260 406.5,260 406.5,259.62 406,259.62 406,255.05 405.5,255.05 405.5,255.05 405,255.05 405,260.55 404.5,260.55 404.5,246.43 404,246.43 404,243.9 403.5,243.9 403.5,243.9 403,243.9 403,244.47 402.5,244.47 402.5,244.47 402,244.47 402,244.22 401.5,244.22 401.5,244.22 401,244.22 401,245.58 400.5,245.58 400.5,245.58 400,245.58 400,244.62 399.5,244.62 399.5,244.62 399,244.62 399,246.38 398.5,246.38 398.5,246.38 398,246.38 398,246.86 397.5,246.86 397.5,246.86 397,246.86 397,246.83 396.5,246.83 396.5,246.83 396,246.83 396,243.68 395.5,243.68 395.5,243.68 395,243.68 395,246.87 394.5,246.87 394.5,246.87 394,246.87 394,242.1 393.5,242.1 393.5,242.1 393,242.1 393,245.44 392.5,245.44 392.5,245.44 392,245.44 392,244.05 391.5,244.05 391.5,244.05 391,244.05 391,246.7 390.5,246.7 390.5,246.7 390,246.7 390,246.64 389.5,246.64 389.5,253.88 389,253.88 389,253.75 388.5,253.75 388.5,253.75 388,253.75 388,248.97 387.5,248.97 387.5,248.97 387,248.97 387,252.33 386.5,252.33 386.5,271.04 386,271.04 386,274.88 385.5,274.88 385.5,274.88 385,274.88 385,274.88 384.5,274.88 384.5,274.88 384,274.88 384,267.51 383.5,267.51 383.5,265.36 383,265.36 383,271.95 382.5,271.95 382.5,271.95 382,271.95 382,271.15 381.5,271.15 381.5,271.15 381,271.15 381,271.05 380.5,271.05 380.5,271.05 380,271.05 380,271.95 379.5,271.95 379.5,271.95 379,271.95 379,264.62 378.5,264.62 378.5,264.62 378,264.62 378,264.43 377.5,264.43 377.5,264.43 377,264.43 377,267.05 376.5,267.05 376.5,267.05 376,267.05 376,268.78 375.5,268.78 375.5,268.78 375,268.78 375,270.28 374.5,270.28 374.5,270.28 374,270.28 374,270.25 373.5,270.25 373.5,270.25 373,270.25 373,263.31 372.5,263.31 372.5,263.31 372,263.31 372,271.73 371.5,271.73 371.5,271.73 371,271.73 371,266.72 370.5,266.72 370.5,266.72 370,266.72 370,273.22 369.5,273.22 369.5,273.22 369,273.22 369,272.84 368.5,272.84 368.5,272.84 368,272.84 368,273.99 367.5,273.99 367.5,273.99 367,273.99 367,269.7 366.5,269.7 366.5,269.7 366,269.7 366,262.23 365.5,262.23 365.5,262.23 365,262.23 365,266.69 364.5,266.69 364.5,266.69 364,266.69 364,267.31 363.5,267.31 363.5,267.31 363,267.31 363,266.96 362.5,266.96 362.5,262.62 362,262.62 362,257.63 361.5,257.63 361.5,257.63 361,257.63 361,264.01 360.5,264.01 360.5,264.01 360,264.01 360,264.01 359.5,264.01 359.5,264.01 359,264.01 359,263.12 358.5,263.12 358.5,263.12 358,263.12 358,260.38 357.5,260.38 357.5,260.38 357,260.38 357,261.03 356.5,261.03 356.5,252.31 356,252.31 356,254.4 355.5,254.4 355.5,254.4 355,254.4 355,252.28 354.5,252.28 354.5,252.28 354,252.28 354,254.4 353.5,254.4 353.5,254.4 353,254.4 353,247.38 352.5,247.38 352.5,247.38 352,247.38 352,248.28 351.5,248.28 351.5,248.28 351,248.28 351,243.48 350.5,243.48 350.5,238.31 350,238.31 350,242.48 349.5,242.48 349.5,242.48 349,242.48 349,242.34 348.5,242.34 348.5,242.34 348,242.34 348,241.2 347.5,241.2 347.5,241.2 347,241.2 347,244.78 346.5,244.78 346.5,244.78 346,244.78 346,244.78 345.5,244.78 345.5,244.78 345,244.78 345,241.42 344.5,241.42 344.5,241.42 344,241.42 344,244.78 343.5,244.78 343.5,244.78 343,244.78 343,239.34 342.5,239.34 342.5,239.34 342,239.34 342,244.78 341.5,244.78 341.5,244.78 341,244.78 341,244.78 340.5,244.78 340.5,244.78 340,244.78 340,241.94 339.5,241.94 339.5,241.94 339,241.94 339,244.2 338.5,244.2 338.5,244.2 338,244.2 338,244.78 337.5,244.78 337.5,245.62 337,245.62 337,244.62 336.5,244.62 336.5,244.62 336,244.62 336,244.82 335.5,244.82 335.5,244.82 335,244.82 335,243.62 334.5,243.62 334.5,243.62 334,243.62 334,245.21 333.5,245.21 333.5,245.21 333,245.21 333,244.98 332.5,244.98 332.5,244.98 332,244.98 332,245.62 331.5,245.62 331.5,278.64 331,278.64 331,278.64 330.5,278.64 330.5,278.64 330,278.64 330,269.49 329.5,269.49 329.5,277.91 329,277.91 329,283.85 328.5,283.85 328.5,283.85 328,283.85 328,285.72 327.5,285.72 327.5,287.3 327,287.3 327,287.3 326.5,287.3 326.5,287.3 326,287.3 326,287.3 325.5,287.3 325.5,287.3 325,287.3 325,287.3 324.5,287.3 324.5,287.3 324,287.3 324,287.3 323.5,287.3 323.5,287.3 323,287.3 323,287.3 322.5,287.3 322.5,287.3 322,287.3 322,287.3 321.5,287.3 321.5,287.3 321,287.3 321,287.3 320.5,287.3 320.5,287.3 320,287.3 320,287.3 319.5,287.3 319.5,287.3 319,287.3 319,284.07 318.5,284.07 318.5,284.07 318,284.07 318,284.07 317.5,284.07 317.5,284.07 317,284.07 317,284.07 316.5,284.07 316.5,284.07 316,284.07 316,284.07 315.5,284.07 315.5,284.07 315,284.07 315,284.07 314.5,284.07 314.5,284.07 314,284.07 314,284.07 313.5,284.07 313.5,281.15 313,281.15 313,281.15 312.5,281.15 312.5,281.15 312,281.15 312,281.15 311.5,281.15 311.5,281.15 311,281.15 311,281.15 310.5,281.15 310.5,281.15 310,281.15 310,279.48 309.5,279.48 309.5,279.48 309,279.48 309,279.48 308.5,279.48 308.5,279.48 308,279.48 308,279.48 307.5,279.48 307.5,279.48 307,279.48 307,279.48 306.5,279.48 306.5,279.48 306,279.48 306,281.15 305.5,281.15 305.5,281.15 305,281.15 305,281.15 304.5,281.15 304.5,281.15 304,281.15 304,281.15 303.5,281.15 303.5,281.15 303,281.15 303,281.15 302.5,281.15 302.5,281.15 302,281.15 302,284.49 301.5,284.49 301.5,284.49 301,284.49 301,284.49 300.5,284.49 300.5,284.49 300,284.49 300,284.49 299.5,284.49 299.5,284.49 299,284.49 299,284.49 298.5,284.49 298.5,287.3 298,287.3 298,287.3 297.5,287.3 297.5,287.3 297,287.3 297,287.3 296.5,287.3 296.5,287.3 296,287.3 296,287.3 295.5,287.3 295.5,287.3 295,287.3 295,286.51 294.5,286.51 294.5,286.51 294,286.51 294,287.3 293.5,287.3 293.5,287.3 293,287.3 293,287.3 292.5,287.3 292.5,287.3 292,287.3 292,287.3 291.5,287.3 291.5,287.3 291,287.3 291,287.3 290.5,287.3 290.5,287.3 290,287.3 290,287.3 289.5,287.3 289.5,287.3 289,287.3 289,287.3 288.5,287.3 288.5,287.3 288,287.3 288,287.3 287.5,287.3 287.5,287.3 287,287.3 287,286.43 286.5,286.43 286.5,286.43 286,286.43 286,287.3 285.5,287.3 285.5,287.3 285,287.3 285,287.3 284.5,287.3 284.5,287.3 284,287.3 284,287.3 283.5,287.3 283.5,287.3 283,287.3 283,286.61 282.5,286.61 282.5,286.61 282,286.61 282,287.3 281.5,287.3 281.5,287.3 281,287.3 281,287.3 280.5,287.3 280.5,287.3 280,287.3 280,287.3 279.5,287.3 279.5,287.3 279,287.3 279,287.3 278.5,287.3 278.5,287.3 278,287.3 278,287.3 277.5,287.3 277.5,287.3 277,287.3 277,286.58 276.5,286.58 276.5,286.58 276,286.58 276,287.3 275.5,287.3 275.5,287.3 275,287.3 275,287.3 274.5,287.3 274.5,287.3 274,287.3 274,287.3 273.5,287.3 273.5,287.3 273,287.3 273,286.73 272.5,286.73 272.5,286.73 272,286.73 272,287.3 271.5,287.3 271.5,287.3 271,287.3 271,287.3 270.5,287.3 270.5,287.3 270,287.3 270,287.3 269.5,287.3 269.5,287.3 269,287.3 269,287.3 268.5,287.3 268.5,287.3 268,287.3 268,287.3 267.5,287.3 267.5,287.3 267,287.3 267,287.3 266.5,287.3 266.5,287.3 266,287.3 266,285.34 265.5,285.34 265.5,285.34 265,285.34 265,287.3 264.5,287.3 264.5,287.3 264,287.3 264,286.63 263.5,286.63 263.5,286.63 263,286.63 263,287.3 262.5,287.3 262.5,287.3 262,287.3 262,287.3 261.5,287.3 261.5,287.3 261,287.3 261,287.3 260.5,287.3 260.5,287.3 260,287.3 260,287.3 259.5,287.3 259.5,287.3 259,287.3 259,286.47 258.5,286.47 258.5,286.47 258,286.47 258,287.3 257.5,287.3 257.5,287.3 257,287.3 257,286.6 256.5,286.6 256.5,286.6 256,286.6 256,287.3 255.5,287.3 255.5,287.3 255,287.3" fill="#d40030"/>
<polygon points="545,283.75 545.5,283.75 545.5,283.75 546,283.75 546,283.75 546.5,283.75 546.5,283.75 547,283.75 547,283.75 547.5,283.75 547.5,283.75 548,283.75 548,283.75 548.5,283.75 548.5,283.75 549,283.75 549,283.75 549.5,283.75 549.5,283.75 550,283.75 550,283.75 550.5,283.75 550.5,283.75 551,283.75 551,283.75 551.5,283.75 551.5,283.75 552,283.75 552,283.75 552.5,283.75 552.5,283.75 553,283.75 553,283.75 553.5,283.75 553.5,283.75 554,283.75 554,283.5 554.5,283.5 554.5,283.5 555,283.5 555,283.75 555.5,283.75 555.5,283.75 556,283.75 556,283.75 556.5,283.75 556.5,283.75 557,283.75 557,283.75 557.5,283.75 557.5,283.75 558,283.75 558,283.75 558.5,283.75 558.5,283.75 559,283.75 559,283.38 559.5,283.38 559.5,283.38 560,283.38 560,283.75 560.5,283.75 560.5,283.75 561,283.75 561,283.75 561.5,283.75 561.5,283.75 562,283.75 562,283.75 562.5,283.75 562.5,283.75 563,283.75 563,283.75 563.5,283.75 563.5,283.75 564,283.75 564,283.75 564.5,283.75 564.5,283.75 565,283.75 565,283.75 565.5,283.75 565.5,283.75 566,283.75 566,283.75 566.5,283.75 566.5,283.75 567,283.75 567,279.2 567.5,279.2 567.5,279.2 568,279.2 568,283.75 568.5,283.75 568.5,283.75 569,283.75 569,283.75 569.5,283.75 569.5,283.75 570,283.75 570,283.75 570.5,283.75 570.5,283.75 571,283.75 571,279.12 571.5,279.12 571.5,279.12 572,279.12 572,279.06 572.5,279.06 572.5,279.06 573,279.06 573,275.52 573.5,275.52 573.5,275.52 574,275.52 574,277 574.5,277 574.5,280.2 575,280.2 575,280.94 575.5,280.94 575.5,280.94 576,280.94 576,283.75 576.5,283.75 576.5,283.75 577,283.75 577,279.61 577.5,279.61 577.5,279.61 578,279.61 578,283.75 578.5,283.75 578.5,283.75 579,283.75 579,283.75 579.5,283.75 579.5,283.75 580,283.75 580,279.77 580.5,279.77 580.5,279.77 581,279.77 581,278.98 581.5,278.98 581.5,278.98 582,278.98 582,283.75 582.5,283.75 582.5,283.75 583,283.75 583,280.71 583.5,280.71 583.5,280.71 584,280.71 584,283.75 584.5,283.75 584.5,283.75 585,283.75 585,283.75 585.5,283.75 585.5,283.75 586,283.75 586,283.75 586.5,283.75 586.5,283.75 587,283.75 587,274.13 587.5,274.13 587.5,274.13 588,274.13 588,272.55 588.5,272.55 588.5,272.55 589,272.55 589,283.75 589.5,283.75 589.5,283.75 590,283.75 590,270.39 590.5,270.39 590.5,270.39 591,270.39 591,274.63 591.5,274.63 591.5,274.63 592,274.63 592,283.75 592.5,283.75 592.5,283.75 593,283.75 593,275 593.5,275 593.5,275 594,275 594,270.11 594.5,270.11 594.5,270.11 595,270.11 595,269.84 595.5,269.84 595.5,269.84 596,269.84 596,269.13 596.5,269.13 596.5,269.13 597,269.13 597,269.81 597.5,269.81 597.5,269.81 598,269.81 598,272.77 598.5,272.77 598.5,272.77 599,272.77 599,268.4 599.5,268.4 599.5,268.4 600,268.4 600,270.67 600.5,270.67 600.5,270.67 601,270.67 601,269.57 601.5,269.57 601.5,269.57 602,269.57 602,269.2 602.5,269.2 602.5,269.2 603,269.2 603,268.43 603.5,268.43 603.5,268.43 604,268.43 604,268.3 604.5,268.3 604.5,268.3 605,268.3 605,269.83 605.5,269.83 605.5,251.14 606,251.14 606,253.54 606.5,253.54 606.5,253.54 607,253.54 607,251.14 607.5,251.14 607.5,251.14 608,251.14 608,251.87 608.5,251.87 608.5,260 609,260 609,259.5 609.5,259.5 609.5,259.5 610,259.5 610,261.17 610.5,261.17 610.5,261.17 611,261.17 611,261.8 611.5,261.8 611.5,261.8 612,261.8 612,262.98 612.5,262.98 612.5,262.98 613,262.98 613,262.16 613.5,262.16 613.5,262.16 614,262.16 614,259.5 614.5,259.5 614.5,259.5 615,259.5 615,264.08 615.5,264.08 615.5,264.08 616,264.08 616,263.92 616.5,263.92 616.5,263.92 617,263.92 617,264.42 617.5,264.42 617.5,264.42 618,264.42 618,264.61 618.5,264.61 618.5,264.61 619,264.61 619,263.9 619.5,263.9 619.5,263.9 620,263.9 620,264.01 620.5,264.01 620.5,264.01 621,264.01 621,265.16 621.5,265.16 621.5,267.42 622,267.42 622,266.59 622.5,266.59 622.5,266.59 623,266.59 623,267.37 623.5,267.37 623.5,267.37 624,267.37 624,267.93 624.5,267.93 624.5,267.93 625,267.93 625,266.56 625.5,266.56 625.5,272.83 626,272.83 626,272.46 626.5,272.46 626.5,272.46 627,272.46 627,272.54 627.5,272.54 627.5,272.54 628,272.54 628,272.86 628.5,272.86 628.5,272.86 629,272.86 629,273.41 629.5,273.41 629.5,273.41 630,273.41 630,273.09 630.5,273.09 630.5,273.09 631,273.09 631,274.14 631.5,274.14 631.5,274.14 632,274.14 632,280.91 632.5,280.91 632.5,280.91 633,280.91 633,283.75 633.5,283.75 633.5,283.75 634,283.75 634,279.15 634.5,279.15 634.5,279.15 635,279.15 635,283.75 635.5,283.75 635.5,283.75 636,283.75 636,281.11 636.5,281.11 636.5,281.11 637,281.11 637,283.75 637.5,283.75 637.5,283.75 638,283.75 638,280.43 638.5,280.43 638.5,281.96 639,281.96 639,281.77 639.5,281.77 639.5,281.77 640,281.77 640,282.7 640.5,282.7 640.5,282.7 641,282.7 641,283.75 641.5,283.75 641.5,283.75 642,283.75 642,283.75 642.5,283.75 642.5,283.75 643,283.75 643,283.75 643.5,283.75 643.5,283.75 644,283.75 644,283.75 644.5,283.75 644.5,287.3 644,287.3 644,287.3 643.5,287.3 643.5,287.3 643,287.3 643,287.3 642.5,287.3 642.5,287.3 642,287.3 642,287.3 641.5,287.3 641.5,287.3 641,287.3 641,287.3 640.5,287.3 640.5,287.3 640,287.3 640,287.3 639.5,287.3 639.5,287.3 639,287.3 639,287.3 638.5,287.3 638.5,287.3 638,287.3 638,287.3 637.5,287.3 637.5,287.3 637,287.3 637,287.3 636.5,287.3 636.5,287.3 636,287.3 636,287.3 635.5,287.3 635.5,287.3 635,287.3 635,287.3 634.5,287.3 634.5,287.3 634,287.3 634,287.3 633.5,287.3 633.5,287.3 633,287.3 633,287.3 632.5,287.3 632.5,287.3 632,287.3 632,280.73 631.5,280.73 631.5,280.73 631,280.73 631,280.73 630.5,280.73 630.5,280.73 630,280.73 630,280.73 629.5,280.73 629.5,280.73 629,280.73 629,280.73 628.5,280.73 628.5,280.73 628,280.73 628,280.73 627.5,280.73 627.5,280.73 627,280.73 627,280.73 626.5,280.73 626.5,280.73 626,280.73 626,280.73 625.5,280.73 625.5,274.46 625,274.46 625,274.46 624.5,274.46 624.5,274.46 624,274.46 624,274.46 623.5,274.46 623.5,274.46 623,274.46 623,274.46 622.5,274.46 622.5,274.46 622,274.46 622,274.46 621.5,274.46 621.5,272.37 621,272.37 621,272.37 620.5,272.37 620.5,272.37 620,272.37 620,272.37 619.5,272.37 619.5,272.37 619,272.37 619,272.37 618.5,272.37 618.5,272.37 618,272.37 618,272.37 617.5,272.37 617.5,272.37 617,272.37 617,272.37 616.5,272.37 616.5,272.37 616,272.37 616,272.37 615.5,272.37 615.5,272.37 615,272.37 615,267.33 614.5,267.33 614.5,267.33 614,267.33 614,269.96 613.5,269.96 613.5,269.96 613,269.96 613,270.28 612.5,270.28 612.5,270.28 612,270.28 612,268.48 611.5,268.48 611.5,268.48 611,268.48 611,270.28 610.5,270.28 610.5,270.28 610,270.28 610,269.32 609.5,269.32 609.5,269.32 609,269.32 609,270.28 608.5,270.28 608.5,266.1 608,266.1 608,261.33 607.5,261.33 607.5,261.33 607,261.33 607,266.1 606.5,266.1 606.5,266.1 606,266.1 606,263.71 605.5,263.71 605.5,278.64 605,278.64 605,278.64 604.5,278.64 604.5,278.64 604,278.64 604,278.64 603.5,278.64 603.5,278.64 603,278.64 603,278.64 602.5,278.64 602.5,278.64 602,278.64 602,278.64 601.5,278.64 601.5,278.64 601,278.64 601,278.64 600.5,278.64 600.5,278.64 600,278.64 600,282.82 599.5,282.82 599.5,282.82 599,282.82 599,282.82 598.5,282.82 598.5,282.82 598,282.82 598,282.82 597.5,282.82 597.5,282.82 597,282.82 597,277.92 596.5,277.92 596.5,277.92 596,277.92 596,279.13 595.5,279.13 595.5,279.13 595,279.13 595,282.82 594.5,282.82 594.5,282.82 594,282.82 594,284.02 593.5,284.02 593.5,284.02 593,284.02 593,287.3 592.5,287.3 592.5,287.3 592,287.3 592,287.3 591.5,287.3 591.5,287.3 591,287.3 591,287.3 590.5,287.3 590.5,287.3 590,287.3 590,287.3 589.5,287.3 589.5,287.3 589,287.3 589,287.3 588.5,287.3 588.5,287.3 588,287.3 588,287.3 587.5,287.3 587.5,287.3 587,287.3 587,287.3 586.5,287.3 586.5,287.3 586,287.3 586,287.3 585.5,287.3 585.5,287.3 585,287.3 585,287.3 584.5,287.3 584.5,287.3 584,287.3 584,285.78 583.5,285.78 583.5,285.78 583,285.78 583,287.3 582.5,287.3 582.5,287.3 582,287.3 582,287.3 581.5,287.3 581.5,287.3 581,287.3 581,285.05 580.5,285.05 580.5,285.05 580,285.05 580,287.3 579.5,287.3 579.5,287.3 579,287.3 579,287.3 578.5,287.3 578.5,287.3 578,287.3 578,287.3 577.5,287.3 577.5,287.3 577,287.3 577,287.3 576.5,287.3 576.5,287.3 576,287.3 576,285.72 575.5,285.72 575.5,285.72 575,285.72 575,287.3 574.5,287.3 574.5,287.3 574,287.3 574,287.3 573.5,287.3 573.5,287.3 573,287.3 573,287.3 572.5,287.3 572.5,287.3 572,287.3 572,287.3 571.5,287.3 571.5,287.3 571,287.3 571,287.3 570.5,287.3 570.5,287.3 570,287.3 570,287.3 569.5,287.3 569.5,287.3 569,287.3 569,287.3 568.5,287.3 568.5,287.3 568,287.3 568,285.13 567.5,285.13 567.5,285.13 567,285.13 567,287.3 566.5,287.3 566.5,287.3 566,287.3 566,287.3 565.5,287.3 565.5,287.3 565,287.3 565,287.3 564.5,287.3 564.5,287.3 564,287.3 564,287.3 563.5,287.3 563.5,287.3 563,287.3 563,287.3 562.5,287.3 562.5,287.3 562,287.3 562,287.3 561.5,287.3 561.5,287.3 561,287.3 561,287.3 560.5,287.3 560.5,287.3 560,287.3 560,286.64 559.5,286.64 559.5,286.64 559,286.64 559,287.3 558.5,287.3 558.5,287.3 558,287.3 558,287.3 557.5,287.3 557.5,287.3 557,287.3 557,287.3 556.5,287.3 556.5,287.3 556,287.3 556,287.3 555.5,287.3 555.5,287.3 555,287.3 555,286.76 554.5,286.76 554.5,286.76 554,286.76 554,287.3 553.5,287.3 553.5,287.3 553,287.3 553,287.3 552.5,287.3 552.5,287.3 552,287.3 552,287.3 551.5,287.3 551.5,287.3 551,287.3 551,287.3 550.5,287.3 550.5,287.3 550,287.3 550,287.3 549.5,287.3 549.5,287.3 549,287.3 549,287.3 548.5,287.3 548.5,287.3 548,287.3 548,287.3 547.5,287.3 547.5,287.3 547,287.3 547,287.3 546.5,287.3 546.5,287.3 546,287.3 546,287.3 545.5,287.3 545.5,287.3 545,287.3" fill="#d40030"/>
<line x1="215" y1="286.5" x2="223.5" y2="286.5" stroke="#2e2e60" stroke-width="1"/>
<line x1="219" y1="280.5" x2="223.5" y2="280.5" stroke="#2e2e60" stroke-width="1"/>
<line x1="219" y1="275.5" x2="223.5" y2="275.5" stroke="#2e2e60" stroke-width="1"/>
<line x1="219" y1="270.5" x2="223.5" y2="270.5" stroke="#2e2e60" stroke-width="1"/>
<text x="208.5" y="291.7" text-anchor="end" font-size="13.7" fill="#34346a" letter-spacing="-0.75">0</text>
<line x1="215" y1="265.5" x2="223.5" y2="265.5" stroke="#2e2e60" stroke-width="1"/>
<line x1="219" y1="259.5" x2="223.5" y2="259.5" stroke="#2e2e60" stroke-width="1"/>
<line x1="219" y1="254.5" x2="223.5" y2="254.5" stroke="#2e2e60" stroke-width="1"/>
<line x1="219" y1="249.5" x2="223.5" y2="249.5" stroke="#2e2e60" stroke-width="1"/>
<text x="208.5" y="270.7" text-anchor="end" font-size="13.7" fill="#34346a" letter-spacing="-0.75">5</text>
<line x1="215" y1="244.5" x2="223.5" y2="244.5" stroke="#2e2e60" stroke-width="1"/>
<line x1="219" y1="238.5" x2="223.5" y2="238.5" stroke="#2e2e60" stroke-width="1"/>
<line x1="219" y1="233.5" x2="223.5" y2="233.5" stroke="#2e2e60" stroke-width="1"/>
<line x1="219" y1="228.5" x2="223.5" y2="228.5" stroke="#2e2e60" stroke-width="1"/>
<text x="208.5" y="249.7" text-anchor="end" font-size="13.7" fill="#34346a" letter-spacing="-0.75">10</text>
<line x1="215" y1="223.5" x2="223.5" y2="223.5" stroke="#2e2e60" stroke-width="1"/>
<line x1="219" y1="218.5" x2="223.5" y2="218.5" stroke="#2e2e60" stroke-width="1"/>
<line x1="219" y1="212.5" x2="223.5" y2="212.5" stroke="#2e2e60" stroke-width="1"/>
<line x1="219" y1="207.5" x2="223.5" y2="207.5" stroke="#2e2e60" stroke-width="1"/>
<text x="208.5" y="228.7" text-anchor="end" font-size="13.7" fill="#34346a" letter-spacing="-0.75">15</text>
<line x1="215" y1="202.5" x2="223.5" y2="202.5" stroke="#2e2e60" stroke-width="1"/>
<line x1="219" y1="197.5" x2="223.5" y2="197.5" stroke="#2e2e60" stroke-width="1"/>
<line x1="219" y1="191.5" x2="223.5" y2="191.5" stroke="#2e2e60" stroke-width="1"/>
<line x1="219" y1="186.5" x2="223.5" y2="186.5" stroke="#2e2e60" stroke-width="1"/>
<text x="208.5" y="207.7" text-anchor="end" font-size="13.7" fill="#34346a" letter-spacing="-0.75">20</text>
<line x1="215" y1="181.5" x2="223.5" y2="181.5" stroke="#2e2e60" stroke-width="1"/>
<text x="208.5" y="186.7" text-anchor="end" font-size="13.7" fill="#34346a" letter-spacing="-0.75">25</text>
<text x="223.4" y="309.9" text-anchor="middle" font-size="12.5" fill="#34346a">8</text>
<text x="247.4" y="309.9" text-anchor="middle" font-size="12.5" fill="#34346a">9</text>
<text x="271.4" y="309.9" text-anchor="middle" font-size="12.5" fill="#34346a">10</text>
<text x="295.4" y="309.9" text-anchor="middle" font-size="12.5" fill="#34346a">11</text>
<text x="319.3" y="309.9" text-anchor="middle" font-size="12.5" fill="#34346a">N</text>
<text x="341.32" y="309.9" text-anchor="middle" font-size="12.5" fill="#34346a">1</text>
<text x="363.34" y="309.9" text-anchor="middle" font-size="12.5" fill="#34346a">2</text>
<text x="385.36" y="309.9" text-anchor="middle" font-size="12.5" fill="#34346a">3</text>
<text x="407.38" y="309.9" text-anchor="middle" font-size="12.5" fill="#34346a">4</text>
<text x="429.4" y="309.9" text-anchor="middle" font-size="12.5" fill="#34346a">5</text>
<text x="451.42" y="309.9" text-anchor="middle" font-size="12.5" fill="#34346a">6</text>
<text x="473.44" y="309.9" text-anchor="middle" font-size="12.5" fill="#34346a">7</text>
<text x="495.46" y="309.9" text-anchor="middle" font-size="12.5" fill="#34346a">8</text>
<text x="517.48" y="309.9" text-anchor="middle" font-size="12.5" fill="#34346a">9</text>
<text x="539.5" y="309.9" text-anchor="middle" font-size="12.5" fill="#34346a">10</text>
<text x="561.52" y="309.9" text-anchor="middle" font-size="12.5" fill="#34346a">11</text>
<text x="583.54" y="309.9" text-anchor="middle" font-size="12.5" fill="#34346a">M</text>
<text x="605.56" y="309.9" text-anchor="middle" font-size="12.5" fill="#34346a">1</text>
<text x="627.58" y="309.9" text-anchor="middle" font-size="12.5" fill="#34346a">2</text>
<text x="649.6" y="309.9" text-anchor="middle" font-size="12.5" fill="#34346a">3</text>
<text x="671.62" y="309.9" text-anchor="middle" font-size="12.5" fill="#34346a">4</text>
<text x="693.64" y="309.9" text-anchor="middle" font-size="12.5" fill="#34346a">5</text>
<text x="715.66" y="309.9" text-anchor="middle" font-size="12.5" fill="#34346a">6</text>
<text x="737.68" y="309.9" text-anchor="middle" font-size="12.5" fill="#34346a">7</text>
<text x="759.7" y="309.9" text-anchor="middle" font-size="12.5" fill="#34346a">8</text>
<rect x="179" y="346" width="599" height="141" fill="#000"/>
<rect x="181" y="348" width="595" height="137" fill="#b3b3cc"/>
<line x1="223" y1="355.5" x2="762" y2="355.5" stroke="#2e2e60" stroke-width="1" stroke-dasharray="4 1"/>
<line x1="223" y1="367.5" x2="762" y2="367.5" stroke="#2e2e60" stroke-width="1" stroke-dasharray="4 1"/>
<line x1="223" y1="379.5" x2="762" y2="379.5" stroke="#2e2e60" stroke-width="1" stroke-dasharray="4 1"/>
<line x1="223" y1="391.5" x2="762" y2="391.5" stroke="#2e2e60" stroke-width="1" stroke-dasharray="4 1"/>
<line x1="223" y1="403.5" x2="762" y2="403.5" stroke="#2e2e60" stroke-width="1" stroke-dasharray="4 1"/>
<line x1="223" y1="416.5" x2="762" y2="416.5" stroke="#2e2e60" stroke-width="1" stroke-dasharray="4 1"/>
<line x1="223" y1="429.5" x2="762" y2="429.5" stroke="#2e2e60" stroke-width="1" stroke-dasharray="4 1"/>
<line x1="223" y1="442.5" x2="762" y2="442.5" stroke="#2e2e60" stroke-width="1" stroke-dasharray="4 1"/>
<line x1="247.5" y1="355" x2="247.5" y2="455.5" stroke="#2e2e60" stroke-width="1" stroke-dasharray="3 2"/>
<line x1="271.5" y1="355" x2="271.5" y2="455.5" stroke="#2e2e60" stroke-width="1" stroke-dasharray="3 2"/>
<line x1="295.5" y1="355" x2="295.5" y2="455.5" stroke="#2e2e60" stroke-width="1" stroke-dasharray="3 2"/>
<line x1="319.5" y1="355" x2="319.5" y2="455.5" stroke="#2e2e60" stroke-width="1" stroke-dasharray="3 2"/>
<line x1="341.5" y1="355" x2="341.5" y2="455.5" stroke="#2e2e60" stroke-width="1" stroke-dasharray="3 2"/>
<line x1="363.5" y1="355" x2="363.5" y2="455.5" stroke="#2e2e60" stroke-width="1" stroke-dasharray="3 2"/>
<line x1="385.5" y1="355" x2="385.5" y2="455.5" stroke="#2e2e60" stroke-width="1" stroke-dasharray="3 2"/>
<line x1="407.5" y1="355" x2="407.5" y2="455.5" stroke="#2e2e60" stroke-width="1" stroke-dasharray="3 2"/>
<line x1="429.5" y1="355" x2="429.5" y2="455.5" stroke="#2e2e60" stroke-width="1" stroke-dasharray="3 2"/>
<line x1="451.5" y1="355" x2="451.5" y2="455.5" stroke="#2e2e60" stroke-width="1" stroke-dasharray="3 2"/>
<line x1="473.5" y1="355" x2="473.5" y2="455.5" stroke="#2e2e60" stroke-width="1" stroke-dasharray="3 2"/>
<line x1="495.5" y1="355" x2="495.5" y2="455.5" stroke="#2e2e60" stroke-width="1" stroke-dasharray="3 2"/>
<line x1="517.5" y1="355" x2="517.5" y2="455.5" stroke="#2e2e60" stroke-width="1" stroke-dasharray="3 2"/>
<line x1="539.5" y1="355" x2="539.5" y2="455.5" stroke="#2e2e60" stroke-width="1" stroke-dasharray="3 2"/>
<line x1="561.5" y1="355" x2="561.5" y2="455.5" stroke="#2e2e60" stroke-width="1" stroke-dasharray="3 2"/>
<line x1="583.5" y1="355" x2="583.5" y2="455.5" stroke="#2e2e60" stroke-width="1" stroke-dasharray="3 2"/>
<line x1="605.5" y1="355" x2="605.5" y2="455.5" stroke="#2e2e60" stroke-width="1" stroke-dasharray="3 2"/>
<line x1="627.5" y1="355" x2="627.5" y2="455.5" stroke="#2e2e60" stroke-width="1" stroke-dasharray="3 2"/>
<line x1="649.5" y1="355" x2="649.5" y2="455.5" stroke="#2e2e60" stroke-width="1" stroke-dasharray="3 2"/>
<line x1="671.5" y1="355" x2="671.5" y2="455.5" stroke="#2e2e60" stroke-width="1" stroke-dasharray="3 2"/>
<line x1="693.5" y1="355" x2="693.5" y2="455.5" stroke="#2e2e60" stroke-width="1" stroke-dasharray="3 2"/>
<line x1="715.5" y1="355" x2="715.5" y2="455.5" stroke="#2e2e60" stroke-width="1" stroke-dasharray="3 2"/>
<line x1="737.5" y1="355" x2="737.5" y2="455.5" stroke="#2e2e60" stroke-width="1" stroke-dasharray="3 2"/>
<line x1="759.5" y1="355" x2="759.5" y2="455.5" stroke="#2e2e60" stroke-width="1" stroke-dasharray="3 2"/>
<polyline points="240.0,368.7 272.6,368.7 272.6,357.1 286.6,357.1 286.9,362.7 287.8,357.1 289.6,357.1 289.9,362.7 290.6,357.1 296.0,357.1 296.3,362.7 297.0,357.1 297.8,357.1 298.2,362.7 298.8,357.1 302.3,357.1 302.8,456.0 303.6,358.0 304.2,456.0 304.9,360.0 305.5,456.0 306.2,362.0 306.9,450.0 307.6,358.0 308.2,440.0 308.8,357.0 309.4,407.0 309.9,357.1 325.8,357.1 326.4,393.5 330.0,393.5 330.4,399.8 331.0,393.5 332.5,393.5 332.9,399.8 333.6,393.5 342.4,393.8 342.7,399.8 344.3,399.8 344.6,394.1 358.3,394.1 358.3,393.0 359.2,403.2 360.0,392.6 361.0,405.0 361.8,390.7 362.4,394.6 363.2,390.3 363.7,404.9 364.3,392.5 364.8,407.0 365.8,388.7 366.6,395.3 367.3,390.8 367.9,406.5 368.6,393.0 369.6,396.9 370.7,391.0 371.5,399.8 372.3,392.8 372.8,405.6 373.2,387.8 373.8,395.5 374.9,387.9 375.8,394.2 376.8,390.7 377.6,395.0 378.2,387.3 379.2,393.5 379.9,389.1 380.7,395.6 381.4,391.3 381.9,394.6 383.0,388.9 383.8,394.0 384.8,390.1 385.7,394.1 385.9,381.0 386.3,391.7 386.9,396.0 388.0,390.9 388.8,395.7 389.4,392.4 390.4,398.7 391.1,389.3 392.0,399.4 393.1,390.6 394.2,399.8 395.1,388.5 395.9,396.2 396.5,388.5 397.1,393.8 398.1,388.9 398.6,392.7 399.1,400.7 399.8,394.8 400.4,398.6 401.1,392.4 402.2,405.0 403.0,395.7 404.1,403.2 405.0,397.2 405.6,405.7 406.6,392.5 407.5,402.3 408.3,392.7 409.0,403.3 409.7,393.0 410.1,404.5 411.2,397.2 412.1,404.2 413.1,393.9 413.8,402.1 414.9,392.4 415.4,398.9 416.0,397.2 416.7,399.5 417.5,400.0 418.0,368.8 418.6,407.0 419.3,369.0 420.0,406.0 420.8,370.0 421.6,404.0 422.4,372.0 423.0,392.0 424.0,376.0 425.0,393.0 425.8,375.0 426.5,394.0 427.2,370.0 428.2,394.0 429.0,371.0 429.8,394.0 430.3,372.0 430.3,368.8 430.7,374.7 431.2,369.4 431.6,373.1 432.0,369.9 432.6,374.8 433.0,368.6 433.7,375.7 434.4,371.9 434.9,372.5 435.6,370.9 436.2,373.5 436.9,370.2 437.2,374.1 437.7,367.9 438.1,374.6 438.7,367.7 439.1,375.0 439.6,368.5 440.4,373.8 441.0,369.3 441.3,363.2 442.3,366.0 443.0,362.5 443.4,362.9 443.9,364.6 444.9,358.7 445.2,362.7 445.7,368.5 446.5,363.1 447.2,367.4 447.8,364.7 448.6,366.6 449.5,362.2 450.4,367.7 451.1,363.5 451.9,368.5 452.6,376.5 453.4,365.0 454.2,376.0 455.0,365.0 455.0,364.5 455.8,367.8 456.7,362.0 457.7,368.4 458.7,362.6 459.7,368.8 460.2,376.5 461.0,365.0 461.8,376.0 462.4,365.0 462.4,363.9 463.5,367.3 464.3,362.2 465.4,370.0 465.9,363.7 466.4,376.5 467.2,365.0 467.8,376.0 468.4,365.0 468.4,361.1 469.0,367.9 469.5,361.8 470.6,368.8 471.4,363.3 472.5,368.7 473.1,361.5 474.0,368.5 474.6,357.7 475.3,366.3 476.3,362.9 477.2,366.0 478.1,362.0 478.8,369.7 479.6,360.8 480.5,366.5 481.1,361.2 481.7,365.9 482.8,364.0 483.8,369.7 484.2,371.6 485.0,373.2 485.9,365.0 486.5,372.3 487.3,370.6 488.0,380.5 489.1,367.8 489.6,385.3 490.6,366.4 491.1,376.2 491.9,366.2 492.5,385.4 493.0,362.7 500.1,362.7 500.6,449.6 501.2,431.0 502.0,449.0 502.8,431.0 503.3,430.6 507.9,430.6 508.6,449.6 515.5,449.6 516.2,431.6 518.1,430.6 519.5,430.6 520.0,437.0 520.8,430.6 522.5,430.6 523.0,437.0 523.7,430.6 539.3,431.0" fill="none" stroke="#ffff00" stroke-width="2.3" stroke-linejoin="bevel"/>
<polyline points="552.7,431.0 566.5,431.0 566.8,393.9 570.7,393.9 571.1,399.8 572.5,399.8 572.9,393.9 605.7,393.9 606.4,387.0 608.2,387.0 608.9,393.9 639.6,393.9" fill="none" stroke="#ffff00" stroke-width="2.3" stroke-linejoin="bevel"/>
<polyline points="225.5,368.7 229.4,368.7" fill="none" stroke="#ffff00" stroke-width="2.2"/>
<polyline points="232.5,368.7 235.7,368.7" fill="none" stroke="#ffff00" stroke-width="2.2"/>
<polyline points="236.5,368.7 238.0,368.7" fill="none" stroke="#ffff00" stroke-width="2.2"/>
<polyline points="540.5,431.0 543.5,431.0" fill="none" stroke="#ffff00" stroke-width="2.2"/>
<polyline points="544.5,431.0 547.2,431.0" fill="none" stroke="#ffff00" stroke-width="2.2"/>
<polyline points="548.5,431.0 551.5,431.0" fill="none" stroke="#ffff00" stroke-width="2.2"/>
<polyline points="641.0,393.9 644.5,393.9" fill="none" stroke="#ffff00" stroke-width="2.2"/>
<polyline points="645.5,393.9 648.5,393.9" fill="none" stroke="#ffff00" stroke-width="2.2"/>
<polyline points="650.0,393.9 653.0,393.9" fill="none" stroke="#ffff00" stroke-width="2.2"/>
<polyline points="654.5,393.9 657.5,393.9" fill="none" stroke="#ffff00" stroke-width="2.2"/>
<polyline points="658.0,393.9 661.4,393.9" fill="none" stroke="#ffff00" stroke-width="2.2"/>
<polyline points="666.7,393.9 671.0,393.9" fill="none" stroke="#ffff00" stroke-width="2.2"/>
<polyline points="676.2,393.9 678.3,393.9" fill="none" stroke="#ffff00" stroke-width="2.2"/>
<polyline points="687.9,393.9 692.1,393.9" fill="none" stroke="#ffff00" stroke-width="2.2"/>
<polyline points="696.3,393.9 699.5,393.9" fill="none" stroke="#ffff00" stroke-width="2.2"/>
<polyline points="710.5,393.9 712.2,393.9" fill="none" stroke="#ffff00" stroke-width="2.2"/>
<polyline points="728.1,393.9 734.5,393.9" fill="none" stroke="#ffff00" stroke-width="2.2"/>
<polyline points="746.2,393.9 748.3,393.9" fill="none" stroke="#ffff00" stroke-width="2.2"/>
<line x1="223" y1="455.5" x2="762" y2="455.5" stroke="#2e2e60" stroke-width="1.2"/>
<line x1="223.5" y1="355" x2="223.5" y2="456" stroke="#2e2e60" stroke-width="1.3"/>
<line x1="215" y1="355.5" x2="223.5" y2="355.5" stroke="#2e2e60" stroke-width="1"/>
<text style="font-family:DejaVu Sans Condensed, DejaVu Sans, sans-serif" x="191" y="360.5" text-anchor="start" font-size="13.5" fill="#34346a">N</text>
<line x1="215" y1="367.5" x2="223.5" y2="367.5" stroke="#2e2e60" stroke-width="1"/>
<text style="font-family:DejaVu Sans Condensed, DejaVu Sans, sans-serif" x="191" y="372.5" text-anchor="start" font-size="13.5" fill="#34346a" letter-spacing="-0.6">NW</text>
<line x1="215" y1="379.5" x2="223.5" y2="379.5" stroke="#2e2e60" stroke-width="1"/>
<text style="font-family:DejaVu Sans Condensed, DejaVu Sans, sans-serif" x="191" y="384.5" text-anchor="start" font-size="13.5" fill="#34346a">W</text>
<line x1="215" y1="391.5" x2="223.5" y2="391.5" stroke="#2e2e60" stroke-width="1"/>
<text style="font-family:DejaVu Sans Condensed, DejaVu Sans, sans-serif" x="191" y="396.5" text-anchor="start" font-size="13.5" fill="#34346a" letter-spacing="-0.6">SW</text>
<line x1="215" y1="403.5" x2="223.5" y2="403.5" stroke="#2e2e60" stroke-width="1"/>
<text style="font-family:DejaVu Sans Condensed, DejaVu Sans, sans-serif" x="191" y="408.5" text-anchor="start" font-size="13.5" fill="#34346a">S</text>
<line x1="215" y1="416.5" x2="223.5" y2="416.5" stroke="#2e2e60" stroke-width="1"/>
<text style="font-family:DejaVu Sans Condensed, DejaVu Sans, sans-serif" x="191" y="421.5" text-anchor="start" font-size="13.5" fill="#34346a" letter-spacing="-0.6">SE</text>
<line x1="215" y1="429.5" x2="223.5" y2="429.5" stroke="#2e2e60" stroke-width="1"/>
<text style="font-family:DejaVu Sans Condensed, DejaVu Sans, sans-serif" x="191" y="434.5" text-anchor="start" font-size="13.5" fill="#34346a">E</text>
<line x1="215" y1="442.5" x2="223.5" y2="442.5" stroke="#2e2e60" stroke-width="1"/>
<text style="font-family:DejaVu Sans Condensed, DejaVu Sans, sans-serif" x="191" y="447.5" text-anchor="start" font-size="13.5" fill="#34346a" letter-spacing="-0.6">NE</text>
<line x1="215" y1="455.5" x2="223.5" y2="455.5" stroke="#2e2e60" stroke-width="1"/>
<text style="font-family:DejaVu Sans Condensed, DejaVu Sans, sans-serif" x="191" y="460.5" text-anchor="start" font-size="13.5" fill="#34346a">N</text>
<text x="223.4" y="479" text-anchor="middle" font-size="12.5" fill="#34346a">8</text>
<text x="247.4" y="479" text-anchor="middle" font-size="12.5" fill="#34346a">9</text>
<text x="271.4" y="479" text-anchor="middle" font-size="12.5" fill="#34346a">10</text>
<text x="295.4" y="479" text-anchor="middle" font-size="12.5" fill="#34346a">11</text>
<text x="319.3" y="479" text-anchor="middle" font-size="12.5" fill="#34346a">N</text>
<text x="341.32" y="479" text-anchor="middle" font-size="12.5" fill="#34346a">1</text>
<text x="363.34" y="479" text-anchor="middle" font-size="12.5" fill="#34346a">2</text>
<text x="385.36" y="479" text-anchor="middle" font-size="12.5" fill="#34346a">3</text>
<text x="407.38" y="479" text-anchor="middle" font-size="12.5" fill="#34346a">4</text>
<text x="429.4" y="479" text-anchor="middle" font-size="12.5" fill="#34346a">5</text>
<text x="451.42" y="479" text-anchor="middle" font-size="12.5" fill="#34346a">6</text>
<text x="473.44" y="479" text-anchor="middle" font-size="12.5" fill="#34346a">7</text>
<text x="495.46" y="479" text-anchor="middle" font-size="12.5" fill="#34346a">8</text>
<text x="517.48" y="479" text-anchor="middle" font-size="12.5" fill="#34346a">9</text>
<text x="539.5" y="479" text-anchor="middle" font-size="12.5" fill="#34346a">10</text>
<text x="561.52" y="479" text-anchor="middle" font-size="12.5" fill="#34346a">11</text>
<text x="583.54" y="479" text-anchor="middle" font-size="12.5" fill="#34346a">M</text>
<text x="605.56" y="479" text-anchor="middle" font-size="12.5" fill="#34346a">1</text>
<text x="627.58" y="479" text-anchor="middle" font-size="12.5" fill="#34346a">2</text>
<text x="649.6" y="479" text-anchor="middle" font-size="12.5" fill="#34346a">3</text>
<text x="671.62" y="479" text-anchor="middle" font-size="12.5" fill="#34346a">4</text>
<text x="693.64" y="479" text-anchor="middle" font-size="12.5" fill="#34346a">5</text>
<text x="715.66" y="479" text-anchor="middle" font-size="12.5" fill="#34346a">6</text>
<text x="737.68" y="479" text-anchor="middle" font-size="12.5" fill="#34346a">7</text>
<text x="759.7" y="479" text-anchor="middle" font-size="12.5" fill="#34346a">8</text>
</svg>
<div class="tt" style="top:148px">Top Chart:  Jul 22, 2009  to  Jul 28, 2009</div>
<div class="tt" style="top:322px">Middle Chart:  Jul 27, 2009 - 8:00 AM  to  Jul 28, 2009 - 8:00 AM</div>
<div class="tt" style="top:493px;letter-spacing:0.09px">Bottom Chart:  Jul 27, 2009 - 8:00 AM  to  Jul 28, 2009 - 8:00 AM</div>
</body></html>
